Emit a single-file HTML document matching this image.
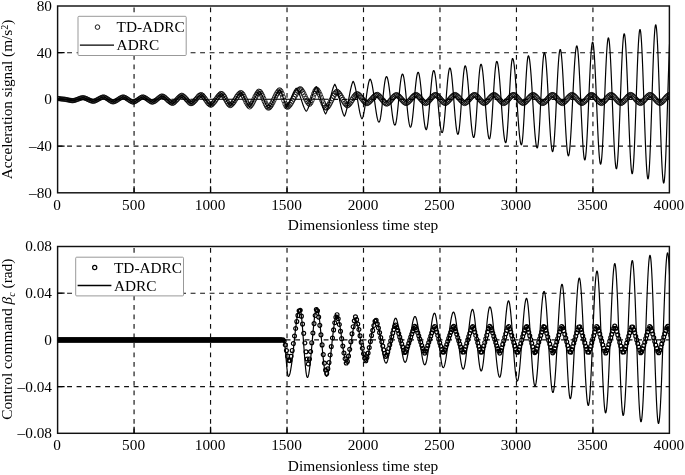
<!DOCTYPE html><html><head><meta charset="utf-8"><style>html,body{margin:0;padding:0;background:#fff;width:685px;height:475px;overflow:hidden}svg{display:block;will-change:transform}text{font-family:"Liberation Serif",serif;fill:#000}</style></head><body><svg width="685" height="475" viewBox="0 0 685 475"><rect width="685" height="475" fill="#fff"/><defs><clipPath id="ct"><rect x="57.6" y="6" width="611.8" height="186.8"/></clipPath><clipPath id="cb"><rect x="57.6" y="246.5" width="611.8" height="186.8"/></clipPath></defs><path d="M134.07 192.8V6" stroke="#111" stroke-width="1.15" stroke-dasharray="4.9 4.6" fill="none"/><path d="M210.55 192.8V6" stroke="#111" stroke-width="1.15" stroke-dasharray="4.9 4.6" fill="none"/><path d="M287.02 192.8V6" stroke="#111" stroke-width="1.15" stroke-dasharray="4.9 4.6" fill="none"/><path d="M363.5 192.8V6" stroke="#111" stroke-width="1.15" stroke-dasharray="4.9 4.6" fill="none"/><path d="M439.98 192.8V6" stroke="#111" stroke-width="1.15" stroke-dasharray="4.9 4.6" fill="none"/><path d="M516.45 192.8V6" stroke="#111" stroke-width="1.15" stroke-dasharray="4.9 4.6" fill="none"/><path d="M592.93 192.8V6" stroke="#111" stroke-width="1.15" stroke-dasharray="4.9 4.6" fill="none"/><path d="M57.6 52.7H669.4" stroke="#111" stroke-width="1.15" stroke-dasharray="4.9 4.6" fill="none"/><path d="M57.6 99.4H669.4" stroke="#111" stroke-width="1.15" stroke-dasharray="4.9 4.6" fill="none"/><path d="M57.6 146.1H669.4" stroke="#111" stroke-width="1.15" stroke-dasharray="4.9 4.6" fill="none"/><g clip-path="url(#ct)"><path d="M57.6 99.4H328" stroke="#444" stroke-width="0.75" fill="none"/><path d="M55.45 98.5a2.15 2.15 0 1 0 4.3 0a2.15 2.15 0 1 0 -4.3 0M56.6 98.59a2.15 2.15 0 1 0 4.3 0a2.15 2.15 0 1 0 -4.3 0M57.75 98.74a2.15 2.15 0 1 0 4.3 0a2.15 2.15 0 1 0 -4.3 0M58.9 98.91a2.15 2.15 0 1 0 4.3 0a2.15 2.15 0 1 0 -4.3 0M60.05 99.05a2.15 2.15 0 1 0 4.3 0a2.15 2.15 0 1 0 -4.3 0M61.2 99.13a2.15 2.15 0 1 0 4.3 0a2.15 2.15 0 1 0 -4.3 0M62.35 99.25a2.15 2.15 0 1 0 4.3 0a2.15 2.15 0 1 0 -4.3 0M63.5 99.44a2.15 2.15 0 1 0 4.3 0a2.15 2.15 0 1 0 -4.3 0M64.65 99.66a2.15 2.15 0 1 0 4.3 0a2.15 2.15 0 1 0 -4.3 0M65.8 99.91a2.15 2.15 0 1 0 4.3 0a2.15 2.15 0 1 0 -4.3 0M66.95 100.16a2.15 2.15 0 1 0 4.3 0a2.15 2.15 0 1 0 -4.3 0M68.1 100.38a2.15 2.15 0 1 0 4.3 0a2.15 2.15 0 1 0 -4.3 0M69.25 100.56a2.15 2.15 0 1 0 4.3 0a2.15 2.15 0 1 0 -4.3 0M70.4 100.68a2.15 2.15 0 1 0 4.3 0a2.15 2.15 0 1 0 -4.3 0M71.55 100.56a2.15 2.15 0 1 0 4.3 0a2.15 2.15 0 1 0 -4.3 0M72.7 100.28a2.15 2.15 0 1 0 4.3 0a2.15 2.15 0 1 0 -4.3 0M73.85 99.91a2.15 2.15 0 1 0 4.3 0a2.15 2.15 0 1 0 -4.3 0M75 99.47a2.15 2.15 0 1 0 4.3 0a2.15 2.15 0 1 0 -4.3 0M76.15 99.01a2.15 2.15 0 1 0 4.3 0a2.15 2.15 0 1 0 -4.3 0M77.3 98.57a2.15 2.15 0 1 0 4.3 0a2.15 2.15 0 1 0 -4.3 0M78.45 98.18a2.15 2.15 0 1 0 4.3 0a2.15 2.15 0 1 0 -4.3 0M79.6 97.87a2.15 2.15 0 1 0 4.3 0a2.15 2.15 0 1 0 -4.3 0M80.75 97.66a2.15 2.15 0 1 0 4.3 0a2.15 2.15 0 1 0 -4.3 0M81.9 97.86a2.15 2.15 0 1 0 4.3 0a2.15 2.15 0 1 0 -4.3 0M83.05 98.21a2.15 2.15 0 1 0 4.3 0a2.15 2.15 0 1 0 -4.3 0M84.2 98.68a2.15 2.15 0 1 0 4.3 0a2.15 2.15 0 1 0 -4.3 0M85.35 99.21a2.15 2.15 0 1 0 4.3 0a2.15 2.15 0 1 0 -4.3 0M86.5 99.77a2.15 2.15 0 1 0 4.3 0a2.15 2.15 0 1 0 -4.3 0M87.65 100.3a2.15 2.15 0 1 0 4.3 0a2.15 2.15 0 1 0 -4.3 0M88.8 100.77a2.15 2.15 0 1 0 4.3 0a2.15 2.15 0 1 0 -4.3 0M89.95 101.13a2.15 2.15 0 1 0 4.3 0a2.15 2.15 0 1 0 -4.3 0M91.1 101.34a2.15 2.15 0 1 0 4.3 0a2.15 2.15 0 1 0 -4.3 0M92.25 101.06a2.15 2.15 0 1 0 4.3 0a2.15 2.15 0 1 0 -4.3 0M93.4 100.62a2.15 2.15 0 1 0 4.3 0a2.15 2.15 0 1 0 -4.3 0M94.55 100.07a2.15 2.15 0 1 0 4.3 0a2.15 2.15 0 1 0 -4.3 0M95.7 99.44a2.15 2.15 0 1 0 4.3 0a2.15 2.15 0 1 0 -4.3 0M96.85 98.78a2.15 2.15 0 1 0 4.3 0a2.15 2.15 0 1 0 -4.3 0M98 98.15a2.15 2.15 0 1 0 4.3 0a2.15 2.15 0 1 0 -4.3 0M99.15 97.61a2.15 2.15 0 1 0 4.3 0a2.15 2.15 0 1 0 -4.3 0M100.3 97.2a2.15 2.15 0 1 0 4.3 0a2.15 2.15 0 1 0 -4.3 0M101.45 96.97a2.15 2.15 0 1 0 4.3 0a2.15 2.15 0 1 0 -4.3 0M102.6 97.33a2.15 2.15 0 1 0 4.3 0a2.15 2.15 0 1 0 -4.3 0M103.75 97.89a2.15 2.15 0 1 0 4.3 0a2.15 2.15 0 1 0 -4.3 0M104.9 98.59a2.15 2.15 0 1 0 4.3 0a2.15 2.15 0 1 0 -4.3 0M106.05 99.38a2.15 2.15 0 1 0 4.3 0a2.15 2.15 0 1 0 -4.3 0M107.2 100.17a2.15 2.15 0 1 0 4.3 0a2.15 2.15 0 1 0 -4.3 0M108.35 100.9a2.15 2.15 0 1 0 4.3 0a2.15 2.15 0 1 0 -4.3 0M109.5 101.48a2.15 2.15 0 1 0 4.3 0a2.15 2.15 0 1 0 -4.3 0M110.65 101.88a2.15 2.15 0 1 0 4.3 0a2.15 2.15 0 1 0 -4.3 0M111.8 101.73a2.15 2.15 0 1 0 4.3 0a2.15 2.15 0 1 0 -4.3 0M112.95 101.27a2.15 2.15 0 1 0 4.3 0a2.15 2.15 0 1 0 -4.3 0M114.1 100.66a2.15 2.15 0 1 0 4.3 0a2.15 2.15 0 1 0 -4.3 0M115.25 99.95a2.15 2.15 0 1 0 4.3 0a2.15 2.15 0 1 0 -4.3 0M116.4 99.18a2.15 2.15 0 1 0 4.3 0a2.15 2.15 0 1 0 -4.3 0M117.55 98.45a2.15 2.15 0 1 0 4.3 0a2.15 2.15 0 1 0 -4.3 0M118.7 97.8a2.15 2.15 0 1 0 4.3 0a2.15 2.15 0 1 0 -4.3 0M119.85 97.29a2.15 2.15 0 1 0 4.3 0a2.15 2.15 0 1 0 -4.3 0M121 96.96a2.15 2.15 0 1 0 4.3 0a2.15 2.15 0 1 0 -4.3 0M122.15 97.27a2.15 2.15 0 1 0 4.3 0a2.15 2.15 0 1 0 -4.3 0M123.3 97.78a2.15 2.15 0 1 0 4.3 0a2.15 2.15 0 1 0 -4.3 0M124.45 98.44a2.15 2.15 0 1 0 4.3 0a2.15 2.15 0 1 0 -4.3 0M125.6 99.21a2.15 2.15 0 1 0 4.3 0a2.15 2.15 0 1 0 -4.3 0M126.75 100a2.15 2.15 0 1 0 4.3 0a2.15 2.15 0 1 0 -4.3 0M127.9 100.75a2.15 2.15 0 1 0 4.3 0a2.15 2.15 0 1 0 -4.3 0M129.05 101.4a2.15 2.15 0 1 0 4.3 0a2.15 2.15 0 1 0 -4.3 0M130.2 101.89a2.15 2.15 0 1 0 4.3 0a2.15 2.15 0 1 0 -4.3 0M131.35 102.1a2.15 2.15 0 1 0 4.3 0a2.15 2.15 0 1 0 -4.3 0M132.5 101.7a2.15 2.15 0 1 0 4.3 0a2.15 2.15 0 1 0 -4.3 0M133.65 101.1a2.15 2.15 0 1 0 4.3 0a2.15 2.15 0 1 0 -4.3 0M134.8 100.36a2.15 2.15 0 1 0 4.3 0a2.15 2.15 0 1 0 -4.3 0M135.95 99.52a2.15 2.15 0 1 0 4.3 0a2.15 2.15 0 1 0 -4.3 0M137.1 98.69a2.15 2.15 0 1 0 4.3 0a2.15 2.15 0 1 0 -4.3 0M138.25 97.95a2.15 2.15 0 1 0 4.3 0a2.15 2.15 0 1 0 -4.3 0M139.4 97.35a2.15 2.15 0 1 0 4.3 0a2.15 2.15 0 1 0 -4.3 0M140.55 96.95a2.15 2.15 0 1 0 4.3 0a2.15 2.15 0 1 0 -4.3 0M141.7 97.18a2.15 2.15 0 1 0 4.3 0a2.15 2.15 0 1 0 -4.3 0M142.85 97.72a2.15 2.15 0 1 0 4.3 0a2.15 2.15 0 1 0 -4.3 0M144 98.42a2.15 2.15 0 1 0 4.3 0a2.15 2.15 0 1 0 -4.3 0M145.15 99.23a2.15 2.15 0 1 0 4.3 0a2.15 2.15 0 1 0 -4.3 0M146.3 100.07a2.15 2.15 0 1 0 4.3 0a2.15 2.15 0 1 0 -4.3 0M147.45 100.86a2.15 2.15 0 1 0 4.3 0a2.15 2.15 0 1 0 -4.3 0M148.6 101.52a2.15 2.15 0 1 0 4.3 0a2.15 2.15 0 1 0 -4.3 0M149.74 101.99a2.16 2.16 0 1 0 4.31 0a2.16 2.16 0 1 0 -4.31 0M150.89 101.98a2.16 2.16 0 1 0 4.32 0a2.16 2.16 0 1 0 -4.32 0M152.04 101.45a2.16 2.16 0 1 0 4.33 0a2.16 2.16 0 1 0 -4.33 0M153.18 100.71a2.17 2.17 0 1 0 4.33 0a2.17 2.17 0 1 0 -4.33 0M154.33 99.81a2.17 2.17 0 1 0 4.34 0a2.17 2.17 0 1 0 -4.34 0M155.48 98.85a2.17 2.17 0 1 0 4.35 0a2.17 2.17 0 1 0 -4.35 0M156.62 97.91a2.18 2.18 0 1 0 4.36 0a2.18 2.18 0 1 0 -4.36 0M157.77 97.08a2.18 2.18 0 1 0 4.36 0a2.18 2.18 0 1 0 -4.36 0M158.91 96.44a2.19 2.19 0 1 0 4.37 0a2.19 2.19 0 1 0 -4.37 0M160.06 96.06a2.19 2.19 0 1 0 4.38 0a2.19 2.19 0 1 0 -4.38 0M161.21 96.54a2.19 2.19 0 1 0 4.39 0a2.19 2.19 0 1 0 -4.39 0M162.35 97.27a2.2 2.2 0 1 0 4.39 0a2.2 2.2 0 1 0 -4.39 0M163.5 98.21a2.2 2.2 0 1 0 4.4 0a2.2 2.2 0 1 0 -4.4 0M164.65 99.27a2.2 2.2 0 1 0 4.41 0a2.2 2.2 0 1 0 -4.41 0M165.79 100.37a2.21 2.21 0 1 0 4.41 0a2.21 2.21 0 1 0 -4.41 0M166.94 101.41a2.21 2.21 0 1 0 4.42 0a2.21 2.21 0 1 0 -4.42 0M168.09 102.31a2.21 2.21 0 1 0 4.43 0a2.21 2.21 0 1 0 -4.43 0M169.23 102.98a2.22 2.22 0 1 0 4.44 0a2.22 2.22 0 1 0 -4.44 0M170.38 103.28a2.22 2.22 0 1 0 4.44 0a2.22 2.22 0 1 0 -4.44 0M171.52 102.65a2.23 2.23 0 1 0 4.45 0a2.23 2.23 0 1 0 -4.45 0M172.67 101.71a2.23 2.23 0 1 0 4.46 0a2.23 2.23 0 1 0 -4.46 0M173.82 100.53a2.23 2.23 0 1 0 4.47 0a2.23 2.23 0 1 0 -4.47 0M174.96 99.24a2.24 2.24 0 1 0 4.47 0a2.24 2.24 0 1 0 -4.47 0M176.11 97.95a2.24 2.24 0 1 0 4.48 0a2.24 2.24 0 1 0 -4.48 0M177.26 96.81a2.24 2.24 0 1 0 4.49 0a2.24 2.24 0 1 0 -4.49 0M178.4 95.92a2.25 2.25 0 1 0 4.5 0a2.25 2.25 0 1 0 -4.5 0M179.55 95.35a2.25 2.25 0 1 0 4.5 0a2.25 2.25 0 1 0 -4.5 0M180.7 95.93a2.25 2.25 0 1 0 4.51 0a2.25 2.25 0 1 0 -4.51 0M181.84 96.84a2.26 2.26 0 1 0 4.52 0a2.26 2.26 0 1 0 -4.52 0M182.99 98.01a2.26 2.26 0 1 0 4.52 0a2.26 2.26 0 1 0 -4.52 0M184.13 99.32a2.27 2.27 0 1 0 4.53 0a2.27 2.27 0 1 0 -4.53 0M185.28 100.66a2.27 2.27 0 1 0 4.54 0a2.27 2.27 0 1 0 -4.54 0M186.43 101.88a2.27 2.27 0 1 0 4.55 0a2.27 2.27 0 1 0 -4.55 0M187.57 102.86a2.28 2.28 0 1 0 4.55 0a2.28 2.28 0 1 0 -4.55 0M188.72 103.53a2.28 2.28 0 1 0 4.56 0a2.28 2.28 0 1 0 -4.56 0M189.87 103.23a2.28 2.28 0 1 0 4.57 0a2.28 2.28 0 1 0 -4.57 0M191.01 102.36a2.29 2.29 0 1 0 4.58 0a2.29 2.29 0 1 0 -4.58 0M192.16 101.19a2.29 2.29 0 1 0 4.58 0a2.29 2.29 0 1 0 -4.58 0M193.3 99.83a2.3 2.3 0 1 0 4.59 0a2.3 2.3 0 1 0 -4.59 0M194.45 98.41a2.3 2.3 0 1 0 4.6 0a2.3 2.3 0 1 0 -4.6 0M195.6 97.05a2.3 2.3 0 1 0 4.6 0a2.3 2.3 0 1 0 -4.6 0M196.74 95.89a2.31 2.31 0 1 0 4.61 0a2.31 2.31 0 1 0 -4.61 0M197.89 95.04a2.31 2.31 0 1 0 4.62 0a2.31 2.31 0 1 0 -4.62 0M199.04 94.82a2.31 2.31 0 1 0 4.63 0a2.31 2.31 0 1 0 -4.63 0M200.18 95.65a2.32 2.32 0 1 0 4.63 0a2.32 2.32 0 1 0 -4.63 0M201.33 96.87a2.32 2.32 0 1 0 4.64 0a2.32 2.32 0 1 0 -4.64 0M202.48 98.36a2.32 2.32 0 1 0 4.65 0a2.32 2.32 0 1 0 -4.65 0M203.62 99.99a2.33 2.33 0 1 0 4.66 0a2.33 2.33 0 1 0 -4.66 0M204.77 101.61a2.33 2.33 0 1 0 4.66 0a2.33 2.33 0 1 0 -4.66 0M205.91 103.07a2.34 2.34 0 1 0 4.67 0a2.34 2.34 0 1 0 -4.67 0M207.06 104.22a2.34 2.34 0 1 0 4.68 0a2.34 2.34 0 1 0 -4.68 0M208.21 104.98a2.34 2.34 0 1 0 4.69 0a2.34 2.34 0 1 0 -4.69 0M209.35 104.47a2.35 2.35 0 1 0 4.69 0a2.35 2.35 0 1 0 -4.69 0M210.5 103.47a2.35 2.35 0 1 0 4.7 0a2.35 2.35 0 1 0 -4.7 0M211.65 102.15a2.35 2.35 0 1 0 4.71 0a2.35 2.35 0 1 0 -4.71 0M212.79 100.61a2.36 2.36 0 1 0 4.71 0a2.36 2.36 0 1 0 -4.71 0M213.94 98.97a2.36 2.36 0 1 0 4.72 0a2.36 2.36 0 1 0 -4.72 0M215.09 97.35a2.36 2.36 0 1 0 4.73 0a2.36 2.36 0 1 0 -4.73 0M216.23 95.9a2.37 2.37 0 1 0 4.74 0a2.37 2.37 0 1 0 -4.74 0M217.38 94.7a2.37 2.37 0 1 0 4.74 0a2.37 2.37 0 1 0 -4.74 0M218.52 93.85a2.38 2.38 0 1 0 4.75 0a2.38 2.38 0 1 0 -4.75 0M219.67 94.05a2.38 2.38 0 1 0 4.76 0a2.38 2.38 0 1 0 -4.76 0M220.82 95.28a2.38 2.38 0 1 0 4.77 0a2.38 2.38 0 1 0 -4.77 0M221.96 96.98a2.39 2.39 0 1 0 4.77 0a2.39 2.39 0 1 0 -4.77 0M223.11 98.98a2.39 2.39 0 1 0 4.78 0a2.39 2.39 0 1 0 -4.78 0M224.26 101.05a2.39 2.39 0 1 0 4.79 0a2.39 2.39 0 1 0 -4.79 0M225.4 102.93a2.4 2.4 0 1 0 4.8 0a2.4 2.4 0 1 0 -4.8 0M226.55 104.43a2.4 2.4 0 1 0 4.8 0a2.4 2.4 0 1 0 -4.8 0M227.7 105.39a2.4 2.4 0 1 0 4.81 0a2.4 2.4 0 1 0 -4.81 0M228.84 104.77a2.41 2.41 0 1 0 4.82 0a2.41 2.41 0 1 0 -4.82 0M229.99 103.62a2.41 2.41 0 1 0 4.82 0a2.41 2.41 0 1 0 -4.82 0M231.13 102.13a2.42 2.42 0 1 0 4.83 0a2.42 2.42 0 1 0 -4.83 0M232.28 100.41a2.42 2.42 0 1 0 4.84 0a2.42 2.42 0 1 0 -4.84 0M233.43 98.57a2.42 2.42 0 1 0 4.85 0a2.42 2.42 0 1 0 -4.85 0M234.57 96.77a2.43 2.43 0 1 0 4.85 0a2.43 2.43 0 1 0 -4.85 0M235.72 95.15a2.43 2.43 0 1 0 4.86 0a2.43 2.43 0 1 0 -4.86 0M236.87 93.83a2.43 2.43 0 1 0 4.87 0a2.43 2.43 0 1 0 -4.87 0M238.01 92.9a2.44 2.44 0 1 0 4.88 0a2.44 2.44 0 1 0 -4.88 0M239.16 93.23a2.44 2.44 0 1 0 4.88 0a2.44 2.44 0 1 0 -4.88 0M240.3 94.71a2.45 2.45 0 1 0 4.89 0a2.45 2.45 0 1 0 -4.89 0M241.45 96.75a2.45 2.45 0 1 0 4.9 0a2.45 2.45 0 1 0 -4.9 0M242.6 99.12a2.45 2.45 0 1 0 4.9 0a2.45 2.45 0 1 0 -4.9 0M243.74 101.55a2.46 2.46 0 1 0 4.91 0a2.46 2.46 0 1 0 -4.91 0M244.89 103.73a2.46 2.46 0 1 0 4.92 0a2.46 2.46 0 1 0 -4.92 0M246.04 105.43a2.46 2.46 0 1 0 4.93 0a2.46 2.46 0 1 0 -4.93 0M247.18 106.42a2.47 2.47 0 1 0 4.93 0a2.47 2.47 0 1 0 -4.93 0M248.33 105.36a2.47 2.47 0 1 0 4.94 0a2.47 2.47 0 1 0 -4.94 0M249.48 103.74a2.47 2.47 0 1 0 4.95 0a2.47 2.47 0 1 0 -4.95 0M250.62 101.66a2.48 2.48 0 1 0 4.96 0a2.48 2.48 0 1 0 -4.96 0M251.77 99.32a2.48 2.48 0 1 0 4.96 0a2.48 2.48 0 1 0 -4.96 0M252.91 96.94a2.49 2.49 0 1 0 4.97 0a2.49 2.49 0 1 0 -4.97 0M254.06 94.74a2.49 2.49 0 1 0 4.98 0a2.49 2.49 0 1 0 -4.98 0M255.21 92.94a2.49 2.49 0 1 0 4.99 0a2.49 2.49 0 1 0 -4.99 0M256.35 91.68a2.5 2.5 0 1 0 4.99 0a2.5 2.5 0 1 0 -4.99 0M257.5 92a2.5 2.5 0 1 0 5 0a2.5 2.5 0 1 0 -5 0M258.65 93.66a2.5 2.5 0 1 0 5 0a2.5 2.5 0 1 0 -5 0M259.8 95.94a2.5 2.5 0 1 0 5 0a2.5 2.5 0 1 0 -5 0M260.95 98.61a2.5 2.5 0 1 0 5 0a2.5 2.5 0 1 0 -5 0M262.1 101.39a2.5 2.5 0 1 0 5 0a2.5 2.5 0 1 0 -5 0M263.25 104a2.5 2.5 0 1 0 5 0a2.5 2.5 0 1 0 -5 0M264.4 106.16a2.5 2.5 0 1 0 5 0a2.5 2.5 0 1 0 -5 0M265.55 107.66a2.5 2.5 0 1 0 5 0a2.5 2.5 0 1 0 -5 0M266.7 107.5a2.5 2.5 0 1 0 5 0a2.5 2.5 0 1 0 -5 0M267.85 106.17a2.5 2.5 0 1 0 5 0a2.5 2.5 0 1 0 -5 0M269 104.37a2.5 2.5 0 1 0 5 0a2.5 2.5 0 1 0 -5 0M270.15 102.19a2.5 2.5 0 1 0 5 0a2.5 2.5 0 1 0 -5 0M271.3 99.8a2.5 2.5 0 1 0 5 0a2.5 2.5 0 1 0 -5 0M272.45 97.35a2.5 2.5 0 1 0 5 0a2.5 2.5 0 1 0 -5 0M273.6 95.02a2.5 2.5 0 1 0 5 0a2.5 2.5 0 1 0 -5 0M274.75 92.98a2.5 2.5 0 1 0 5 0a2.5 2.5 0 1 0 -5 0M275.9 91.35a2.5 2.5 0 1 0 5 0a2.5 2.5 0 1 0 -5 0M277.05 90.22a2.5 2.5 0 1 0 5 0a2.5 2.5 0 1 0 -5 0M278.2 91.26a2.5 2.5 0 1 0 5 0a2.5 2.5 0 1 0 -5 0M279.35 93.78a2.5 2.5 0 1 0 5 0a2.5 2.5 0 1 0 -5 0M280.5 97.08a2.5 2.5 0 1 0 5 0a2.5 2.5 0 1 0 -5 0M281.65 100.63a2.5 2.5 0 1 0 5 0a2.5 2.5 0 1 0 -5 0M282.8 103.85a2.5 2.5 0 1 0 5 0a2.5 2.5 0 1 0 -5 0M283.95 106.25a2.5 2.5 0 1 0 5 0a2.5 2.5 0 1 0 -5 0M285.1 106.95a2.5 2.5 0 1 0 5 0a2.5 2.5 0 1 0 -5 0M286.25 105.95a2.5 2.5 0 1 0 5 0a2.5 2.5 0 1 0 -5 0M287.4 104.57a2.5 2.5 0 1 0 5 0a2.5 2.5 0 1 0 -5 0M288.55 102.85a2.5 2.5 0 1 0 5 0a2.5 2.5 0 1 0 -5 0M289.7 100.88a2.5 2.5 0 1 0 5 0a2.5 2.5 0 1 0 -5 0M290.85 98.76a2.5 2.5 0 1 0 5 0a2.5 2.5 0 1 0 -5 0M292 96.6a2.5 2.5 0 1 0 5 0a2.5 2.5 0 1 0 -5 0M293.15 94.53a2.5 2.5 0 1 0 5 0a2.5 2.5 0 1 0 -5 0M294.3 92.65a2.5 2.5 0 1 0 5 0a2.5 2.5 0 1 0 -5 0M295.45 91.05a2.5 2.5 0 1 0 5 0a2.5 2.5 0 1 0 -5 0M296.6 89.81a2.5 2.5 0 1 0 5 0a2.5 2.5 0 1 0 -5 0M297.75 89.03a2.5 2.5 0 1 0 5 0a2.5 2.5 0 1 0 -5 0M298.9 90.14a2.5 2.5 0 1 0 5 0a2.5 2.5 0 1 0 -5 0M300.05 91.86a2.5 2.5 0 1 0 5 0a2.5 2.5 0 1 0 -5 0M301.2 94.05a2.5 2.5 0 1 0 5 0a2.5 2.5 0 1 0 -5 0M302.35 96.5a2.5 2.5 0 1 0 5 0a2.5 2.5 0 1 0 -5 0M303.5 98.95a2.5 2.5 0 1 0 5 0a2.5 2.5 0 1 0 -5 0M304.65 101.14a2.5 2.5 0 1 0 5 0a2.5 2.5 0 1 0 -5 0M305.8 102.86a2.5 2.5 0 1 0 5 0a2.5 2.5 0 1 0 -5 0M306.95 103.97a2.5 2.5 0 1 0 5 0a2.5 2.5 0 1 0 -5 0M308.1 102.55a2.5 2.5 0 1 0 5 0a2.5 2.5 0 1 0 -5 0M309.25 100.05a2.5 2.5 0 1 0 5 0a2.5 2.5 0 1 0 -5 0M310.4 96.93a2.5 2.5 0 1 0 5 0a2.5 2.5 0 1 0 -5 0M311.55 93.77a2.5 2.5 0 1 0 5 0a2.5 2.5 0 1 0 -5 0M312.7 91.12a2.5 2.5 0 1 0 5 0a2.5 2.5 0 1 0 -5 0M313.85 89.44a2.5 2.5 0 1 0 5 0a2.5 2.5 0 1 0 -5 0M315 90.35a2.5 2.5 0 1 0 5 0a2.5 2.5 0 1 0 -5 0M316.15 92.22a2.5 2.5 0 1 0 5 0a2.5 2.5 0 1 0 -5 0M317.3 94.68a2.5 2.5 0 1 0 5 0a2.5 2.5 0 1 0 -5 0M318.45 97.5a2.5 2.5 0 1 0 5 0a2.5 2.5 0 1 0 -5 0M319.6 100.43a2.5 2.5 0 1 0 5 0a2.5 2.5 0 1 0 -5 0M320.75 103.2a2.5 2.5 0 1 0 5 0a2.5 2.5 0 1 0 -5 0M321.9 105.54a2.5 2.5 0 1 0 5 0a2.5 2.5 0 1 0 -5 0M323.05 107.27a2.5 2.5 0 1 0 5 0a2.5 2.5 0 1 0 -5 0M324.2 107.72a2.5 2.5 0 1 0 5 0a2.5 2.5 0 1 0 -5 0M325.35 106.53a2.5 2.5 0 1 0 5 0a2.5 2.5 0 1 0 -5 0M326.5 104.84a2.5 2.5 0 1 0 5 0a2.5 2.5 0 1 0 -5 0M327.65 102.75a2.5 2.5 0 1 0 5 0a2.5 2.5 0 1 0 -5 0M328.8 100.42a2.5 2.5 0 1 0 5 0a2.5 2.5 0 1 0 -5 0M329.95 98.05a2.5 2.5 0 1 0 5 0a2.5 2.5 0 1 0 -5 0M331.1 95.81a2.5 2.5 0 1 0 5 0a2.5 2.5 0 1 0 -5 0M332.25 93.9a2.5 2.5 0 1 0 5 0a2.5 2.5 0 1 0 -5 0M333.4 92.43a2.5 2.5 0 1 0 5 0a2.5 2.5 0 1 0 -5 0M334.55 91.68a2.5 2.5 0 1 0 5 0a2.5 2.5 0 1 0 -5 0M335.7 92.6a2.5 2.5 0 1 0 5 0a2.5 2.5 0 1 0 -5 0M336.85 93.96a2.5 2.5 0 1 0 5 0a2.5 2.5 0 1 0 -5 0M338 95.69a2.5 2.5 0 1 0 5 0a2.5 2.5 0 1 0 -5 0M339.15 97.64a2.5 2.5 0 1 0 5 0a2.5 2.5 0 1 0 -5 0M340.3 99.67a2.5 2.5 0 1 0 5 0a2.5 2.5 0 1 0 -5 0M341.45 101.61a2.5 2.5 0 1 0 5 0a2.5 2.5 0 1 0 -5 0M342.6 103.29a2.5 2.5 0 1 0 5 0a2.5 2.5 0 1 0 -5 0M343.75 104.6a2.5 2.5 0 1 0 5 0a2.5 2.5 0 1 0 -5 0M344.9 105.45a2.5 2.5 0 1 0 5 0a2.5 2.5 0 1 0 -5 0M346.05 104.66a2.5 2.5 0 1 0 5 0a2.5 2.5 0 1 0 -5 0M347.2 103.43a2.5 2.5 0 1 0 5 0a2.5 2.5 0 1 0 -5 0M348.35 101.84a2.5 2.5 0 1 0 5 0a2.5 2.5 0 1 0 -5 0M349.5 100.05a2.5 2.5 0 1 0 5 0a2.5 2.5 0 1 0 -5 0M350.65 98.22a2.5 2.5 0 1 0 5 0a2.5 2.5 0 1 0 -5 0M351.8 96.52a2.5 2.5 0 1 0 5 0a2.5 2.5 0 1 0 -5 0M352.95 95.12a2.5 2.5 0 1 0 5 0a2.5 2.5 0 1 0 -5 0M354.1 94.13a2.5 2.5 0 1 0 5 0a2.5 2.5 0 1 0 -5 0M355.25 94.17a2.5 2.5 0 1 0 5 0a2.5 2.5 0 1 0 -5 0M356.4 95.03a2.5 2.5 0 1 0 5 0a2.5 2.5 0 1 0 -5 0M357.55 96.21a2.5 2.5 0 1 0 5 0a2.5 2.5 0 1 0 -5 0M358.7 97.62a2.5 2.5 0 1 0 5 0a2.5 2.5 0 1 0 -5 0M359.85 99.12a2.5 2.5 0 1 0 5 0a2.5 2.5 0 1 0 -5 0M361 100.58a2.5 2.5 0 1 0 5 0a2.5 2.5 0 1 0 -5 0M362.15 101.84a2.5 2.5 0 1 0 5 0a2.5 2.5 0 1 0 -5 0M363.3 102.81a2.5 2.5 0 1 0 5 0a2.5 2.5 0 1 0 -5 0M364.45 103.3a2.5 2.5 0 1 0 5 0a2.5 2.5 0 1 0 -5 0M365.6 102.7a2.5 2.5 0 1 0 5 0a2.5 2.5 0 1 0 -5 0M366.75 101.81a2.5 2.5 0 1 0 5 0a2.5 2.5 0 1 0 -5 0M367.9 100.68a2.5 2.5 0 1 0 5 0a2.5 2.5 0 1 0 -5 0M369.05 99.4a2.5 2.5 0 1 0 5 0a2.5 2.5 0 1 0 -5 0M370.2 98.09a2.5 2.5 0 1 0 5 0a2.5 2.5 0 1 0 -5 0M371.35 96.86a2.5 2.5 0 1 0 5 0a2.5 2.5 0 1 0 -5 0M372.5 95.81a2.5 2.5 0 1 0 5 0a2.5 2.5 0 1 0 -5 0M373.65 95.03a2.5 2.5 0 1 0 5 0a2.5 2.5 0 1 0 -5 0M374.8 94.78a2.5 2.5 0 1 0 5 0a2.5 2.5 0 1 0 -5 0M375.95 95.5a2.5 2.5 0 1 0 5 0a2.5 2.5 0 1 0 -5 0M377.1 96.56a2.5 2.5 0 1 0 5 0a2.5 2.5 0 1 0 -5 0M378.25 97.87a2.5 2.5 0 1 0 5 0a2.5 2.5 0 1 0 -5 0M379.4 99.31a2.5 2.5 0 1 0 5 0a2.5 2.5 0 1 0 -5 0M380.55 100.75a2.5 2.5 0 1 0 5 0a2.5 2.5 0 1 0 -5 0M381.7 102.05a2.5 2.5 0 1 0 5 0a2.5 2.5 0 1 0 -5 0M382.85 103.08a2.5 2.5 0 1 0 5 0a2.5 2.5 0 1 0 -5 0M384 103.77a2.5 2.5 0 1 0 5 0a2.5 2.5 0 1 0 -5 0M385.15 103.37a2.5 2.5 0 1 0 5 0a2.5 2.5 0 1 0 -5 0M386.3 102.47a2.5 2.5 0 1 0 5 0a2.5 2.5 0 1 0 -5 0M387.45 101.28a2.5 2.5 0 1 0 5 0a2.5 2.5 0 1 0 -5 0M388.6 99.91a2.5 2.5 0 1 0 5 0a2.5 2.5 0 1 0 -5 0M389.75 98.48a2.5 2.5 0 1 0 5 0a2.5 2.5 0 1 0 -5 0M390.9 97.14a2.5 2.5 0 1 0 5 0a2.5 2.5 0 1 0 -5 0M392.05 96.01a2.5 2.5 0 1 0 5 0a2.5 2.5 0 1 0 -5 0M393.2 95.18a2.5 2.5 0 1 0 5 0a2.5 2.5 0 1 0 -5 0M394.35 95.03a2.5 2.5 0 1 0 5 0a2.5 2.5 0 1 0 -5 0M395.5 95.72a2.5 2.5 0 1 0 5 0a2.5 2.5 0 1 0 -5 0M396.65 96.71a2.5 2.5 0 1 0 5 0a2.5 2.5 0 1 0 -5 0M397.8 97.91a2.5 2.5 0 1 0 5 0a2.5 2.5 0 1 0 -5 0M398.95 99.22a2.5 2.5 0 1 0 5 0a2.5 2.5 0 1 0 -5 0M400.1 100.51a2.5 2.5 0 1 0 5 0a2.5 2.5 0 1 0 -5 0M401.25 101.66a2.5 2.5 0 1 0 5 0a2.5 2.5 0 1 0 -5 0M402.4 102.57a2.5 2.5 0 1 0 5 0a2.5 2.5 0 1 0 -5 0M403.55 103.16a2.5 2.5 0 1 0 5 0a2.5 2.5 0 1 0 -5 0M404.7 102.7a2.5 2.5 0 1 0 5 0a2.5 2.5 0 1 0 -5 0M405.85 101.83a2.5 2.5 0 1 0 5 0a2.5 2.5 0 1 0 -5 0M407 100.7a2.5 2.5 0 1 0 5 0a2.5 2.5 0 1 0 -5 0M408.15 99.41a2.5 2.5 0 1 0 5 0a2.5 2.5 0 1 0 -5 0M409.3 98.07a2.5 2.5 0 1 0 5 0a2.5 2.5 0 1 0 -5 0M410.45 96.81a2.5 2.5 0 1 0 5 0a2.5 2.5 0 1 0 -5 0M411.6 95.76a2.5 2.5 0 1 0 5 0a2.5 2.5 0 1 0 -5 0M412.75 94.99a2.5 2.5 0 1 0 5 0a2.5 2.5 0 1 0 -5 0M413.9 94.9a2.5 2.5 0 1 0 5 0a2.5 2.5 0 1 0 -5 0M415.05 95.61a2.5 2.5 0 1 0 5 0a2.5 2.5 0 1 0 -5 0M416.2 96.62a2.5 2.5 0 1 0 5 0a2.5 2.5 0 1 0 -5 0M417.35 97.85a2.5 2.5 0 1 0 5 0a2.5 2.5 0 1 0 -5 0M418.5 99.18a2.5 2.5 0 1 0 5 0a2.5 2.5 0 1 0 -5 0M419.65 100.49a2.5 2.5 0 1 0 5 0a2.5 2.5 0 1 0 -5 0M420.8 101.66a2.5 2.5 0 1 0 5 0a2.5 2.5 0 1 0 -5 0M421.95 102.57a2.5 2.5 0 1 0 5 0a2.5 2.5 0 1 0 -5 0M423.1 103.17a2.5 2.5 0 1 0 5 0a2.5 2.5 0 1 0 -5 0M424.25 102.68a2.5 2.5 0 1 0 5 0a2.5 2.5 0 1 0 -5 0M425.4 101.8a2.5 2.5 0 1 0 5 0a2.5 2.5 0 1 0 -5 0M426.55 100.67a2.5 2.5 0 1 0 5 0a2.5 2.5 0 1 0 -5 0M427.7 99.37a2.5 2.5 0 1 0 5 0a2.5 2.5 0 1 0 -5 0M428.85 98.03a2.5 2.5 0 1 0 5 0a2.5 2.5 0 1 0 -5 0M430 96.78a2.5 2.5 0 1 0 5 0a2.5 2.5 0 1 0 -5 0M431.15 95.74a2.5 2.5 0 1 0 5 0a2.5 2.5 0 1 0 -5 0M432.3 94.98a2.5 2.5 0 1 0 5 0a2.5 2.5 0 1 0 -5 0M433.45 94.91a2.5 2.5 0 1 0 5 0a2.5 2.5 0 1 0 -5 0M434.6 95.63a2.5 2.5 0 1 0 5 0a2.5 2.5 0 1 0 -5 0M435.75 96.65a2.5 2.5 0 1 0 5 0a2.5 2.5 0 1 0 -5 0M436.9 97.89a2.5 2.5 0 1 0 5 0a2.5 2.5 0 1 0 -5 0M438.05 99.22a2.5 2.5 0 1 0 5 0a2.5 2.5 0 1 0 -5 0M439.2 100.53a2.5 2.5 0 1 0 5 0a2.5 2.5 0 1 0 -5 0M440.35 101.69a2.5 2.5 0 1 0 5 0a2.5 2.5 0 1 0 -5 0M441.5 102.59a2.5 2.5 0 1 0 5 0a2.5 2.5 0 1 0 -5 0M442.65 103.18a2.5 2.5 0 1 0 5 0a2.5 2.5 0 1 0 -5 0M443.8 102.66a2.5 2.5 0 1 0 5 0a2.5 2.5 0 1 0 -5 0M444.95 101.78a2.5 2.5 0 1 0 5 0a2.5 2.5 0 1 0 -5 0M446.1 100.63a2.5 2.5 0 1 0 5 0a2.5 2.5 0 1 0 -5 0M447.25 99.34a2.5 2.5 0 1 0 5 0a2.5 2.5 0 1 0 -5 0M448.4 98a2.5 2.5 0 1 0 5 0a2.5 2.5 0 1 0 -5 0M449.55 96.75a2.5 2.5 0 1 0 5 0a2.5 2.5 0 1 0 -5 0M450.7 95.71a2.5 2.5 0 1 0 5 0a2.5 2.5 0 1 0 -5 0M451.85 94.96a2.5 2.5 0 1 0 5 0a2.5 2.5 0 1 0 -5 0M453 94.93a2.5 2.5 0 1 0 5 0a2.5 2.5 0 1 0 -5 0M454.15 95.66a2.5 2.5 0 1 0 5 0a2.5 2.5 0 1 0 -5 0M455.3 96.68a2.5 2.5 0 1 0 5 0a2.5 2.5 0 1 0 -5 0M456.45 97.92a2.5 2.5 0 1 0 5 0a2.5 2.5 0 1 0 -5 0M457.6 99.25a2.5 2.5 0 1 0 5 0a2.5 2.5 0 1 0 -5 0M458.75 100.56a2.5 2.5 0 1 0 5 0a2.5 2.5 0 1 0 -5 0M459.9 101.71a2.5 2.5 0 1 0 5 0a2.5 2.5 0 1 0 -5 0M461.05 102.61a2.5 2.5 0 1 0 5 0a2.5 2.5 0 1 0 -5 0M462.2 103.19a2.5 2.5 0 1 0 5 0a2.5 2.5 0 1 0 -5 0M463.35 102.64a2.5 2.5 0 1 0 5 0a2.5 2.5 0 1 0 -5 0M464.5 101.75a2.5 2.5 0 1 0 5 0a2.5 2.5 0 1 0 -5 0M465.65 100.6a2.5 2.5 0 1 0 5 0a2.5 2.5 0 1 0 -5 0M466.8 99.3a2.5 2.5 0 1 0 5 0a2.5 2.5 0 1 0 -5 0M467.95 97.96a2.5 2.5 0 1 0 5 0a2.5 2.5 0 1 0 -5 0M469.1 96.72a2.5 2.5 0 1 0 5 0a2.5 2.5 0 1 0 -5 0M470.25 95.69a2.5 2.5 0 1 0 5 0a2.5 2.5 0 1 0 -5 0M471.4 94.95a2.5 2.5 0 1 0 5 0a2.5 2.5 0 1 0 -5 0M472.55 94.94a2.5 2.5 0 1 0 5 0a2.5 2.5 0 1 0 -5 0M473.7 95.68a2.5 2.5 0 1 0 5 0a2.5 2.5 0 1 0 -5 0M474.85 96.71a2.5 2.5 0 1 0 5 0a2.5 2.5 0 1 0 -5 0M476 97.95a2.5 2.5 0 1 0 5 0a2.5 2.5 0 1 0 -5 0M477.15 99.29a2.5 2.5 0 1 0 5 0a2.5 2.5 0 1 0 -5 0M478.3 100.59a2.5 2.5 0 1 0 5 0a2.5 2.5 0 1 0 -5 0M479.45 101.74a2.5 2.5 0 1 0 5 0a2.5 2.5 0 1 0 -5 0M480.6 102.63a2.5 2.5 0 1 0 5 0a2.5 2.5 0 1 0 -5 0M481.75 103.2a2.5 2.5 0 1 0 5 0a2.5 2.5 0 1 0 -5 0M482.9 102.62a2.5 2.5 0 1 0 5 0a2.5 2.5 0 1 0 -5 0M484.05 101.72a2.5 2.5 0 1 0 5 0a2.5 2.5 0 1 0 -5 0M485.2 100.57a2.5 2.5 0 1 0 5 0a2.5 2.5 0 1 0 -5 0M486.35 99.27a2.5 2.5 0 1 0 5 0a2.5 2.5 0 1 0 -5 0M487.5 97.93a2.5 2.5 0 1 0 5 0a2.5 2.5 0 1 0 -5 0M488.65 96.69a2.5 2.5 0 1 0 5 0a2.5 2.5 0 1 0 -5 0M489.8 95.66a2.5 2.5 0 1 0 5 0a2.5 2.5 0 1 0 -5 0M490.95 94.93a2.5 2.5 0 1 0 5 0a2.5 2.5 0 1 0 -5 0M492.1 94.96a2.5 2.5 0 1 0 5 0a2.5 2.5 0 1 0 -5 0M493.25 95.7a2.5 2.5 0 1 0 5 0a2.5 2.5 0 1 0 -5 0M494.4 96.74a2.5 2.5 0 1 0 5 0a2.5 2.5 0 1 0 -5 0M495.55 97.99a2.5 2.5 0 1 0 5 0a2.5 2.5 0 1 0 -5 0M496.7 99.32a2.5 2.5 0 1 0 5 0a2.5 2.5 0 1 0 -5 0M497.85 100.62a2.5 2.5 0 1 0 5 0a2.5 2.5 0 1 0 -5 0M499 101.77a2.5 2.5 0 1 0 5 0a2.5 2.5 0 1 0 -5 0M500.15 102.65a2.5 2.5 0 1 0 5 0a2.5 2.5 0 1 0 -5 0M501.3 103.19a2.5 2.5 0 1 0 5 0a2.5 2.5 0 1 0 -5 0M502.45 102.6a2.5 2.5 0 1 0 5 0a2.5 2.5 0 1 0 -5 0M503.6 101.7a2.5 2.5 0 1 0 5 0a2.5 2.5 0 1 0 -5 0M504.75 100.54a2.5 2.5 0 1 0 5 0a2.5 2.5 0 1 0 -5 0M505.9 99.23a2.5 2.5 0 1 0 5 0a2.5 2.5 0 1 0 -5 0M507.05 97.9a2.5 2.5 0 1 0 5 0a2.5 2.5 0 1 0 -5 0M508.2 96.66a2.5 2.5 0 1 0 5 0a2.5 2.5 0 1 0 -5 0M509.35 95.64a2.5 2.5 0 1 0 5 0a2.5 2.5 0 1 0 -5 0M510.5 94.92a2.5 2.5 0 1 0 5 0a2.5 2.5 0 1 0 -5 0M511.65 94.97a2.5 2.5 0 1 0 5 0a2.5 2.5 0 1 0 -5 0M512.8 95.73a2.5 2.5 0 1 0 5 0a2.5 2.5 0 1 0 -5 0M513.95 96.77a2.5 2.5 0 1 0 5 0a2.5 2.5 0 1 0 -5 0M515.1 98.02a2.5 2.5 0 1 0 5 0a2.5 2.5 0 1 0 -5 0M516.25 99.36a2.5 2.5 0 1 0 5 0a2.5 2.5 0 1 0 -5 0M517.4 100.66a2.5 2.5 0 1 0 5 0a2.5 2.5 0 1 0 -5 0M518.55 101.79a2.5 2.5 0 1 0 5 0a2.5 2.5 0 1 0 -5 0M519.7 102.67a2.5 2.5 0 1 0 5 0a2.5 2.5 0 1 0 -5 0M520.85 103.17a2.5 2.5 0 1 0 5 0a2.5 2.5 0 1 0 -5 0M522 102.58a2.5 2.5 0 1 0 5 0a2.5 2.5 0 1 0 -5 0M523.15 101.67a2.5 2.5 0 1 0 5 0a2.5 2.5 0 1 0 -5 0M524.3 100.5a2.5 2.5 0 1 0 5 0a2.5 2.5 0 1 0 -5 0M525.45 99.2a2.5 2.5 0 1 0 5 0a2.5 2.5 0 1 0 -5 0M526.6 97.86a2.5 2.5 0 1 0 5 0a2.5 2.5 0 1 0 -5 0M527.75 96.63a2.5 2.5 0 1 0 5 0a2.5 2.5 0 1 0 -5 0M528.9 95.62a2.5 2.5 0 1 0 5 0a2.5 2.5 0 1 0 -5 0M530.05 94.9a2.5 2.5 0 1 0 5 0a2.5 2.5 0 1 0 -5 0M531.2 94.99a2.5 2.5 0 1 0 5 0a2.5 2.5 0 1 0 -5 0M532.35 95.75a2.5 2.5 0 1 0 5 0a2.5 2.5 0 1 0 -5 0M533.5 96.8a2.5 2.5 0 1 0 5 0a2.5 2.5 0 1 0 -5 0M534.65 98.06a2.5 2.5 0 1 0 5 0a2.5 2.5 0 1 0 -5 0M535.8 99.39a2.5 2.5 0 1 0 5 0a2.5 2.5 0 1 0 -5 0M536.95 100.69a2.5 2.5 0 1 0 5 0a2.5 2.5 0 1 0 -5 0M538.1 101.82a2.5 2.5 0 1 0 5 0a2.5 2.5 0 1 0 -5 0M539.25 102.69a2.5 2.5 0 1 0 5 0a2.5 2.5 0 1 0 -5 0M540.4 103.16a2.5 2.5 0 1 0 5 0a2.5 2.5 0 1 0 -5 0M541.55 102.56a2.5 2.5 0 1 0 5 0a2.5 2.5 0 1 0 -5 0M542.7 101.64a2.5 2.5 0 1 0 5 0a2.5 2.5 0 1 0 -5 0M543.85 100.47a2.5 2.5 0 1 0 5 0a2.5 2.5 0 1 0 -5 0M545 99.16a2.5 2.5 0 1 0 5 0a2.5 2.5 0 1 0 -5 0M546.15 97.83a2.5 2.5 0 1 0 5 0a2.5 2.5 0 1 0 -5 0M547.3 96.6a2.5 2.5 0 1 0 5 0a2.5 2.5 0 1 0 -5 0M548.45 95.6a2.5 2.5 0 1 0 5 0a2.5 2.5 0 1 0 -5 0M549.6 94.89a2.5 2.5 0 1 0 5 0a2.5 2.5 0 1 0 -5 0M550.75 95a2.5 2.5 0 1 0 5 0a2.5 2.5 0 1 0 -5 0M551.9 95.78a2.5 2.5 0 1 0 5 0a2.5 2.5 0 1 0 -5 0M553.05 96.83a2.5 2.5 0 1 0 5 0a2.5 2.5 0 1 0 -5 0M554.2 98.09a2.5 2.5 0 1 0 5 0a2.5 2.5 0 1 0 -5 0M555.35 99.43a2.5 2.5 0 1 0 5 0a2.5 2.5 0 1 0 -5 0M556.5 100.72a2.5 2.5 0 1 0 5 0a2.5 2.5 0 1 0 -5 0M557.65 101.85a2.5 2.5 0 1 0 5 0a2.5 2.5 0 1 0 -5 0M558.8 102.71a2.5 2.5 0 1 0 5 0a2.5 2.5 0 1 0 -5 0M559.95 103.15a2.5 2.5 0 1 0 5 0a2.5 2.5 0 1 0 -5 0M561.1 102.54a2.5 2.5 0 1 0 5 0a2.5 2.5 0 1 0 -5 0M562.25 101.61a2.5 2.5 0 1 0 5 0a2.5 2.5 0 1 0 -5 0M563.4 100.44a2.5 2.5 0 1 0 5 0a2.5 2.5 0 1 0 -5 0M564.55 99.13a2.5 2.5 0 1 0 5 0a2.5 2.5 0 1 0 -5 0M565.7 97.79a2.5 2.5 0 1 0 5 0a2.5 2.5 0 1 0 -5 0M566.85 96.57a2.5 2.5 0 1 0 5 0a2.5 2.5 0 1 0 -5 0M568 95.57a2.5 2.5 0 1 0 5 0a2.5 2.5 0 1 0 -5 0M569.15 94.87a2.5 2.5 0 1 0 5 0a2.5 2.5 0 1 0 -5 0M570.3 95.02a2.5 2.5 0 1 0 5 0a2.5 2.5 0 1 0 -5 0M571.45 95.8a2.5 2.5 0 1 0 5 0a2.5 2.5 0 1 0 -5 0M572.6 96.86a2.5 2.5 0 1 0 5 0a2.5 2.5 0 1 0 -5 0M573.75 98.12a2.5 2.5 0 1 0 5 0a2.5 2.5 0 1 0 -5 0M574.9 99.46a2.5 2.5 0 1 0 5 0a2.5 2.5 0 1 0 -5 0M576.05 100.75a2.5 2.5 0 1 0 5 0a2.5 2.5 0 1 0 -5 0M577.2 101.87a2.5 2.5 0 1 0 5 0a2.5 2.5 0 1 0 -5 0M578.35 102.73a2.5 2.5 0 1 0 5 0a2.5 2.5 0 1 0 -5 0M579.5 103.14a2.5 2.5 0 1 0 5 0a2.5 2.5 0 1 0 -5 0M580.65 102.52a2.5 2.5 0 1 0 5 0a2.5 2.5 0 1 0 -5 0M581.8 101.58a2.5 2.5 0 1 0 5 0a2.5 2.5 0 1 0 -5 0M582.95 100.41a2.5 2.5 0 1 0 5 0a2.5 2.5 0 1 0 -5 0M584.1 99.09a2.5 2.5 0 1 0 5 0a2.5 2.5 0 1 0 -5 0M585.25 97.76a2.5 2.5 0 1 0 5 0a2.5 2.5 0 1 0 -5 0M586.4 96.54a2.5 2.5 0 1 0 5 0a2.5 2.5 0 1 0 -5 0M587.55 95.55a2.5 2.5 0 1 0 5 0a2.5 2.5 0 1 0 -5 0M588.7 94.86a2.5 2.5 0 1 0 5 0a2.5 2.5 0 1 0 -5 0M589.85 95.04a2.5 2.5 0 1 0 5 0a2.5 2.5 0 1 0 -5 0M591 95.82a2.5 2.5 0 1 0 5 0a2.5 2.5 0 1 0 -5 0M592.15 96.9a2.5 2.5 0 1 0 5 0a2.5 2.5 0 1 0 -5 0M593.3 98.16a2.5 2.5 0 1 0 5 0a2.5 2.5 0 1 0 -5 0M594.45 99.5a2.5 2.5 0 1 0 5 0a2.5 2.5 0 1 0 -5 0M595.6 100.78a2.5 2.5 0 1 0 5 0a2.5 2.5 0 1 0 -5 0M596.75 101.9a2.5 2.5 0 1 0 5 0a2.5 2.5 0 1 0 -5 0M597.9 102.74a2.5 2.5 0 1 0 5 0a2.5 2.5 0 1 0 -5 0M599.05 103.13a2.5 2.5 0 1 0 5 0a2.5 2.5 0 1 0 -5 0M600.2 102.5a2.5 2.5 0 1 0 5 0a2.5 2.5 0 1 0 -5 0M601.35 101.56a2.5 2.5 0 1 0 5 0a2.5 2.5 0 1 0 -5 0M602.5 100.37a2.5 2.5 0 1 0 5 0a2.5 2.5 0 1 0 -5 0M603.65 99.06a2.5 2.5 0 1 0 5 0a2.5 2.5 0 1 0 -5 0M604.8 97.73a2.5 2.5 0 1 0 5 0a2.5 2.5 0 1 0 -5 0M605.95 96.52a2.5 2.5 0 1 0 5 0a2.5 2.5 0 1 0 -5 0M607.1 95.53a2.5 2.5 0 1 0 5 0a2.5 2.5 0 1 0 -5 0M608.25 94.85a2.5 2.5 0 1 0 5 0a2.5 2.5 0 1 0 -5 0M609.4 95.05a2.5 2.5 0 1 0 5 0a2.5 2.5 0 1 0 -5 0M610.55 95.85a2.5 2.5 0 1 0 5 0a2.5 2.5 0 1 0 -5 0M611.7 96.93a2.5 2.5 0 1 0 5 0a2.5 2.5 0 1 0 -5 0M612.85 98.19a2.5 2.5 0 1 0 5 0a2.5 2.5 0 1 0 -5 0M614 99.53a2.5 2.5 0 1 0 5 0a2.5 2.5 0 1 0 -5 0M615.15 100.82a2.5 2.5 0 1 0 5 0a2.5 2.5 0 1 0 -5 0M616.3 101.92a2.5 2.5 0 1 0 5 0a2.5 2.5 0 1 0 -5 0M617.45 102.76a2.5 2.5 0 1 0 5 0a2.5 2.5 0 1 0 -5 0M618.6 103.12a2.5 2.5 0 1 0 5 0a2.5 2.5 0 1 0 -5 0M619.75 102.48a2.5 2.5 0 1 0 5 0a2.5 2.5 0 1 0 -5 0M620.9 101.53a2.5 2.5 0 1 0 5 0a2.5 2.5 0 1 0 -5 0M622.05 100.34a2.5 2.5 0 1 0 5 0a2.5 2.5 0 1 0 -5 0M623.2 99.02a2.5 2.5 0 1 0 5 0a2.5 2.5 0 1 0 -5 0M624.35 97.69a2.5 2.5 0 1 0 5 0a2.5 2.5 0 1 0 -5 0M625.5 96.49a2.5 2.5 0 1 0 5 0a2.5 2.5 0 1 0 -5 0M626.65 95.51a2.5 2.5 0 1 0 5 0a2.5 2.5 0 1 0 -5 0M627.8 94.83a2.5 2.5 0 1 0 5 0a2.5 2.5 0 1 0 -5 0M628.95 95.07a2.5 2.5 0 1 0 5 0a2.5 2.5 0 1 0 -5 0M630.1 95.87a2.5 2.5 0 1 0 5 0a2.5 2.5 0 1 0 -5 0M631.25 96.96a2.5 2.5 0 1 0 5 0a2.5 2.5 0 1 0 -5 0M632.4 98.23a2.5 2.5 0 1 0 5 0a2.5 2.5 0 1 0 -5 0M633.55 99.57a2.5 2.5 0 1 0 5 0a2.5 2.5 0 1 0 -5 0M634.7 100.85a2.5 2.5 0 1 0 5 0a2.5 2.5 0 1 0 -5 0M635.85 101.95a2.5 2.5 0 1 0 5 0a2.5 2.5 0 1 0 -5 0M637 102.78a2.5 2.5 0 1 0 5 0a2.5 2.5 0 1 0 -5 0M638.15 103.1a2.5 2.5 0 1 0 5 0a2.5 2.5 0 1 0 -5 0M639.3 102.46a2.5 2.5 0 1 0 5 0a2.5 2.5 0 1 0 -5 0M640.45 101.5a2.5 2.5 0 1 0 5 0a2.5 2.5 0 1 0 -5 0M641.6 100.31a2.5 2.5 0 1 0 5 0a2.5 2.5 0 1 0 -5 0M642.75 98.99a2.5 2.5 0 1 0 5 0a2.5 2.5 0 1 0 -5 0M643.9 97.66a2.5 2.5 0 1 0 5 0a2.5 2.5 0 1 0 -5 0M645.05 96.46a2.5 2.5 0 1 0 5 0a2.5 2.5 0 1 0 -5 0M646.2 95.49a2.5 2.5 0 1 0 5 0a2.5 2.5 0 1 0 -5 0M647.35 94.82a2.5 2.5 0 1 0 5 0a2.5 2.5 0 1 0 -5 0M648.5 95.09a2.5 2.5 0 1 0 5 0a2.5 2.5 0 1 0 -5 0M649.65 95.9a2.5 2.5 0 1 0 5 0a2.5 2.5 0 1 0 -5 0M650.8 96.99a2.5 2.5 0 1 0 5 0a2.5 2.5 0 1 0 -5 0M651.95 98.26a2.5 2.5 0 1 0 5 0a2.5 2.5 0 1 0 -5 0M653.1 99.6a2.5 2.5 0 1 0 5 0a2.5 2.5 0 1 0 -5 0M654.25 100.88a2.5 2.5 0 1 0 5 0a2.5 2.5 0 1 0 -5 0M655.4 101.98a2.5 2.5 0 1 0 5 0a2.5 2.5 0 1 0 -5 0M656.55 102.8a2.5 2.5 0 1 0 5 0a2.5 2.5 0 1 0 -5 0M657.7 103.09a2.5 2.5 0 1 0 5 0a2.5 2.5 0 1 0 -5 0M658.85 102.44a2.5 2.5 0 1 0 5 0a2.5 2.5 0 1 0 -5 0M660 101.47a2.5 2.5 0 1 0 5 0a2.5 2.5 0 1 0 -5 0M661.15 100.27a2.5 2.5 0 1 0 5 0a2.5 2.5 0 1 0 -5 0M662.3 98.95a2.5 2.5 0 1 0 5 0a2.5 2.5 0 1 0 -5 0M663.45 97.63a2.5 2.5 0 1 0 5 0a2.5 2.5 0 1 0 -5 0M664.6 96.43a2.5 2.5 0 1 0 5 0a2.5 2.5 0 1 0 -5 0M665.75 95.46a2.5 2.5 0 1 0 5 0a2.5 2.5 0 1 0 -5 0M666.9 94.81a2.5 2.5 0 1 0 5 0a2.5 2.5 0 1 0 -5 0M668.05 95.1a2.5 2.5 0 1 0 5 0a2.5 2.5 0 1 0 -5 0" stroke="#000" stroke-width="0.8" fill="none"/><path d="M57.6 98.5 57.85 98.51 58.1 98.53 58.35 98.55 58.6 98.57 58.85 98.6 59.1 98.63 59.35 98.66 59.6 98.7 59.85 98.73 60.1 98.77 60.35 98.81 60.6 98.84 60.85 98.88 61.1 98.92 61.35 98.95 61.6 98.98 61.85 99.01 62.1 99.04 62.35 99.06 62.6 99.08 62.85 99.09 63.1 99.11 63.35 99.13 63.6 99.15 63.85 99.17 64.1 99.2 64.35 99.23 64.6 99.27 64.85 99.3 65.1 99.34 65.35 99.38 65.6 99.43 65.85 99.47 66.1 99.52 66.35 99.57 66.6 99.62 66.85 99.67 67.1 99.73 67.35 99.78 67.6 99.83 67.85 99.89 68.1 99.94 68.35 100 68.6 100.05 68.85 100.11 69.1 100.16 69.35 100.21 69.6 100.26 69.85 100.31 70.1 100.35 70.35 100.4 70.6 100.44 70.85 100.48 71.1 100.52 71.35 100.55 71.6 100.59 71.85 100.62 72.1 100.64 72.35 100.67 72.6 100.69 72.85 100.69 73.1 100.66 73.35 100.62 73.6 100.58 73.85 100.53 74.1 100.47 74.35 100.41 74.6 100.35 74.85 100.28 75.1 100.2 75.35 100.13 75.6 100.05 75.85 99.96 76.1 99.87 76.35 99.78 76.6 99.69 76.85 99.59 77.1 99.49 77.35 99.4 77.6 99.3 77.85 99.2 78.1 99.09 78.35 98.99 78.6 98.9 78.85 98.8 79.1 98.7 79.35 98.61 79.6 98.51 79.85 98.42 80.1 98.34 80.35 98.26 80.6 98.18 80.85 98.1 81.1 98.03 81.35 97.96 81.6 97.9 81.85 97.84 82.1 97.79 82.35 97.75 82.6 97.7 82.85 97.67 83.1 97.67 83.35 97.71 83.6 97.76 83.85 97.81 84.1 97.87 84.35 97.94 84.6 98.01 84.85 98.09 85.1 98.18 85.35 98.27 85.6 98.36 85.85 98.46 86.1 98.57 86.35 98.68 86.6 98.79 86.85 98.9 87.1 99.02 87.35 99.14 87.6 99.26 87.85 99.38 88.1 99.5 88.35 99.62 88.6 99.74 88.85 99.86 89.1 99.98 89.35 100.1 89.6 100.21 89.85 100.32 90.1 100.43 90.35 100.54 90.6 100.64 90.85 100.73 91.1 100.82 91.35 100.91 91.6 100.99 91.85 101.06 92.1 101.13 92.35 101.19 92.6 101.24 92.85 101.29 93.1 101.33 93.35 101.32 93.6 101.27 93.85 101.21 94.1 101.15 94.35 101.07 94.6 100.99 94.85 100.9 95.1 100.81 95.35 100.71 95.6 100.6 95.85 100.49 96.1 100.37 96.35 100.25 96.6 100.12 96.85 99.99 97.1 99.85 97.35 99.72 97.6 99.58 97.85 99.44 98.1 99.29 98.35 99.15 98.6 99.01 98.85 98.86 99.1 98.72 99.35 98.58 99.6 98.45 99.85 98.31 100.1 98.18 100.35 98.05 100.6 97.93 100.85 97.81 101.1 97.7 101.35 97.59 101.6 97.49 101.85 97.4 102.1 97.31 102.35 97.23 102.6 97.15 102.85 97.09 103.1 97.03 103.35 96.98 103.6 96.97 103.85 97.03 104.1 97.1 104.35 97.18 104.6 97.28 104.85 97.38 105.1 97.48 105.35 97.6 105.6 97.73 105.85 97.86 106.1 98 106.35 98.15 106.6 98.3 106.85 98.46 107.1 98.63 107.35 98.79 107.6 98.96 107.85 99.14 108.1 99.31 108.35 99.48 108.6 99.66 108.85 99.83 109.1 100 109.35 100.17 109.6 100.34 109.85 100.5 110.1 100.66 110.35 100.81 110.6 100.95 110.85 101.09 111.1 101.22 111.35 101.35 111.6 101.46 111.85 101.57 112.1 101.66 112.35 101.75 112.6 101.83 112.85 101.89 113.1 101.95 113.35 101.9 113.6 101.83 113.85 101.76 114.1 101.68 114.35 101.59 114.6 101.49 114.85 101.39 115.1 101.27 115.35 101.15 115.6 101.02 115.85 100.89 116.1 100.75 116.35 100.6 116.6 100.45 116.85 100.3 117.1 100.14 117.35 99.98 117.6 99.81 117.85 99.65 118.1 99.48 118.35 99.32 118.6 99.15 118.85 98.99 119.1 98.83 119.35 98.67 119.6 98.51 119.85 98.36 120.1 98.21 120.35 98.07 120.6 97.93 120.85 97.8 121.1 97.67 121.35 97.56 121.6 97.45 121.85 97.35 122.1 97.25 122.35 97.17 122.6 97.09 122.85 97.03 123.1 96.97 123.35 96.98 123.6 97.04 123.85 97.12 124.1 97.2 124.35 97.29 124.6 97.38 124.85 97.49 125.1 97.61 125.35 97.73 125.6 97.86 125.85 98 126.1 98.14 126.35 98.29 126.6 98.44 126.85 98.6 127.1 98.77 127.35 98.93 127.6 99.1 127.85 99.27 128.1 99.45 128.35 99.62 128.6 99.79 128.85 99.96 129.1 100.13 129.35 100.3 129.6 100.46 129.85 100.62 130.1 100.78 130.35 100.93 130.6 101.08 130.85 101.21 131.1 101.35 131.35 101.47 131.6 101.59 131.85 101.7 132.1 101.8 132.35 101.89 132.6 101.97 132.85 102.04 133.1 102.11 133.35 102.14 133.6 102.08 133.85 102 134.1 101.92 134.35 101.83 134.6 101.73 134.85 101.61 135.1 101.49 135.35 101.36 135.6 101.22 135.85 101.07 136.1 100.92 136.35 100.76 136.6 100.6 136.85 100.42 137.1 100.25 137.35 100.07 137.6 99.89 137.85 99.71 138.1 99.53 138.35 99.34 138.6 99.16 138.85 98.98 139.1 98.8 139.35 98.63 139.6 98.45 139.85 98.29 140.1 98.13 140.35 97.98 140.6 97.83 140.85 97.69 141.1 97.56 141.35 97.44 141.6 97.32 141.85 97.22 142.1 97.13 142.35 97.05 142.6 96.97 142.85 96.91 143.1 96.95 143.35 97.02 143.6 97.09 143.85 97.18 144.1 97.28 144.35 97.39 144.6 97.51 144.85 97.64 145.1 97.77 145.35 97.92 145.6 98.07 145.85 98.22 146.1 98.39 146.35 98.56 146.6 98.73 146.85 98.91 147.1 99.09 147.35 99.27 147.6 99.45 147.85 99.64 148.1 99.82 148.35 100 148.6 100.18 148.85 100.36 149.1 100.53 149.35 100.7 149.6 100.86 149.85 101.01 150.1 101.16 150.35 101.31 150.6 101.44 150.85 101.56 151.1 101.68 151.35 101.79 151.6 101.89 151.85 101.97 152.1 102.05 152.35 102.12 152.6 102.12 152.85 102.05 153.1 101.96 153.35 101.87 153.6 101.76 153.85 101.64 154.1 101.51 154.35 101.37 154.6 101.21 154.85 101.05 155.1 100.88 155.35 100.71 155.6 100.52 155.85 100.33 156.1 100.14 156.35 99.93 156.6 99.73 156.85 99.52 157.1 99.31 157.35 99.1 157.6 98.89 157.85 98.68 158.1 98.47 158.35 98.27 158.6 98.06 158.85 97.87 159.1 97.68 159.35 97.49 159.6 97.32 159.85 97.15 160.1 96.99 160.35 96.83 160.6 96.69 160.85 96.56 161.1 96.44 161.35 96.33 161.6 96.24 161.85 96.15 162.1 96.08 162.35 96.1 162.6 96.18 162.85 96.28 163.1 96.39 163.35 96.52 163.6 96.65 163.85 96.8 164.1 96.96 164.35 97.13 164.6 97.31 164.85 97.5 165.1 97.7 165.35 97.9 165.6 98.12 165.85 98.34 166.1 98.57 166.35 98.8 166.6 99.03 166.85 99.27 167.1 99.51 167.35 99.75 167.6 99.99 167.85 100.23 168.1 100.46 168.35 100.7 168.6 100.93 168.85 101.15 169.1 101.37 169.35 101.58 169.6 101.78 169.85 101.98 170.1 102.16 170.35 102.34 170.6 102.51 170.85 102.66 171.1 102.8 171.35 102.94 171.6 103.05 171.85 103.16 172.1 103.25 172.35 103.34 172.6 103.28 172.85 103.17 173.1 103.05 173.35 102.91 173.6 102.75 173.85 102.58 174.1 102.39 174.35 102.19 174.6 101.98 174.85 101.76 175.1 101.52 175.35 101.27 175.6 101.01 175.85 100.75 176.1 100.48 176.35 100.2 176.6 99.92 176.85 99.64 177.1 99.35 177.35 99.06 177.6 98.78 177.85 98.5 178.1 98.22 178.35 97.95 178.6 97.69 178.85 97.43 179.1 97.18 179.35 96.94 179.6 96.72 179.85 96.51 180.1 96.31 180.35 96.12 180.6 95.95 180.85 95.79 181.1 95.65 181.35 95.53 181.6 95.42 181.85 95.37 182.1 95.47 182.35 95.58 182.6 95.72 182.85 95.87 183.1 96.03 183.35 96.21 183.6 96.41 183.85 96.62 184.1 96.84 184.35 97.08 184.6 97.32 184.85 97.58 185.1 97.84 185.35 98.12 185.6 98.4 185.85 98.68 186.1 98.97 186.35 99.27 186.6 99.56 186.85 99.85 187.1 100.14 187.35 100.43 187.6 100.71 187.85 100.99 188.1 101.26 188.35 101.53 188.6 101.78 188.85 102.02 189.1 102.25 189.35 102.47 189.6 102.67 189.85 102.86 190.1 103.04 190.35 103.2 190.6 103.34 190.85 103.47 191.1 103.57 191.35 103.63 191.6 103.53 191.85 103.4 192.1 103.26 192.35 103.11 192.6 102.93 192.85 102.74 193.1 102.54 193.35 102.32 193.6 102.08 193.85 101.83 194.1 101.57 194.35 101.3 194.6 101.02 194.85 100.74 195.1 100.44 195.35 100.14 195.6 99.83 195.85 99.52 196.1 99.21 196.35 98.9 196.6 98.59 196.85 98.28 197.1 97.98 197.35 97.68 197.6 97.39 197.85 97.11 198.1 96.83 198.35 96.57 198.6 96.32 198.85 96.08 199.1 95.85 199.35 95.64 199.6 95.44 199.85 95.26 200.1 95.1 200.35 94.95 200.6 94.82 200.85 94.71 201.1 94.69 201.35 94.82 201.6 94.97 201.85 95.13 202.1 95.32 202.35 95.52 202.6 95.75 202.85 95.99 203.1 96.24 203.35 96.52 203.6 96.81 203.85 97.11 204.1 97.42 204.35 97.75 204.6 98.09 204.85 98.43 205.1 98.78 205.35 99.13 205.6 99.49 205.85 99.85 206.1 100.21 206.35 100.57 206.6 100.92 206.85 101.27 207.1 101.61 207.35 101.95 207.6 102.28 207.85 102.59 208.1 102.89 208.35 103.18 208.6 103.46 208.85 103.71 209.1 103.95 209.35 104.18 209.6 104.38 209.85 104.57 210.1 104.73 210.35 104.88 210.6 105.01 210.85 104.98 211.1 104.86 211.35 104.71 211.6 104.55 211.85 104.36 212.1 104.16 212.35 103.95 212.6 103.72 212.85 103.47 213.1 103.2 213.35 102.93 213.6 102.64 213.85 102.33 214.1 102.02 214.35 101.7 214.6 101.36 214.85 101.02 215.1 100.68 215.35 100.33 215.6 99.97 215.85 99.61 216.1 99.25 216.35 98.89 216.6 98.54 216.85 98.18 217.1 97.83 217.35 97.49 217.6 97.15 217.85 96.82 218.1 96.5 218.35 96.19 218.6 95.9 218.85 95.61 219.1 95.34 219.35 95.08 219.6 94.84 219.85 94.61 220.1 94.4 220.35 94.21 220.6 94.04 220.85 93.88 221.1 93.74 221.35 93.62 221.6 93.72 221.85 93.89 222.1 94.09 222.35 94.31 222.6 94.57 222.85 94.85 223.1 95.15 223.35 95.48 223.6 95.83 223.85 96.19 224.1 96.58 224.35 96.98 224.6 97.4 224.85 97.83 225.1 98.27 225.35 98.71 225.6 99.16 225.85 99.62 226.1 100.07 226.35 100.51 226.6 100.96 226.85 101.39 227.1 101.82 227.35 102.23 227.6 102.62 227.85 103 228.1 103.37 228.35 103.71 228.6 104.02 228.85 104.32 229.1 104.59 229.35 104.83 229.6 105.05 229.85 105.23 230.1 105.39 230.35 105.37 230.6 105.23 230.85 105.07 231.1 104.89 231.35 104.68 231.6 104.46 231.85 104.22 232.1 103.96 232.35 103.68 232.6 103.39 232.85 103.08 233.1 102.75 233.35 102.41 233.6 102.06 233.85 101.7 234.1 101.33 234.35 100.95 234.6 100.56 234.85 100.17 235.1 99.77 235.35 99.37 235.6 98.97 235.85 98.57 236.1 98.17 236.35 97.77 236.6 97.38 236.85 97 237.1 96.62 237.35 96.25 237.6 95.89 237.85 95.55 238.1 95.22 238.35 94.9 238.6 94.59 238.85 94.31 239.1 94.04 239.35 93.78 239.6 93.55 239.85 93.33 240.1 93.14 240.35 92.96 240.6 92.81 240.85 92.67 241.1 92.79 241.35 92.99 241.6 93.23 241.85 93.49 242.1 93.79 242.35 94.12 242.6 94.48 242.85 94.87 243.1 95.28 243.35 95.72 243.6 96.18 243.85 96.66 244.1 97.15 244.35 97.66 244.6 98.17 244.85 98.7 245.1 99.23 245.35 99.76 245.6 100.29 245.85 100.82 246.1 101.34 246.35 101.85 246.6 102.35 246.85 102.83 247.1 103.29 247.35 103.73 247.6 104.15 247.85 104.54 248.1 104.91 248.35 105.24 248.6 105.55 248.85 105.82 249.1 106.07 249.35 106.27 249.6 106.45 249.85 106.28 250.1 106.08 250.35 105.85 250.6 105.59 250.85 105.31 251.1 104.99 251.35 104.65 251.6 104.29 251.85 103.9 252.1 103.49 252.35 103.06 252.6 102.61 252.85 102.14 253.1 101.66 253.35 101.16 253.6 100.66 253.85 100.15 254.1 99.63 254.35 99.11 254.6 98.59 254.85 98.07 255.1 97.55 255.35 97.04 255.6 96.54 255.85 96.04 256.1 95.57 256.35 95.1 256.6 94.66 256.85 94.23 257.1 93.82 257.35 93.44 257.6 93.08 257.85 92.74 258.1 92.44 258.35 92.15 258.6 91.9 258.85 91.68 259.1 91.48 259.35 91.39 259.6 91.59 259.85 91.84 260.1 92.12 260.35 92.43 260.6 92.78 260.85 93.16 261.1 93.57 261.35 94.02 261.6 94.49 261.85 94.98 262.1 95.5 262.35 96.04 262.6 96.6 262.85 97.18 263.1 97.77 263.35 98.37 263.6 98.97 263.85 99.58 264.1 100.19 264.35 100.79 264.6 101.39 264.85 101.99 265.1 102.57 265.35 103.13 265.6 103.68 265.85 104.21 266.1 104.72 266.35 105.2 266.6 105.65 266.85 106.08 267.1 106.47 267.35 106.83 267.6 107.16 267.85 107.46 268.1 107.71 268.35 107.93 268.6 107.98 268.85 107.8 269.1 107.59 269.35 107.36 269.6 107.1 269.85 106.81 270.1 106.51 270.35 106.17 270.6 105.82 270.85 105.44 271.1 105.04 271.35 104.63 271.6 104.19 271.85 103.74 272.1 103.27 272.35 102.79 272.6 102.29 272.85 101.79 273.1 101.27 273.35 100.75 273.6 100.22 273.85 99.69 274.1 99.16 274.35 98.62 274.6 98.09 274.85 97.56 275.1 97.03 275.35 96.52 275.6 96.01 275.85 95.51 276.1 95.02 276.35 94.55 276.6 94.09 276.85 93.65 277.1 93.22 277.35 92.82 277.6 92.43 277.85 92.07 278.1 91.73 278.35 91.41 278.6 91.11 278.85 90.84 279.1 90.6 279.35 90.38 279.6 90.19 279.85 90.1 280.1 90.37 280.35 90.7 280.6 91.09 280.85 91.53 281.1 92.02 281.35 92.56 281.6 93.15 281.85 93.78 282.1 94.45 282.35 95.15 282.6 95.87 282.85 96.62 283.1 97.38 283.35 98.16 283.6 98.94 283.85 99.71 284.1 100.48 284.35 101.23 284.6 101.96 284.85 102.67 285.1 103.34 285.35 103.98 285.6 104.57 285.85 105.13 286.1 107.91 286.35 107.67 286.6 107.39 286.85 107.08 287.1 106.74 287.35 106.38 287.6 105.98 287.85 105.56 288.1 105.1 288.35 104.63 288.6 104.13 288.85 103.6 289.1 103.06 289.35 102.5 289.6 101.92 289.85 101.33 290.1 100.72 290.35 100.11 290.6 99.48 290.85 98.86 291.1 98.23 291.35 97.6 291.6 96.97 291.85 96.34 292.1 95.72 292.35 95.11 292.6 94.52 292.85 93.93 293.1 93.36 293.35 92.81 293.6 92.28 293.85 91.77 294.1 91.28 294.35 90.82 294.6 90.39 294.85 89.98 295.1 89.6 295.35 89.25 295.6 88.93 295.85 88.64 296.1 88.38 296.35 88.25 296.6 88.54 296.85 88.87 297.1 89.23 297.35 89.63 297.6 90.07 297.85 90.55 298.1 91.06 298.35 91.6 298.6 92.18 298.85 92.78 299.1 93.41 299.35 94.07 299.6 94.75 299.85 95.45 300.1 96.16 300.35 96.89 300.6 97.64 300.85 98.39 301.1 99.14 301.35 99.9 301.6 100.66 301.85 101.41 302.1 102.16 302.35 102.9 302.6 103.62 302.85 104.33 303.1 105.02 303.35 105.7 303.6 106.34 303.85 106.96 304.1 107.56 304.35 108.12 304.6 108.65 304.85 109.14 305.1 109.61 305.35 110.03 305.6 110.42 305.85 110.77 306.1 111.08 306.35 111.24 306.6 110.94 306.85 110.59 307.1 110.2 307.35 109.77 307.6 109.3 307.85 108.79 308.1 108.24 308.35 107.66 308.6 107.05 308.85 106.4 309.1 105.73 309.35 105.02 309.6 104.3 309.85 103.55 310.1 102.78 310.35 102 310.6 101.21 310.85 100.41 311.1 99.6 311.35 98.79 311.6 97.98 311.85 97.17 312.1 96.37 312.35 95.58 312.6 94.81 312.85 94.05 313.1 93.31 313.35 92.59 313.6 91.9 313.85 91.24 314.1 90.6 314.35 90 314.6 89.44 314.85 88.9 315.1 88.41 315.35 87.96 315.6 87.54 315.85 87.17 316.1 86.84 316.35 86.67 316.6 87.03 316.85 87.46 317.1 87.93 317.35 88.45 317.6 89.03 317.85 89.65 318.1 90.32 318.35 91.04 318.6 91.79 318.85 92.59 319.1 93.41 319.35 94.27 319.6 95.16 319.85 96.07 320.1 97 320.35 97.95 320.6 98.9 320.85 99.86 321.1 100.83 321.35 101.79 321.6 102.74 321.85 103.69 322.1 104.61 322.35 105.52 322.6 106.4 322.85 107.25 323.1 108.08 323.35 108.86 323.6 109.61 323.85 110.31 324.1 110.98 324.35 111.59 324.6 112.15 324.85 112.67 325.1 113.13 325.35 113.54 325.6 113.9 325.85 113.51 326.1 113.05 326.35 112.54 326.6 111.98 326.85 111.35 327.1 110.67 327.35 109.94 327.6 109.16 327.85 108.34 328.1 107.47 328.35 106.56 328.6 105.62 328.85 104.64 329.1 103.64 329.35 102.62 329.6 101.58 329.85 100.53 330.1 99.47 330.35 98.41 330.6 97.36 330.85 96.31 331.1 95.27 331.35 94.25 331.6 93.26 331.85 92.29 332.1 91.35 332.35 90.45 332.6 89.59 332.85 88.78 333.1 88.01 333.35 87.29 333.6 86.62 333.85 86.01 334.1 85.45 334.35 84.95 334.6 84.51 334.85 84.28 335.1 84.69 335.35 85.17 335.6 85.7 335.85 86.3 336.1 86.94 336.35 87.64 336.6 88.4 336.85 89.2 337.1 90.05 337.35 90.94 337.6 91.87 337.85 92.83 338.1 93.83 338.35 94.86 338.6 95.91 338.85 96.98 339.1 98.06 339.35 99.15 339.6 100.25 339.85 101.35 340.1 102.44 340.35 103.52 340.6 104.59 340.85 105.64 341.1 106.67 341.35 107.67 341.6 108.63 341.85 109.56 342.1 110.45 342.35 111.3 342.6 112.1 342.85 112.86 343.1 113.56 343.35 114.2 343.6 114.8 343.85 115.33 344.1 115.81 344.35 116.22 344.6 115.92 344.85 115.37 345.1 114.75 345.35 114.06 345.6 113.3 345.85 112.47 346.1 111.58 346.35 110.62 346.6 109.6 346.85 108.52 347.1 107.39 347.35 106.22 347.6 105 347.85 103.74 348.1 102.46 348.35 101.15 348.6 99.82 348.85 98.48 349.1 97.14 349.35 95.81 349.6 94.49 349.85 93.19 350.1 91.92 350.35 90.69 350.6 89.49 350.85 88.35 351.1 87.27 351.35 86.25 351.6 85.3 351.85 84.42 352.1 83.63 352.35 82.92 352.6 82.3 352.85 81.78 353.1 81.35 353.35 81.44 353.6 81.91 353.85 82.47 354.1 83.12 354.35 83.87 354.6 84.7 354.85 85.62 355.1 86.63 355.35 87.71 355.6 88.87 355.85 90.1 356.1 91.39 356.35 92.73 356.6 94.12 356.85 95.55 357.1 97.02 357.35 98.5 357.6 100 357.85 101.5 358.1 103 358.35 104.48 358.6 105.94 358.85 107.36 359.1 108.74 359.35 110.06 359.6 111.32 359.85 112.51 360.1 113.63 360.35 114.65 360.6 115.58 360.85 116.41 361.1 117.14 361.35 117.75 361.6 118.25 361.85 118.63 362.1 118.68 362.35 118.27 362.6 117.73 362.85 117.05 363.1 116.24 363.35 115.29 363.6 114.23 363.85 113.04 364.1 111.74 364.35 110.34 364.6 108.85 364.85 107.27 365.1 105.62 365.35 103.92 365.6 102.17 365.85 100.39 366.1 98.59 366.35 96.79 366.6 95.01 366.85 93.25 367.1 91.54 367.35 89.88 367.6 88.3 367.85 86.81 368.1 85.41 368.35 84.13 368.6 82.96 368.85 81.94 369.1 81.05 369.35 80.32 369.6 79.75 369.85 79.34 370.1 79.1 370.35 79.32 370.6 79.69 370.85 80.19 371.1 80.83 371.35 81.6 371.6 82.51 371.85 83.54 372.1 84.7 372.35 85.97 372.6 87.35 372.85 88.82 373.1 90.38 373.35 92.02 373.6 93.73 373.85 95.49 374.1 97.29 374.35 99.12 374.6 100.97 374.85 102.82 375.1 104.65 375.35 106.46 375.6 108.23 375.85 109.95 376.1 111.6 376.35 113.17 376.6 114.65 376.85 116.02 377.1 117.27 377.35 118.4 377.6 119.4 377.85 120.25 378.1 120.94 378.35 121.48 378.6 121.86 378.85 122.06 379.1 122.07 379.35 121.84 379.6 121.37 379.85 120.67 380.1 119.73 380.35 118.56 380.6 117.18 380.85 115.6 381.1 113.85 381.35 111.94 381.6 109.89 381.85 107.72 382.1 105.47 382.35 103.14 382.6 100.78 382.85 98.4 383.1 96.03 383.35 93.69 383.6 91.42 383.85 89.23 384.1 87.16 384.35 85.22 384.6 83.43 384.85 81.82 385.1 80.4 385.35 79.19 385.6 78.2 385.85 77.44 386.1 76.92 386.35 76.64 386.6 76.62 386.85 76.81 387.1 77.21 387.35 77.82 387.6 78.62 387.85 79.63 388.1 80.81 388.35 82.18 388.6 83.7 388.85 85.38 389.1 87.19 389.35 89.12 389.6 91.15 389.85 93.27 390.1 95.45 390.35 97.68 390.6 99.94 390.85 102.21 391.1 104.46 391.35 106.69 391.6 108.86 391.85 110.96 392.1 112.98 392.35 114.88 392.6 116.67 392.85 118.31 393.1 119.81 393.35 121.14 393.6 122.29 393.85 123.25 394.1 124.02 394.35 124.59 394.6 124.95 394.85 125.1 395.1 125.01 395.35 124.66 395.6 124.04 395.85 123.16 396.1 122.03 396.35 120.65 396.6 119.06 396.85 117.25 397.1 115.26 397.35 113.1 397.6 110.8 397.85 108.38 398.1 105.86 398.35 103.28 398.6 100.65 398.85 98.02 399.1 95.4 399.35 92.83 399.6 90.33 399.85 87.93 400.1 85.65 400.35 83.53 400.6 81.57 400.85 79.8 401.1 78.25 401.35 76.93 401.6 75.84 401.85 75.01 402.1 74.45 402.35 74.15 402.6 74.12 402.85 74.35 403.1 74.83 403.35 75.56 403.6 76.53 403.85 77.74 404.1 79.16 404.35 80.79 404.6 82.61 404.85 84.61 405.1 86.75 405.35 89.04 405.6 91.43 405.85 93.91 406.1 96.45 406.35 99.04 406.6 101.64 406.85 104.23 407.1 106.79 407.35 109.28 407.6 111.69 407.85 114 408.1 116.18 408.35 118.2 408.6 120.06 408.85 121.73 409.1 123.19 409.35 124.44 409.6 125.46 409.85 126.24 410.1 126.77 410.35 127.05 410.6 127.08 410.85 126.81 411.1 126.26 411.35 125.43 411.6 124.32 411.85 122.94 412.1 121.32 412.35 119.47 412.6 117.41 412.85 115.16 413.1 112.74 413.35 110.19 413.6 107.52 413.85 104.77 414.1 101.96 414.35 99.13 414.6 96.31 414.85 93.52 415.1 90.8 415.35 88.18 415.6 85.67 415.85 83.32 416.1 81.14 416.35 79.16 416.6 77.4 416.85 75.88 417.1 74.61 417.35 73.61 417.6 72.88 417.85 72.45 418.1 72.3 418.35 72.43 418.6 72.84 418.85 73.5 419.1 74.43 419.35 75.6 419.6 77.01 419.85 78.65 420.1 80.5 420.35 82.53 420.6 84.75 420.85 87.11 421.1 89.6 421.35 92.2 421.6 94.88 421.85 97.62 422.1 100.39 422.35 103.17 422.6 105.93 422.85 108.63 423.1 111.27 423.35 113.81 423.6 116.23 423.85 118.5 424.1 120.61 424.35 122.54 424.6 124.26 424.85 125.76 425.1 127.03 425.35 128.06 425.6 128.83 425.85 129.34 426.1 129.58 426.35 129.54 426.6 129.19 426.85 128.51 427.1 127.52 427.35 126.24 427.6 124.66 427.85 122.82 428.1 120.73 428.35 118.4 428.6 115.88 428.85 113.19 429.1 110.35 429.35 107.4 429.6 104.37 429.85 101.29 430.1 98.19 430.35 95.12 430.6 92.1 430.85 89.17 431.1 86.36 431.35 83.7 431.6 81.21 431.85 78.94 432.1 76.89 432.35 75.1 432.6 73.58 432.85 72.35 433.1 71.43 433.35 70.82 433.6 70.53 433.85 70.55 434.1 70.85 434.35 71.41 434.6 72.24 434.85 73.33 435.1 74.66 435.35 76.23 435.6 78.01 435.85 80.01 436.1 82.19 436.35 84.54 436.6 87.04 436.85 89.67 437.1 92.4 437.35 95.21 437.6 98.07 437.85 100.97 438.1 103.87 438.35 106.75 438.6 109.59 438.85 112.35 439.1 115.02 439.35 117.58 439.6 119.99 439.85 122.24 440.1 124.31 440.35 126.18 440.6 127.84 440.85 129.27 441.1 130.45 441.35 131.39 441.6 132.06 441.85 132.46 442.1 132.6 442.35 132.44 442.6 131.95 442.85 131.14 443.1 130.02 443.35 128.59 443.6 126.88 443.85 124.9 444.1 122.67 444.35 120.22 444.6 117.56 444.85 114.73 445.1 111.75 445.35 108.66 445.6 105.48 445.85 102.25 446.1 99 446.35 95.76 446.6 92.57 446.85 89.46 447.1 86.45 447.35 83.59 447.6 80.9 447.85 78.4 448.1 76.12 448.35 74.09 448.6 72.33 448.85 70.85 449.1 69.66 449.35 68.79 449.6 68.24 449.85 68.01 450.1 68.1 450.35 68.52 450.6 69.24 450.85 70.28 451.1 71.61 451.35 73.23 451.6 75.12 451.85 77.25 452.1 79.62 452.35 82.2 452.6 84.95 452.85 87.87 453.1 90.91 453.35 94.05 453.6 97.25 453.85 100.5 454.1 103.75 454.35 106.98 454.6 110.15 454.85 113.23 455.1 116.2 455.35 119.02 455.6 121.67 455.85 124.13 456.1 126.36 456.35 128.35 456.6 130.07 456.85 131.52 457.1 132.68 457.35 133.53 457.6 134.07 457.85 134.29 458.1 134.17 458.35 133.66 458.6 132.76 458.85 131.48 459.1 129.84 459.35 127.85 459.6 125.55 459.85 122.95 460.1 120.08 460.35 116.99 460.6 113.7 460.85 110.25 461.1 106.68 461.35 103.04 461.6 99.36 461.85 95.7 462.1 92.08 462.35 88.56 462.6 85.17 462.85 81.95 463.1 78.94 463.35 76.18 463.6 73.69 463.85 71.51 464.1 69.66 464.35 68.16 464.6 67.03 464.85 66.29 465.1 65.93 465.35 65.96 465.6 66.29 465.85 66.93 466.1 67.86 466.35 69.09 466.6 70.59 466.85 72.35 467.1 74.37 467.35 76.62 467.6 79.08 467.85 81.74 468.1 84.57 468.35 87.54 468.6 90.64 468.85 93.83 469.1 97.08 469.35 100.38 469.6 103.68 469.85 106.97 470.1 110.22 470.35 113.39 470.6 116.46 470.85 119.41 471.1 122.2 471.35 124.82 471.6 127.25 471.85 129.45 472.1 131.42 472.35 133.14 472.6 134.58 472.85 135.75 473.1 136.62 473.35 137.2 473.6 137.48 473.85 137.42 474.1 136.96 474.35 136.08 474.6 134.79 474.85 133.1 475.1 131.05 475.35 128.64 475.6 125.92 475.85 122.9 476.1 119.63 476.35 116.14 476.6 112.48 476.85 108.68 477.1 104.79 477.35 100.85 477.6 96.91 477.85 93.02 478.1 89.22 478.35 85.56 478.6 82.07 478.85 78.8 479.1 75.78 479.35 73.06 479.6 70.65 479.85 68.6 480.1 66.91 480.35 65.62 480.6 64.74 480.85 64.28 481.1 64.23 481.35 64.52 481.6 65.14 481.85 66.07 482.1 67.32 482.35 68.86 482.6 70.69 482.85 72.79 483.1 75.14 483.35 77.72 483.6 80.51 483.85 83.48 484.1 86.61 484.35 89.88 484.6 93.24 484.85 96.67 485.1 100.15 485.35 103.64 485.6 107.12 485.85 110.54 486.1 113.89 486.35 117.12 486.6 120.23 486.85 123.16 487.1 125.91 487.35 128.45 487.6 130.75 487.85 132.8 488.1 134.57 488.35 136.06 488.6 137.24 488.85 138.11 489.1 138.67 489.35 138.89 489.6 138.76 489.85 138.2 490.1 137.2 490.35 135.79 490.6 133.98 490.85 131.79 491.1 129.24 491.35 126.36 491.6 123.19 491.85 119.76 492.1 116.11 492.35 112.28 492.6 108.31 492.85 104.26 493.1 100.15 493.35 96.04 493.6 91.99 493.85 88.02 494.1 84.19 494.35 80.54 494.6 77.11 494.85 73.94 495.1 71.06 495.35 68.51 495.6 66.32 495.85 64.51 496.1 63.1 496.35 62.1 496.6 61.54 496.85 61.41 497.1 61.63 497.35 62.16 497.6 63.01 497.85 64.16 498.1 65.61 498.35 67.33 498.6 69.33 498.85 71.59 499.1 74.08 499.35 76.79 499.6 79.69 499.85 82.77 500.1 86 500.35 89.35 500.6 92.8 500.85 96.33 501.1 99.9 501.35 103.48 501.6 107.06 501.85 110.6 502.1 114.06 502.35 117.44 502.6 120.7 502.85 123.81 503.1 126.75 503.35 129.5 503.6 132.03 503.85 134.34 504.1 136.39 504.35 138.17 504.6 139.67 504.85 140.88 505.1 141.79 505.35 142.39 505.6 142.67 505.85 142.6 506.1 142 506.35 140.87 506.6 139.21 506.85 137.06 507.1 134.43 507.35 131.37 507.6 127.91 507.85 124.09 508.1 119.97 508.35 115.6 508.6 111.03 508.85 106.33 509.1 101.56 509.35 96.77 509.6 92.03 509.85 87.41 510.1 82.95 510.35 78.73 510.6 74.78 510.85 71.17 511.1 67.94 511.35 65.14 511.6 62.79 511.85 60.93 512.1 59.59 512.35 58.77 512.6 58.5 512.85 58.67 513.1 59.19 513.35 60.04 513.6 61.22 513.85 62.73 514.1 64.54 514.35 66.65 514.6 69.04 514.85 71.69 515.1 74.57 515.35 77.68 515.6 80.97 515.85 84.43 516.1 88.02 516.35 91.73 516.6 95.51 516.85 99.34 517.1 103.19 517.35 107.03 517.6 110.82 517.85 114.54 518.1 118.16 518.35 121.65 518.6 124.98 518.85 128.12 519.1 131.05 519.35 133.75 519.6 136.19 519.85 138.36 520.1 140.24 520.35 141.8 520.6 143.05 520.85 143.97 521.1 144.55 521.35 144.79 521.6 144.62 521.85 143.9 522.1 142.62 522.35 140.82 522.6 138.5 522.85 135.71 523.1 132.46 523.35 128.82 523.6 124.81 523.85 120.5 524.1 115.94 524.35 111.17 524.6 106.27 524.85 101.3 525.1 96.31 525.35 91.37 525.6 86.55 525.85 81.9 526.1 77.48 526.35 73.34 526.6 69.55 526.85 66.14 527.1 63.16 527.35 60.65 527.6 58.64 527.85 57.15 528.1 56.2 528.35 55.81 528.6 55.92 528.85 56.39 529.1 57.23 529.35 58.43 529.6 59.97 529.85 61.84 530.1 64.03 530.35 66.53 530.6 69.3 530.85 72.34 531.1 75.61 531.35 79.09 531.6 82.75 531.85 86.56 532.1 90.5 532.35 94.53 532.6 98.61 532.85 102.72 533.1 106.83 533.35 110.89 533.6 114.89 533.85 118.78 534.1 122.54 534.35 126.13 534.6 129.53 534.85 132.71 535.1 135.64 535.35 138.31 535.6 140.68 535.85 142.75 536.1 144.49 536.35 145.89 536.6 146.95 536.85 147.64 537.1 147.97 537.35 147.9 537.6 147.28 537.85 146.09 538.1 144.37 538.35 142.12 538.6 139.37 538.85 136.16 539.1 132.53 539.35 128.51 539.6 124.15 539.85 119.51 540.1 114.64 540.35 109.61 540.6 104.46 540.85 99.26 541.1 94.07 541.35 88.96 541.6 83.99 541.85 79.2 542.1 74.67 542.35 70.44 542.6 66.57 542.85 63.1 543.1 60.07 543.35 57.52 543.6 55.48 543.85 53.97 544.1 53.01 544.35 52.61 544.6 52.75 544.85 53.33 545.1 54.37 545.35 55.84 545.6 57.74 545.85 60.04 546.1 62.73 546.35 65.78 546.6 69.17 546.85 72.85 547.1 76.8 547.35 80.99 547.6 85.37 547.85 89.9 548.1 94.54 548.35 99.26 548.6 104 548.85 108.72 549.1 113.38 549.35 117.94 549.6 122.35 549.85 126.58 550.1 130.58 550.35 134.32 550.6 137.77 550.85 140.88 551.1 143.65 551.35 146.03 551.6 148.01 551.85 149.57 552.1 150.69 552.35 151.37 552.6 151.6 552.85 151.33 553.1 150.51 553.35 149.17 553.6 147.3 553.85 144.94 554.1 142.1 554.35 138.82 554.6 135.13 554.85 131.07 555.1 126.68 555.35 122.02 555.6 117.13 555.85 112.06 556.1 106.86 556.35 101.61 556.6 96.33 556.85 91.11 557.1 85.98 557.35 81.01 557.6 76.25 557.85 71.75 558.1 67.56 558.35 63.71 558.6 60.26 558.85 57.24 559.1 54.69 559.35 52.62 559.6 51.06 559.85 50.03 560.1 49.54 560.35 49.59 560.6 50.12 560.85 51.14 561.1 52.63 561.35 54.58 561.6 56.96 561.85 59.77 562.1 62.97 562.35 66.53 562.6 70.43 562.85 74.62 563.1 79.07 563.35 83.73 563.6 88.57 563.85 93.53 564.1 98.58 564.35 103.67 564.6 108.75 564.85 113.77 565.1 118.69 565.35 123.46 565.6 128.04 565.85 132.39 566.1 136.47 566.35 140.23 566.6 143.65 566.85 146.7 567.1 149.34 567.35 151.56 567.6 153.32 567.85 154.62 568.1 155.45 568.35 155.79 568.6 155.65 568.85 155.02 569.1 153.93 569.35 152.37 569.6 150.36 569.85 147.92 570.1 145.06 570.35 141.82 570.6 138.23 570.85 134.3 571.1 130.09 571.35 125.61 571.6 120.93 571.85 116.06 572.1 111.07 572.35 105.98 572.6 100.85 572.85 95.72 573.1 90.63 573.35 85.64 573.6 80.77 573.85 76.09 574.1 71.61 574.35 67.4 574.6 63.47 574.85 59.88 575.1 56.64 575.35 53.78 575.6 51.34 575.85 49.33 576.1 47.77 576.35 46.68 576.6 46.05 576.85 45.91 577.1 46.3 577.35 47.23 577.6 48.69 577.85 50.68 578.1 53.17 578.35 56.15 578.6 59.57 578.85 63.41 579.1 67.63 579.35 72.19 579.6 77.05 579.85 82.16 580.1 87.46 580.35 92.92 580.6 98.47 580.85 104.07 581.1 109.66 581.35 115.18 581.6 120.58 581.85 125.81 582.1 130.83 582.35 135.57 582.6 140 582.85 144.07 583.1 147.75 583.35 151 583.6 153.78 583.85 156.08 584.1 157.86 584.35 159.11 584.6 159.82 584.85 159.99 585.1 159.57 585.35 158.56 585.6 156.97 585.85 154.81 586.1 152.1 586.35 148.88 586.6 145.17 586.85 141.02 587.1 136.46 587.35 131.55 587.6 126.32 587.85 120.84 588.1 115.16 588.35 109.33 588.6 103.42 588.85 97.49 589.1 91.59 589.35 85.79 589.6 80.15 589.85 74.71 590.1 69.54 590.35 64.69 590.6 60.21 590.85 56.15 591.1 52.54 591.35 49.41 591.6 46.82 591.85 44.77 592.1 43.29 592.35 42.4 592.6 42.1 592.85 42.39 593.1 43.27 593.35 44.73 593.6 46.75 593.85 49.31 594.1 52.39 594.35 55.96 594.6 59.98 594.85 64.42 595.1 69.23 595.35 74.37 595.6 79.79 595.85 85.43 596.1 91.24 596.35 97.17 596.6 103.15 596.85 109.13 597.1 115.06 597.35 120.87 597.6 126.51 597.85 131.93 598.1 137.07 598.35 141.88 598.6 146.32 598.85 150.34 599.1 153.91 599.35 156.99 599.6 159.55 599.85 161.57 600.1 163.03 600.35 163.91 600.6 164.2 600.85 163.88 601.1 162.92 601.35 161.34 601.6 159.15 601.85 156.36 602.1 153.02 602.35 149.15 602.6 144.8 602.85 140 603.1 134.8 603.35 129.27 603.6 123.44 603.85 117.39 604.1 111.18 604.35 104.86 604.6 98.51 604.85 92.18 605.1 85.94 605.35 79.85 605.6 73.98 605.85 68.38 606.1 63.11 606.35 58.23 606.6 53.78 606.85 49.81 607.1 46.36 607.35 43.46 607.6 41.15 607.85 39.44 608.1 38.36 608.35 37.91 608.6 38.1 608.85 38.92 609.1 40.36 609.35 42.4 609.6 45.03 609.85 48.23 610.1 51.95 610.35 56.17 610.6 60.84 610.85 65.93 611.1 71.37 611.35 77.12 611.6 83.12 611.85 89.32 612.1 95.66 612.35 102.06 612.6 108.49 612.85 114.86 613.1 121.12 613.35 127.2 613.6 133.06 613.85 138.64 614.1 143.87 614.35 148.71 614.6 153.12 614.85 157.05 615.1 160.45 615.35 163.31 615.6 165.6 615.85 167.28 616.1 168.35 616.35 168.79 616.6 168.58 616.85 167.69 617.1 166.13 617.35 163.92 617.6 161.06 617.85 157.6 618.1 153.57 618.35 149.02 618.6 143.97 618.85 138.5 619.1 132.64 619.35 126.47 619.6 120.04 619.85 113.43 620.1 106.69 620.35 99.89 620.6 93.11 620.85 86.41 621.1 79.86 621.35 73.53 621.6 67.48 621.85 61.77 622.1 56.46 622.35 51.6 622.6 47.25 622.85 43.44 623.1 40.22 623.35 37.62 623.6 35.66 623.85 34.37 624.1 33.75 624.35 33.82 624.6 34.56 624.85 35.97 625.1 38.03 625.35 40.72 625.6 44.02 625.85 47.89 626.1 52.3 626.35 57.2 626.6 62.56 626.85 68.3 627.1 74.39 627.35 80.77 627.6 87.36 627.85 94.11 628.1 100.95 628.35 107.82 628.6 114.65 628.85 121.37 629.1 127.93 629.35 134.25 629.6 140.27 629.85 145.95 630.1 151.22 630.35 156.03 630.6 160.33 630.85 164.09 631.1 167.27 631.35 169.84 631.6 171.77 631.85 173.04 632.1 173.65 632.35 173.57 632.6 172.77 632.85 171.24 633.1 169.01 633.35 166.1 633.6 162.54 633.85 158.36 634.1 153.6 634.35 148.31 634.6 142.56 634.85 136.39 635.1 129.86 635.35 123.05 635.6 116.02 635.85 108.85 636.1 101.6 636.35 94.35 636.6 87.18 636.85 80.15 637.1 73.34 637.35 66.81 637.6 60.64 637.85 54.89 638.1 49.6 638.35 44.84 638.6 40.66 638.85 37.1 639.1 34.19 639.35 31.96 639.6 30.43 639.85 29.63 640.1 29.56 640.35 30.2 640.6 31.56 640.85 33.62 641.1 36.36 641.35 39.75 641.6 43.77 641.85 48.36 642.1 53.49 642.35 59.11 642.6 65.17 642.85 71.6 643.1 78.35 643.35 85.34 643.6 92.51 643.85 99.8 644.1 107.13 644.35 114.43 644.6 121.64 644.85 128.67 645.1 135.47 645.35 141.97 645.6 148.11 645.85 153.82 646.1 159.05 646.35 163.76 646.6 167.89 646.85 171.41 647.1 174.28 647.35 176.48 647.6 177.98 647.85 178.77 648.1 178.84 648.35 178.12 648.6 176.6 648.85 174.31 649.1 171.27 649.35 167.5 649.6 163.06 649.85 157.97 650.1 152.31 650.35 146.12 650.6 139.46 650.85 132.42 651.1 125.06 651.35 117.46 651.6 109.7 651.85 101.85 652.1 94 652.35 86.24 652.6 78.64 652.85 71.28 653.1 64.24 653.35 57.58 653.6 51.39 653.85 45.73 654.1 40.64 654.35 36.2 654.6 32.43 654.85 29.39 655.1 27.1 655.35 25.58 655.6 24.86 655.85 24.94 656.1 25.77 656.35 27.36 656.6 29.69 656.85 32.73 657.1 36.46 657.35 40.84 657.6 45.83 657.85 51.37 658.1 57.43 658.35 63.93 658.6 70.81 658.85 78.02 659.1 85.47 659.35 93.11 659.6 100.84 659.85 108.61 660.1 116.33 660.35 123.93 660.6 131.35 660.85 138.49 661.1 145.31 661.35 151.72 661.6 157.68 661.85 163.12 662.1 167.98 662.35 172.24 662.6 175.83 662.85 178.73 663.1 180.91 663.35 182.35 663.6 183.04 663.85 182.95 664.1 182.04 664.35 180.32 664.6 177.8 664.85 174.51 665.1 170.48 665.35 165.74 665.6 160.36 665.85 154.39 666.1 147.88 666.35 140.89 666.6 133.51 666.85 125.81 667.1 117.86 667.35 109.75 667.6 101.55 667.85 93.35 668.1 85.24 668.35 77.29 668.6 69.59 668.85 62.21 669.1 55.22 669.35 48.71 669.6 42.74 669.85 37.36 670.1 32.62 670.35 28.59" stroke="#000" stroke-width="1.2" fill="none" stroke-linejoin="round"/></g><path d="M134.07 433.3V246.5" stroke="#111" stroke-width="1.15" stroke-dasharray="4.9 4.6" fill="none"/><path d="M210.55 433.3V246.5" stroke="#111" stroke-width="1.15" stroke-dasharray="4.9 4.6" fill="none"/><path d="M287.02 433.3V246.5" stroke="#111" stroke-width="1.15" stroke-dasharray="4.9 4.6" fill="none"/><path d="M363.5 433.3V246.5" stroke="#111" stroke-width="1.15" stroke-dasharray="4.9 4.6" fill="none"/><path d="M439.98 433.3V246.5" stroke="#111" stroke-width="1.15" stroke-dasharray="4.9 4.6" fill="none"/><path d="M516.45 433.3V246.5" stroke="#111" stroke-width="1.15" stroke-dasharray="4.9 4.6" fill="none"/><path d="M592.93 433.3V246.5" stroke="#111" stroke-width="1.15" stroke-dasharray="4.9 4.6" fill="none"/><path d="M57.6 293.2H669.4" stroke="#111" stroke-width="1.15" stroke-dasharray="4.9 4.6" fill="none"/><path d="M57.6 339.9H669.4" stroke="#111" stroke-width="1.15" stroke-dasharray="4.9 4.6" fill="none"/><path d="M57.6 386.6H669.4" stroke="#111" stroke-width="1.15" stroke-dasharray="4.9 4.6" fill="none"/><g clip-path="url(#cb)"><path d="M57.6 339.9 57.85 339.9 58.1 339.9 58.35 339.9 58.6 339.9 58.85 339.9 59.1 339.9 59.35 339.9 59.6 339.9 59.85 339.9 60.1 339.9 60.35 339.9 60.6 339.9 60.85 339.9 61.1 339.9 61.35 339.9 61.6 339.9 61.85 339.9 62.1 339.9 62.35 339.9 62.6 339.9 62.85 339.9 63.1 339.9 63.35 339.9 63.6 339.9 63.85 339.9 64.1 339.9 64.35 339.9 64.6 339.9 64.85 339.9 65.1 339.9 65.35 339.9 65.6 339.9 65.85 339.9 66.1 339.9 66.35 339.9 66.6 339.9 66.85 339.9 67.1 339.9 67.35 339.9 67.6 339.9 67.85 339.9 68.1 339.9 68.35 339.9 68.6 339.9 68.85 339.9 69.1 339.9 69.35 339.9 69.6 339.9 69.85 339.9 70.1 339.9 70.35 339.9 70.6 339.9 70.85 339.9 71.1 339.9 71.35 339.9 71.6 339.9 71.85 339.9 72.1 339.9 72.35 339.9 72.6 339.9 72.85 339.9 73.1 339.9 73.35 339.9 73.6 339.9 73.85 339.9 74.1 339.9 74.35 339.9 74.6 339.9 74.85 339.9 75.1 339.9 75.35 339.9 75.6 339.9 75.85 339.9 76.1 339.9 76.35 339.9 76.6 339.9 76.85 339.9 77.1 339.9 77.35 339.9 77.6 339.9 77.85 339.9 78.1 339.9 78.35 339.9 78.6 339.9 78.85 339.9 79.1 339.9 79.35 339.9 79.6 339.9 79.85 339.9 80.1 339.9 80.35 339.9 80.6 339.9 80.85 339.9 81.1 339.9 81.35 339.9 81.6 339.9 81.85 339.9 82.1 339.9 82.35 339.9 82.6 339.9 82.85 339.9 83.1 339.9 83.35 339.9 83.6 339.9 83.85 339.9 84.1 339.9 84.35 339.9 84.6 339.9 84.85 339.9 85.1 339.9 85.35 339.9 85.6 339.9 85.85 339.9 86.1 339.9 86.35 339.9 86.6 339.9 86.85 339.9 87.1 339.9 87.35 339.9 87.6 339.9 87.85 339.9 88.1 339.9 88.35 339.9 88.6 339.9 88.85 339.9 89.1 339.9 89.35 339.9 89.6 339.9 89.85 339.9 90.1 339.9 90.35 339.9 90.6 339.9 90.85 339.9 91.1 339.9 91.35 339.9 91.6 339.9 91.85 339.9 92.1 339.9 92.35 339.9 92.6 339.9 92.85 339.9 93.1 339.9 93.35 339.9 93.6 339.9 93.85 339.9 94.1 339.9 94.35 339.9 94.6 339.9 94.85 339.9 95.1 339.9 95.35 339.9 95.6 339.9 95.85 339.9 96.1 339.9 96.35 339.9 96.6 339.9 96.85 339.9 97.1 339.9 97.35 339.9 97.6 339.9 97.85 339.9 98.1 339.9 98.35 339.9 98.6 339.9 98.85 339.9 99.1 339.9 99.35 339.9 99.6 339.9 99.85 339.9 100.1 339.9 100.35 339.9 100.6 339.9 100.85 339.9 101.1 339.9 101.35 339.9 101.6 339.9 101.85 339.9 102.1 339.9 102.35 339.9 102.6 339.9 102.85 339.9 103.1 339.9 103.35 339.9 103.6 339.9 103.85 339.9 104.1 339.9 104.35 339.9 104.6 339.9 104.85 339.9 105.1 339.9 105.35 339.9 105.6 339.9 105.85 339.9 106.1 339.9 106.35 339.9 106.6 339.9 106.85 339.9 107.1 339.9 107.35 339.9 107.6 339.9 107.85 339.9 108.1 339.9 108.35 339.9 108.6 339.9 108.85 339.9 109.1 339.9 109.35 339.9 109.6 339.9 109.85 339.9 110.1 339.9 110.35 339.9 110.6 339.9 110.85 339.9 111.1 339.9 111.35 339.9 111.6 339.9 111.85 339.9 112.1 339.9 112.35 339.9 112.6 339.9 112.85 339.9 113.1 339.9 113.35 339.9 113.6 339.9 113.85 339.9 114.1 339.9 114.35 339.9 114.6 339.9 114.85 339.9 115.1 339.9 115.35 339.9 115.6 339.9 115.85 339.9 116.1 339.9 116.35 339.9 116.6 339.9 116.85 339.9 117.1 339.9 117.35 339.9 117.6 339.9 117.85 339.9 118.1 339.9 118.35 339.9 118.6 339.9 118.85 339.9 119.1 339.9 119.35 339.9 119.6 339.9 119.85 339.9 120.1 339.9 120.35 339.9 120.6 339.9 120.85 339.9 121.1 339.9 121.35 339.9 121.6 339.9 121.85 339.9 122.1 339.9 122.35 339.9 122.6 339.9 122.85 339.9 123.1 339.9 123.35 339.9 123.6 339.9 123.85 339.9 124.1 339.9 124.35 339.9 124.6 339.9 124.85 339.9 125.1 339.9 125.35 339.9 125.6 339.9 125.85 339.9 126.1 339.9 126.35 339.9 126.6 339.9 126.85 339.9 127.1 339.9 127.35 339.9 127.6 339.9 127.85 339.9 128.1 339.9 128.35 339.9 128.6 339.9 128.85 339.9 129.1 339.9 129.35 339.9 129.6 339.9 129.85 339.9 130.1 339.9 130.35 339.9 130.6 339.9 130.85 339.9 131.1 339.9 131.35 339.9 131.6 339.9 131.85 339.9 132.1 339.9 132.35 339.9 132.6 339.9 132.85 339.9 133.1 339.9 133.35 339.9 133.6 339.9 133.85 339.9 134.1 339.9 134.35 339.9 134.6 339.9 134.85 339.9 135.1 339.9 135.35 339.9 135.6 339.9 135.85 339.9 136.1 339.9 136.35 339.9 136.6 339.9 136.85 339.9 137.1 339.9 137.35 339.9 137.6 339.9 137.85 339.9 138.1 339.9 138.35 339.9 138.6 339.9 138.85 339.9 139.1 339.9 139.35 339.9 139.6 339.9 139.85 339.9 140.1 339.9 140.35 339.9 140.6 339.9 140.85 339.9 141.1 339.9 141.35 339.9 141.6 339.9 141.85 339.9 142.1 339.9 142.35 339.9 142.6 339.9 142.85 339.9 143.1 339.9 143.35 339.9 143.6 339.9 143.85 339.9 144.1 339.9 144.35 339.9 144.6 339.9 144.85 339.9 145.1 339.9 145.35 339.9 145.6 339.9 145.85 339.9 146.1 339.9 146.35 339.9 146.6 339.9 146.85 339.9 147.1 339.9 147.35 339.9 147.6 339.9 147.85 339.9 148.1 339.9 148.35 339.9 148.6 339.9 148.85 339.9 149.1 339.9 149.35 339.9 149.6 339.9 149.85 339.9 150.1 339.9 150.35 339.9 150.6 339.9 150.85 339.9 151.1 339.9 151.35 339.9 151.6 339.9 151.85 339.9 152.1 339.9 152.35 339.9 152.6 339.9 152.85 339.9 153.1 339.9 153.35 339.9 153.6 339.9 153.85 339.9 154.1 339.9 154.35 339.9 154.6 339.9 154.85 339.9 155.1 339.9 155.35 339.9 155.6 339.9 155.85 339.9 156.1 339.9 156.35 339.9 156.6 339.9 156.85 339.9 157.1 339.9 157.35 339.9 157.6 339.9 157.85 339.9 158.1 339.9 158.35 339.9 158.6 339.9 158.85 339.9 159.1 339.9 159.35 339.9 159.6 339.9 159.85 339.9 160.1 339.9 160.35 339.9 160.6 339.9 160.85 339.9 161.1 339.9 161.35 339.9 161.6 339.9 161.85 339.9 162.1 339.9 162.35 339.9 162.6 339.9 162.85 339.9 163.1 339.9 163.35 339.9 163.6 339.9 163.85 339.9 164.1 339.9 164.35 339.9 164.6 339.9 164.85 339.9 165.1 339.9 165.35 339.9 165.6 339.9 165.85 339.9 166.1 339.9 166.35 339.9 166.6 339.9 166.85 339.9 167.1 339.9 167.35 339.9 167.6 339.9 167.85 339.9 168.1 339.9 168.35 339.9 168.6 339.9 168.85 339.9 169.1 339.9 169.35 339.9 169.6 339.9 169.85 339.9 170.1 339.9 170.35 339.9 170.6 339.9 170.85 339.9 171.1 339.9 171.35 339.9 171.6 339.9 171.85 339.9 172.1 339.9 172.35 339.9 172.6 339.9 172.85 339.9 173.1 339.9 173.35 339.9 173.6 339.9 173.85 339.9 174.1 339.9 174.35 339.9 174.6 339.9 174.85 339.9 175.1 339.9 175.35 339.9 175.6 339.9 175.85 339.9 176.1 339.9 176.35 339.9 176.6 339.9 176.85 339.9 177.1 339.9 177.35 339.9 177.6 339.9 177.85 339.9 178.1 339.9 178.35 339.9 178.6 339.9 178.85 339.9 179.1 339.9 179.35 339.9 179.6 339.9 179.85 339.9 180.1 339.9 180.35 339.9 180.6 339.9 180.85 339.9 181.1 339.9 181.35 339.9 181.6 339.9 181.85 339.9 182.1 339.9 182.35 339.9 182.6 339.9 182.85 339.9 183.1 339.9 183.35 339.9 183.6 339.9 183.85 339.9 184.1 339.9 184.35 339.9 184.6 339.9 184.85 339.9 185.1 339.9 185.35 339.9 185.6 339.9 185.85 339.9 186.1 339.9 186.35 339.9 186.6 339.9 186.85 339.9 187.1 339.9 187.35 339.9 187.6 339.9 187.85 339.9 188.1 339.9 188.35 339.9 188.6 339.9 188.85 339.9 189.1 339.9 189.35 339.9 189.6 339.9 189.85 339.9 190.1 339.9 190.35 339.9 190.6 339.9 190.85 339.9 191.1 339.9 191.35 339.9 191.6 339.9 191.85 339.9 192.1 339.9 192.35 339.9 192.6 339.9 192.85 339.9 193.1 339.9 193.35 339.9 193.6 339.9 193.85 339.9 194.1 339.9 194.35 339.9 194.6 339.9 194.85 339.9 195.1 339.9 195.35 339.9 195.6 339.9 195.85 339.9 196.1 339.9 196.35 339.9 196.6 339.9 196.85 339.9 197.1 339.9 197.35 339.9 197.6 339.9 197.85 339.9 198.1 339.9 198.35 339.9 198.6 339.9 198.85 339.9 199.1 339.9 199.35 339.9 199.6 339.9 199.85 339.9 200.1 339.9 200.35 339.9 200.6 339.9 200.85 339.9 201.1 339.9 201.35 339.9 201.6 339.9 201.85 339.9 202.1 339.9 202.35 339.9 202.6 339.9 202.85 339.9 203.1 339.9 203.35 339.9 203.6 339.9 203.85 339.9 204.1 339.9 204.35 339.9 204.6 339.9 204.85 339.9 205.1 339.9 205.35 339.9 205.6 339.9 205.85 339.9 206.1 339.9 206.35 339.9 206.6 339.9 206.85 339.9 207.1 339.9 207.35 339.9 207.6 339.9 207.85 339.9 208.1 339.9 208.35 339.9 208.6 339.9 208.85 339.9 209.1 339.9 209.35 339.9 209.6 339.9 209.85 339.9 210.1 339.9 210.35 339.9 210.6 339.9 210.85 339.9 211.1 339.9 211.35 339.9 211.6 339.9 211.85 339.9 212.1 339.9 212.35 339.9 212.6 339.9 212.85 339.9 213.1 339.9 213.35 339.9 213.6 339.9 213.85 339.9 214.1 339.9 214.35 339.9 214.6 339.9 214.85 339.9 215.1 339.9 215.35 339.9 215.6 339.9 215.85 339.9 216.1 339.9 216.35 339.9 216.6 339.9 216.85 339.9 217.1 339.9 217.35 339.9 217.6 339.9 217.85 339.9 218.1 339.9 218.35 339.9 218.6 339.9 218.85 339.9 219.1 339.9 219.35 339.9 219.6 339.9 219.85 339.9 220.1 339.9 220.35 339.9 220.6 339.9 220.85 339.9 221.1 339.9 221.35 339.9 221.6 339.9 221.85 339.9 222.1 339.9 222.35 339.9 222.6 339.9 222.85 339.9 223.1 339.9 223.35 339.9 223.6 339.9 223.85 339.9 224.1 339.9 224.35 339.9 224.6 339.9 224.85 339.9 225.1 339.9 225.35 339.9 225.6 339.9 225.85 339.9 226.1 339.9 226.35 339.9 226.6 339.9 226.85 339.9 227.1 339.9 227.35 339.9 227.6 339.9 227.85 339.9 228.1 339.9 228.35 339.9 228.6 339.9 228.85 339.9 229.1 339.9 229.35 339.9 229.6 339.9 229.85 339.9 230.1 339.9 230.35 339.9 230.6 339.9 230.85 339.9 231.1 339.9 231.35 339.9 231.6 339.9 231.85 339.9 232.1 339.9 232.35 339.9 232.6 339.9 232.85 339.9 233.1 339.9 233.35 339.9 233.6 339.9 233.85 339.9 234.1 339.9 234.35 339.9 234.6 339.9 234.85 339.9 235.1 339.9 235.35 339.9 235.6 339.9 235.85 339.9 236.1 339.9 236.35 339.9 236.6 339.9 236.85 339.9 237.1 339.9 237.35 339.9 237.6 339.9 237.85 339.9 238.1 339.9 238.35 339.9 238.6 339.9 238.85 339.9 239.1 339.9 239.35 339.9 239.6 339.9 239.85 339.9 240.1 339.9 240.35 339.9 240.6 339.9 240.85 339.9 241.1 339.9 241.35 339.9 241.6 339.9 241.85 339.9 242.1 339.9 242.35 339.9 242.6 339.9 242.85 339.9 243.1 339.9 243.35 339.9 243.6 339.9 243.85 339.9 244.1 339.9 244.35 339.9 244.6 339.9 244.85 339.9 245.1 339.9 245.35 339.9 245.6 339.9 245.85 339.9 246.1 339.9 246.35 339.9 246.6 339.9 246.85 339.9 247.1 339.9 247.35 339.9 247.6 339.9 247.85 339.9 248.1 339.9 248.35 339.9 248.6 339.9 248.85 339.9 249.1 339.9 249.35 339.9 249.6 339.9 249.85 339.9 250.1 339.9 250.35 339.9 250.6 339.9 250.85 339.9 251.1 339.9 251.35 339.9 251.6 339.9 251.85 339.9 252.1 339.9 252.35 339.9 252.6 339.9 252.85 339.9 253.1 339.9 253.35 339.9 253.6 339.9 253.85 339.9 254.1 339.9 254.35 339.9 254.6 339.9 254.85 339.9 255.1 339.9 255.35 339.9 255.6 339.9 255.85 339.9 256.1 339.9 256.35 339.9 256.6 339.9 256.85 339.9 257.1 339.9 257.35 339.9 257.6 339.9 257.85 339.9 258.1 339.9 258.35 339.9 258.6 339.9 258.85 339.9 259.1 339.9 259.35 339.9 259.6 339.9 259.85 339.9 260.1 339.9 260.35 339.9 260.6 339.9 260.85 339.9 261.1 339.9 261.35 339.9 261.6 339.9 261.85 339.9 262.1 339.9 262.35 339.9 262.6 339.9 262.85 339.9 263.1 339.9 263.35 339.9 263.6 339.9 263.85 339.9 264.1 339.9 264.35 339.9 264.6 339.9 264.85 339.9 265.1 339.9 265.35 339.9 265.6 339.9 265.85 339.9 266.1 339.9 266.35 339.9 266.6 339.9 266.85 339.9 267.1 339.9 267.35 339.9 267.6 339.9 267.85 339.9 268.1 339.9 268.35 339.9 268.6 339.9 268.85 339.9 269.1 339.9 269.35 339.9 269.6 339.9 269.85 339.9 270.1 339.9 270.35 339.9 270.6 339.9 270.85 339.9 271.1 339.9 271.35 339.9 271.6 339.9 271.85 339.9 272.1 339.9 272.35 339.9 272.6 339.9 272.85 339.9 273.1 339.9 273.35 339.9 273.6 339.9 273.85 339.9 274.1 339.9 274.35 339.9 274.6 339.9 274.85 339.9 275.1 339.9 275.35 339.9 275.6 339.9 275.85 339.9 276.1 339.9 276.35 339.9 276.6 339.9 276.85 339.9 277.1 339.9 277.35 339.9 277.6 339.9 277.85 339.9 278.1 339.9 278.35 339.9 278.6 339.9 278.85 339.9 279.1 339.9 279.35 339.9 279.6 339.9 279.85 339.9 280.1 339.9 280.35 339.9 280.6 339.9 280.85 339.9 281.1 339.9 281.35 339.9 281.6 339.9 281.85 339.9 282.1 339.9 282.35 339.9 282.6 339.9 282.85 339.9 283.1 339.9 283.35 339.9 283.6 339.9 283.85 339.99 284.1 340.55 284.35 341.6 284.6 343.1 284.85 345.03 285.1 347.32 285.35 349.92 285.6 352.74 285.85 355.72 286.1 358.76 286.35 361.79 286.6 364.71 286.85 367.45 287.1 369.93 287.35 372.09 287.6 373.85 287.85 375.18 288.1 376.03 288.35 376.39 288.6 376.35 288.85 376.14 289.1 375.77 289.35 375.24 289.6 374.56 289.85 373.73 290.1 372.75 290.35 371.62 290.6 370.36 290.85 368.96 291.1 367.44 291.35 365.8 291.6 364.05 291.85 362.2 292.1 360.25 292.35 358.22 292.6 356.12 292.85 353.95 293.1 351.72 293.35 349.46 293.6 347.16 293.85 344.83 294.1 342.5 294.35 340.17 294.6 337.84 294.85 335.54 295.1 333.28 295.35 331.05 295.6 328.88 295.85 326.78 296.1 324.75 296.35 322.8 296.6 320.95 296.85 319.2 297.1 317.56 297.35 316.04 297.6 314.64 297.85 313.38 298.1 312.25 298.35 311.27 298.6 310.44 298.85 309.76 299.1 309.23 299.35 308.86 299.6 308.65 299.85 308.61 300.1 308.86 300.35 309.49 300.6 310.46 300.85 311.79 301.1 313.45 301.35 315.42 301.6 317.69 301.85 320.23 302.1 323.01 302.35 326.01 302.6 329.18 302.85 332.51 303.1 335.94 303.35 339.45 303.6 343 303.85 346.55 304.1 350.06 304.35 353.49 304.6 356.82 304.85 359.99 305.1 362.99 305.35 365.77 305.6 368.31 305.85 370.58 306.1 372.55 306.35 374.21 306.6 375.54 306.85 376.51 307.1 377.14 307.35 377.39 307.6 377.32 307.85 377.01 308.1 376.45 308.35 375.66 308.6 374.64 308.85 373.4 309.1 371.94 309.35 370.28 309.6 368.42 309.85 366.39 310.1 364.19 310.35 361.84 310.6 359.35 310.85 356.75 311.1 354.05 311.35 351.27 311.6 348.43 311.85 345.55 312.1 342.65 312.35 339.75 312.6 336.87 312.85 334.03 313.1 331.25 313.35 328.55 313.6 325.95 313.85 323.46 314.1 321.11 314.35 318.91 314.6 316.88 314.85 315.02 315.1 313.36 315.35 311.9 315.6 310.66 315.85 309.64 316.1 308.85 316.35 308.29 316.6 307.98 316.85 307.9 317.1 308.06 317.35 308.43 317.6 309.02 317.85 309.82 318.1 310.83 318.35 312.04 318.6 313.45 318.85 315.03 319.1 316.8 319.35 318.72 319.6 320.8 319.85 323.01 320.1 325.34 320.35 327.79 320.6 330.32 320.85 332.93 321.1 335.6 321.35 338.32 321.6 341.05 321.85 343.8 322.1 346.53 322.35 349.24 322.6 351.9 322.85 354.49 323.1 357.01 323.35 359.43 323.6 361.74 323.85 363.93 324.1 365.98 324.35 367.87 324.6 369.6 324.85 371.15 325.1 372.52 325.35 373.69 325.6 374.66 325.85 375.41 326.1 375.96 326.35 376.29 326.6 376.4 326.85 376.31 327.1 376.04 327.35 375.58 327.6 374.96 327.85 374.15 328.1 373.18 328.35 372.05 328.6 370.76 328.85 369.32 329.1 367.74 329.35 366.03 329.6 364.2 329.85 362.26 330.1 360.22 330.35 358.1 330.6 355.9 330.85 353.65 331.1 351.34 331.35 349 331.6 346.65 331.85 344.28 332.1 341.93 332.35 339.59 332.6 337.3 332.85 335.05 333.1 332.87 333.35 330.76 333.6 328.74 333.85 326.82 334.1 325.02 334.35 323.33 334.6 321.78 334.85 320.37 335.1 319.11 335.35 318.01 335.6 317.07 335.85 316.3 336.1 315.71 336.35 315.29 336.6 315.06 336.85 315 337.1 315.11 337.35 315.36 337.6 315.77 337.85 316.32 338.1 317.01 338.35 317.84 338.6 318.8 338.85 319.89 339.1 321.1 339.35 322.42 339.6 323.85 339.85 325.37 340.1 326.97 340.35 328.64 340.6 330.38 340.85 332.18 341.1 334.01 341.35 335.87 341.6 337.75 341.85 339.63 342.1 341.51 342.35 343.36 342.6 345.19 342.85 346.97 343.1 348.7 343.35 350.36 343.6 351.94 343.85 353.44 344.1 354.85 344.35 356.15 344.6 357.33 344.85 358.4 345.1 359.34 345.35 360.14 345.6 360.8 345.85 361.32 346.1 361.7 346.35 361.92 346.6 362 346.85 361.93 347.1 361.71 347.35 361.35 347.6 360.85 347.85 360.21 348.1 359.43 348.35 358.53 348.6 357.51 348.85 356.38 349.1 355.14 349.35 353.81 349.6 352.39 349.85 350.9 350.1 349.34 350.35 347.72 350.6 346.07 350.85 344.38 351.1 342.68 351.35 340.98 351.6 339.28 351.85 337.6 352.1 335.95 352.35 334.35 352.6 332.8 352.85 331.32 353.1 329.92 353.35 328.6 353.6 327.38 353.85 326.27 354.1 325.28 354.35 324.4 354.6 323.66 354.85 323.04 355.1 322.57 355.35 322.24 355.6 322.05 355.85 322 356.1 322.09 356.35 322.3 356.6 322.63 356.85 323.09 357.1 323.66 357.35 324.34 357.6 325.14 357.85 326.03 358.1 327.03 358.35 328.12 358.6 329.3 358.85 330.55 359.1 331.88 359.35 333.26 359.6 334.7 359.85 336.19 360.1 337.71 360.35 339.25 360.6 340.81 360.85 342.38 361.1 343.94 361.35 345.49 361.6 347.01 361.85 348.5 362.1 349.95 362.35 351.35 362.6 352.69 362.85 353.96 363.1 355.15 363.35 356.26 363.6 357.27 363.85 358.19 364.1 359.01 364.35 359.72 364.6 360.31 364.85 360.79 365.1 361.14 365.35 361.38 365.6 361.49 365.85 361.48 366.1 361.33 366.35 361.05 366.6 360.65 366.85 360.11 367.1 359.45 367.35 358.68 367.6 357.78 367.85 356.78 368.1 355.67 368.35 354.47 368.6 353.18 368.85 351.8 369.1 350.36 369.35 348.85 369.6 347.28 369.85 345.67 370.1 344.03 370.35 342.36 370.6 340.68 370.85 338.99 371.1 337.31 371.35 335.64 371.6 334 371.85 332.4 372.1 330.85 372.35 329.35 372.6 327.92 372.85 326.56 373.1 325.28 373.35 324.1 373.6 323.01 373.85 322.03 374.1 321.16 374.35 320.4 374.6 319.77 374.85 319.26 375.1 318.88 375.35 318.63 375.6 318.51 375.85 318.52 376.1 318.66 376.35 318.93 376.6 319.32 376.85 319.83 377.1 320.46 377.35 321.21 377.6 322.07 377.85 323.04 378.1 324.11 378.35 325.27 378.6 326.52 378.85 327.86 379.1 329.26 379.35 330.74 379.6 332.27 379.85 333.84 380.1 335.46 380.35 337.11 380.6 338.78 380.85 340.46 381.1 342.15 381.35 343.82 381.6 345.48 381.85 347.11 382.1 348.71 382.35 350.26 382.6 351.75 382.85 353.19 383.1 354.55 383.35 355.84 383.6 357.04 383.85 358.14 384.1 359.15 384.35 360.06 384.6 360.85 384.85 361.53 385.1 362.09 385.35 362.53 385.6 362.85 385.85 363.04 386.1 363.1 386.35 363.02 386.6 362.79 386.85 362.41 387.1 361.88 387.35 361.21 387.6 360.39 387.85 359.44 388.1 358.37 388.35 357.17 388.6 355.85 388.85 354.44 389.1 352.93 389.35 351.34 389.6 349.67 389.85 347.94 390.1 346.16 390.35 344.35 390.6 342.5 390.85 340.65 391.1 338.8 391.35 336.95 391.6 335.14 391.85 333.36 392.1 331.63 392.35 329.96 392.6 328.37 392.85 326.86 393.1 325.45 393.35 324.13 393.6 322.93 393.85 321.86 394.1 320.91 394.35 320.09 394.6 319.42 394.85 318.89 395.1 318.51 395.35 318.28 395.6 318.2 395.85 318.28 396.1 318.5 396.35 318.87 396.6 319.39 396.85 320.06 397.1 320.86 397.35 321.79 397.6 322.85 397.85 324.03 398.1 325.32 398.35 326.71 398.6 328.19 398.85 329.76 399.1 331.39 399.35 333.09 399.6 334.84 399.85 336.62 400.1 338.43 400.35 340.25 400.6 342.07 400.85 343.88 401.1 345.66 401.35 347.41 401.6 349.11 401.85 350.74 402.1 352.31 402.35 353.79 402.6 355.18 402.85 356.47 403.1 357.65 403.35 358.71 403.6 359.64 403.85 360.44 404.1 361.11 404.35 361.63 404.6 362 404.85 362.22 405.1 362.3 405.35 362.23 405.6 362.01 405.85 361.65 406.1 361.16 406.35 360.52 406.6 359.75 406.85 358.86 407.1 357.84 407.35 356.71 407.6 355.46 407.85 354.12 408.1 352.68 408.35 351.16 408.6 349.57 408.85 347.91 409.1 346.2 409.35 344.45 409.6 342.66 409.85 340.85 410.1 339.04 410.35 337.22 410.6 335.42 410.85 333.65 411.1 331.91 411.35 330.22 411.6 328.58 411.85 327.02 412.1 325.53 412.35 324.13 412.6 322.83 412.85 321.63 413.1 320.54 413.35 319.57 413.6 318.72 413.85 318.01 414.1 317.43 414.35 316.99 414.6 316.68 414.85 316.53 415.1 316.51 415.35 316.65 415.6 316.95 415.85 317.39 416.1 317.99 416.35 318.73 416.6 319.61 416.85 320.62 417.1 321.77 417.35 323.03 417.6 324.41 417.85 325.9 418.1 327.48 418.35 329.14 418.6 330.87 418.85 332.67 419.1 334.52 419.35 336.41 419.6 338.33 419.85 340.26 420.1 342.2 420.35 344.12 420.6 346.02 420.85 347.89 421.1 349.71 421.35 351.48 421.6 353.17 421.85 354.78 422.1 356.3 422.35 357.73 422.6 359.04 422.85 360.23 423.1 361.3 423.35 362.24 423.6 363.04 423.85 363.69 424.1 364.19 424.35 364.55 424.6 364.75 424.85 364.8 425.1 364.68 425.35 364.39 425.6 363.94 425.85 363.32 426.1 362.55 426.35 361.62 426.6 360.54 426.85 359.32 427.1 357.97 427.35 356.49 427.6 354.9 427.85 353.2 428.1 351.41 428.35 349.54 428.6 347.61 428.85 345.61 429.1 343.57 429.35 341.5 429.6 339.42 429.85 337.33 430.1 335.25 430.35 333.2 430.6 331.19 430.85 329.22 431.1 327.32 431.35 325.5 431.6 323.77 431.85 322.13 432.1 320.61 432.35 319.21 432.6 317.93 432.85 316.8 433.1 315.81 433.35 314.97 433.6 314.29 433.85 313.77 434.1 313.42 434.35 313.23 434.6 313.22 434.85 313.42 435.1 313.84 435.35 314.47 435.6 315.32 435.85 316.37 436.1 317.61 436.35 319.05 436.6 320.65 436.85 322.42 437.1 324.33 437.35 326.38 437.6 328.54 437.85 330.79 438.1 333.12 438.35 335.52 438.6 337.95 438.85 340.4 439.1 342.85 439.35 345.28 439.6 347.68 439.85 350.01 440.1 352.26 440.35 354.42 440.6 356.47 440.85 358.38 441.1 360.15 441.35 361.75 441.6 363.19 441.85 364.43 442.1 365.48 442.35 366.33 442.6 366.96 442.85 367.38 443.1 367.58 443.35 367.57 443.6 367.39 443.85 367.06 444.1 366.56 444.35 365.91 444.6 365.11 444.85 364.16 445.1 363.07 445.35 361.84 445.6 360.49 445.85 359.02 446.1 357.43 446.35 355.75 446.6 353.97 446.85 352.11 447.1 350.18 447.35 348.18 447.6 346.14 447.85 344.07 448.1 341.96 448.35 339.85 448.6 337.74 448.85 335.63 449.1 333.56 449.35 331.52 449.6 329.52 449.85 327.59 450.1 325.73 450.35 323.95 450.6 322.27 450.85 320.68 451.1 319.21 451.35 317.86 451.6 316.63 451.85 315.54 452.1 314.59 452.35 313.79 452.6 313.14 452.85 312.64 453.1 312.31 453.35 312.13 453.6 312.11 453.85 312.28 454.1 312.64 454.35 313.17 454.6 313.89 454.85 314.78 455.1 315.84 455.35 317.06 455.6 318.44 455.85 319.96 456.1 321.62 456.35 323.4 456.6 325.3 456.85 327.29 457.1 329.37 457.35 331.53 457.6 333.75 457.85 336 458.1 338.29 458.35 340.6 458.6 342.91 458.85 345.2 459.1 347.45 459.35 349.67 459.6 351.83 459.85 353.91 460.1 355.9 460.35 357.8 460.6 359.58 460.85 361.24 461.1 362.76 461.35 364.14 461.6 365.36 461.85 366.42 462.1 367.31 462.35 368.03 462.6 368.56 462.85 368.92 463.1 369.09 463.35 369.06 463.6 368.83 463.85 368.38 464.1 367.73 464.35 366.88 464.6 365.82 464.85 364.58 465.1 363.16 465.35 361.57 465.6 359.82 465.85 357.92 466.1 355.89 466.35 353.74 466.6 351.48 466.85 349.14 467.1 346.73 467.35 344.27 467.6 341.77 467.85 339.25 468.1 336.73 468.35 334.23 468.6 331.77 468.85 329.36 469.1 327.02 469.35 324.76 469.6 322.61 469.85 320.58 470.1 318.68 470.35 316.93 470.6 315.34 470.85 313.92 471.1 312.68 471.35 311.62 471.6 310.77 471.85 310.12 472.1 309.67 472.35 309.44 472.6 309.42 472.85 309.65 473.1 310.12 473.35 310.84 473.6 311.8 473.85 312.99 474.1 314.4 474.35 316.02 474.6 317.84 474.85 319.84 475.1 322.01 475.35 324.32 475.6 326.76 475.85 329.32 476.1 331.96 476.35 334.67 476.6 337.42 476.85 340.2 477.1 342.98 477.35 345.73 477.6 348.44 477.85 351.08 478.1 353.64 478.35 356.08 478.6 358.39 478.85 360.56 479.1 362.56 479.35 364.38 479.6 366 479.85 367.41 480.1 368.6 480.35 369.56 480.6 370.28 480.85 370.75 481.1 370.98 481.35 370.95 481.6 370.67 481.85 370.12 482.1 369.32 482.35 368.28 482.6 366.99 482.85 365.48 483.1 363.75 483.35 361.82 483.6 359.7 483.85 357.41 484.1 354.97 484.35 352.41 484.6 349.73 484.85 346.97 485.1 344.14 485.35 341.26 485.6 338.37 485.85 335.48 486.1 332.63 486.35 329.82 486.6 327.09 486.85 324.45 487.1 321.93 487.35 319.55 487.6 317.33 487.85 315.29 488.1 313.44 488.35 311.79 488.6 310.37 488.85 309.18 489.1 308.23 489.35 307.53 489.6 307.09 489.85 306.91 490.1 306.97 490.35 307.27 490.6 307.78 490.85 308.52 491.1 309.47 491.35 310.63 491.6 311.99 491.85 313.55 492.1 315.29 492.35 317.2 492.6 319.26 492.85 321.48 493.1 323.83 493.35 326.29 493.6 328.86 493.85 331.51 494.1 334.23 494.35 337 494.6 339.8 494.85 342.61 495.1 345.43 495.35 348.22 495.6 350.97 495.85 353.66 496.1 356.28 496.35 358.81 496.6 361.23 496.85 363.52 497.1 365.68 497.35 367.69 497.6 369.53 497.85 371.2 498.1 372.68 498.35 373.96 498.6 375.04 498.85 375.9 499.1 376.55 499.35 376.98 499.6 377.18 499.85 377.15 500.1 376.81 500.35 376.18 500.6 375.25 500.85 374.03 501.1 372.53 501.35 370.77 501.6 368.76 501.85 366.5 502.1 364.03 502.35 361.36 502.6 358.52 502.85 355.51 503.1 352.38 503.35 349.14 503.6 345.82 503.85 342.45 504.1 339.05 504.35 335.65 504.6 332.28 504.85 328.96 505.1 325.72 505.35 322.59 505.6 319.58 505.85 316.74 506.1 314.07 506.35 311.6 506.6 309.34 506.85 307.33 507.1 305.57 507.35 304.07 507.6 302.85 507.85 301.92 508.1 301.29 508.35 300.95 508.6 300.93 508.85 301.21 509.1 301.82 509.35 302.73 509.6 303.95 509.85 305.46 510.1 307.26 510.35 309.32 510.6 311.64 510.85 314.19 511.1 316.95 511.35 319.9 511.6 323.02 511.85 326.29 512.1 329.67 512.35 333.14 512.6 336.67 512.85 340.24 513.1 343.81 513.35 347.36 513.6 350.85 513.85 354.27 514.1 357.59 514.35 360.77 514.6 363.79 514.85 366.63 515.1 369.27 515.35 371.68 515.6 373.85 515.85 375.75 516.1 377.38 516.35 378.72 516.6 379.76 516.85 380.48 517.1 380.9 517.35 380.99 517.6 380.78 517.85 380.27 518.1 379.47 518.35 378.37 518.6 377 518.85 375.35 519.1 373.44 519.35 371.29 519.6 368.9 519.85 366.31 520.1 363.52 520.35 360.55 520.6 357.44 520.85 354.19 521.1 350.84 521.35 347.41 521.6 343.92 521.85 340.41 522.1 336.88 522.35 333.38 522.6 329.92 522.85 326.54 523.1 323.25 523.35 320.08 523.6 317.05 523.85 314.19 524.1 311.51 524.35 309.04 524.6 306.79 524.85 304.78 525.1 303.03 525.35 301.54 525.6 300.34 525.85 299.41 526.1 298.78 526.35 298.45 526.6 298.43 526.85 298.77 527.1 299.47 527.35 300.54 527.6 301.97 527.85 303.74 528.1 305.84 528.35 308.25 528.6 310.94 528.85 313.91 529.1 317.11 529.35 320.53 529.6 324.14 529.85 327.9 530.1 331.78 530.35 335.75 530.6 339.77 530.85 343.82 531.1 347.85 531.35 351.83 531.6 355.73 531.85 359.52 532.1 363.16 532.35 366.62 532.6 369.87 532.85 372.88 533.1 375.64 533.35 378.1 533.6 380.27 533.85 382.1 534.1 383.6 534.35 384.74 534.6 385.52 534.85 385.93 535.1 385.97 535.35 385.66 535.6 384.99 535.85 383.98 536.1 382.63 536.35 380.96 536.6 378.97 536.85 376.68 537.1 374.1 537.35 371.27 537.6 368.19 537.85 364.89 538.1 361.4 538.35 357.74 538.6 353.94 538.85 350.02 539.1 346.02 539.35 341.96 539.6 337.88 539.85 333.81 540.1 329.77 540.35 325.8 540.6 321.93 540.85 318.18 541.1 314.58 541.35 311.16 541.6 307.95 541.85 304.97 542.1 302.23 542.35 299.77 542.6 297.6 542.85 295.74 543.1 294.19 543.35 292.98 543.6 292.1 543.85 291.58 544.1 291.4 544.35 291.6 544.6 292.2 544.85 293.2 545.1 294.59 545.35 296.35 545.6 298.48 545.85 300.95 546.1 303.75 546.35 306.85 546.6 310.23 546.85 313.87 547.1 317.72 547.35 321.77 547.6 325.99 547.85 330.32 548.1 334.76 548.35 339.24 548.6 343.75 548.85 348.25 549.1 352.7 549.35 357.06 549.6 361.29 549.85 365.38 550.1 369.28 550.35 372.96 550.6 376.4 550.85 379.56 551.1 382.42 551.35 384.96 551.6 387.15 551.85 388.99 552.1 390.45 552.35 391.53 552.6 392.21 552.85 392.49 553.1 392.37 553.35 391.85 553.6 390.93 553.85 389.61 554.1 387.92 554.35 385.86 554.6 383.44 554.85 380.69 555.1 377.62 555.35 374.26 555.6 370.63 555.85 366.76 556.1 362.68 556.35 358.42 556.6 354.01 556.85 349.49 557.1 344.88 557.35 340.22 557.6 335.55 557.85 330.9 558.1 326.3 558.35 321.79 558.6 317.41 558.85 313.19 559.1 309.15 559.35 305.32 559.6 301.75 559.85 298.44 560.1 295.44 560.35 292.75 560.6 290.4 560.85 288.41 561.1 286.79 561.35 285.56 561.6 284.72 561.85 284.27 562.1 284.24 562.35 284.7 562.6 285.67 562.85 287.14 563.1 289.09 563.35 291.51 563.6 294.38 563.85 297.67 564.1 301.35 564.35 305.39 564.6 309.76 564.85 314.4 565.1 319.29 565.35 324.38 565.6 329.62 565.85 334.96 566.1 340.37 566.35 345.78 566.6 351.15 566.85 356.44 567.1 361.6 567.35 366.57 567.6 371.32 567.85 375.8 568.1 379.97 568.35 383.8 568.6 387.25 568.85 390.29 569.1 392.9 569.35 395.04 569.6 396.7 569.85 397.87 570.1 398.54 570.35 398.69 570.6 398.37 570.85 397.59 571.1 396.36 571.35 394.69 571.6 392.6 571.85 390.09 572.1 387.18 572.35 383.91 572.6 380.29 572.85 376.35 573.1 372.12 573.35 367.63 573.6 362.93 573.85 358.03 574.1 352.99 574.35 347.83 574.6 342.61 574.85 337.35 575.1 332.1 575.35 326.89 575.6 321.78 575.85 316.79 576.1 311.97 576.35 307.34 576.6 302.96 576.85 298.84 577.1 295.02 577.35 291.54 577.6 288.41 577.85 285.66 578.1 283.31 578.35 281.39 578.6 279.89 578.85 278.84 579.1 278.25 579.35 278.11 579.6 278.45 579.85 279.27 580.1 280.57 580.35 282.33 580.6 284.55 580.85 287.2 581.1 290.27 581.35 293.72 581.6 297.55 581.85 301.71 582.1 306.18 582.35 310.92 582.6 315.89 582.85 321.06 583.1 326.39 583.35 331.84 583.6 337.36 583.85 342.91 584.1 348.46 584.35 353.95 584.6 359.36 584.85 364.63 585.1 369.72 585.35 374.61 585.6 379.24 585.85 383.59 586.1 387.62 586.35 391.3 586.6 394.61 586.85 397.51 587.1 399.99 587.35 402.03 587.6 403.61 587.85 404.72 588.1 405.34 588.35 405.49 588.6 405.11 588.85 404.18 589.1 402.71 589.35 400.72 589.6 398.23 589.85 395.24 590.1 391.79 590.35 387.9 590.6 383.61 590.85 378.95 591.1 373.96 591.35 368.67 591.6 363.14 591.85 357.41 592.1 351.52 592.35 345.52 592.6 339.46 592.85 333.4 593.1 327.37 593.35 321.43 593.6 315.63 593.85 310.01 594.1 304.62 594.35 299.51 594.6 294.71 594.85 290.27 595.1 286.22 595.35 282.59 595.6 279.41 595.85 276.72 596.1 274.52 596.35 272.84 596.6 271.7 596.85 271.1 597.1 271.05 597.35 271.58 597.6 272.7 597.85 274.39 598.1 276.65 598.35 279.45 598.6 282.78 598.85 286.59 599.1 290.87 599.35 295.58 599.6 300.67 599.85 306.1 600.1 311.83 600.35 317.82 600.6 324 600.85 330.34 601.1 336.77 601.35 343.25 601.6 349.71 601.85 356.11 602.1 362.39 602.35 368.5 602.6 374.39 602.85 380.01 603.1 385.31 603.35 390.25 603.6 394.79 603.85 398.89 604.1 402.51 604.35 405.63 604.6 408.22 604.85 410.25 605.1 411.72 605.35 412.6 605.6 412.9 605.85 412.63 606.1 411.81 606.35 410.47 606.6 408.59 606.85 406.2 607.1 403.32 607.35 399.96 607.6 396.16 607.85 391.93 608.1 387.31 608.35 382.33 608.6 377.04 608.85 371.46 609.1 365.64 609.35 359.61 609.6 353.44 609.85 347.15 610.1 340.8 610.35 334.43 610.6 328.09 610.85 321.82 611.1 315.67 611.35 309.68 611.6 303.91 611.85 298.38 612.1 293.14 612.35 288.24 612.6 283.69 612.85 279.55 613.1 275.83 613.35 272.57 613.6 269.78 613.85 267.49 614.1 265.72 614.35 264.48 614.6 263.77 614.85 263.61 615.1 264.08 615.35 265.2 615.6 266.97 615.85 269.38 616.1 272.4 616.35 276.01 616.6 280.17 616.85 284.85 617.1 290.01 617.35 295.6 617.6 301.58 617.85 307.88 618.1 314.47 618.35 321.27 618.6 328.23 618.85 335.29 619.1 342.39 619.35 349.46 619.6 356.45 619.85 363.29 620.1 369.92 620.35 376.29 620.6 382.33 620.85 388.01 621.1 393.25 621.35 398.03 621.6 402.3 621.85 406.02 622.1 409.16 622.35 411.69 622.6 413.6 622.85 414.85 623.1 415.45 623.35 415.4 623.6 414.76 623.85 413.56 624.1 411.79 624.35 409.47 624.6 406.62 624.85 403.26 625.1 399.42 625.35 395.11 625.6 390.39 625.85 385.27 626.1 379.8 626.35 374.02 626.6 367.97 626.85 361.69 627.1 355.25 627.35 348.67 627.6 342.01 627.85 335.32 628.1 328.66 628.35 322.06 628.6 315.58 628.85 309.27 629.1 303.17 629.35 297.34 629.6 291.8 629.85 286.61 630.1 281.8 630.35 277.41 630.6 273.47 630.85 270.01 631.1 267.06 631.35 264.63 631.6 262.75 631.85 261.43 632.1 260.68 632.35 260.51 632.6 260.97 632.85 262.09 633.1 263.84 633.35 266.23 633.6 269.22 633.85 272.81 634.1 276.95 634.35 281.61 634.6 286.75 634.85 292.34 635.1 298.33 635.35 304.67 635.6 311.3 635.85 318.17 636.1 325.24 636.35 332.43 636.6 339.69 636.85 346.97 637.1 354.2 637.35 361.32 637.6 368.28 637.85 375.01 638.1 381.48 638.35 387.61 638.6 393.36 638.85 398.69 639.1 403.55 639.35 407.9 639.6 411.71 639.85 414.95 640.1 417.58 640.35 419.59 640.6 420.96 640.85 421.68 641.1 421.75 641.35 421.18 641.6 419.98 641.85 418.16 642.1 415.74 642.35 412.73 642.6 409.15 642.85 405.04 643.1 400.42 643.35 395.33 643.6 389.8 643.85 383.89 644.1 377.63 644.35 371.08 644.6 364.28 644.85 357.28 645.1 350.14 645.35 342.91 645.6 335.64 645.85 328.4 646.1 321.24 646.35 314.21 646.6 307.36 646.85 300.76 647.1 294.43 647.35 288.45 647.6 282.84 647.85 277.66 648.1 272.95 648.35 268.73 648.6 265.04 648.85 261.92 649.1 259.37 649.35 257.43 649.6 256.11 649.85 255.41 650.1 255.36 650.35 256 650.6 257.36 650.85 259.42 651.1 262.16 651.35 265.55 651.6 269.58 651.85 274.21 652.1 279.39 652.35 285.08 652.6 291.23 652.85 297.8 653.1 304.72 653.35 311.94 653.6 319.39 653.85 327.01 654.1 334.74 654.35 342.51 654.6 350.25 654.85 357.9 655.1 365.39 655.35 372.66 655.6 379.64 655.85 386.28 656.1 392.53 656.35 398.32 656.6 403.6 656.85 408.34 657.1 412.49 657.35 416.02 657.6 418.89 657.85 421.08 658.1 422.58 658.35 423.37 658.6 423.45 658.85 422.88 659.1 421.68 659.35 419.85 659.6 417.42 659.85 414.4 660.1 410.81 660.35 406.69 660.6 402.05 660.85 396.93 661.1 391.38 661.35 385.44 661.6 379.14 661.85 372.54 662.1 365.68 662.35 358.61 662.6 351.4 662.85 344.08 663.1 336.73 663.35 329.38 663.6 322.1 663.85 314.94 664.1 307.95 664.35 301.19 664.6 294.7 664.85 288.54 665.1 282.75 665.35 277.37 665.6 272.44 665.85 268 666.1 264.08 666.35 260.72 666.6 257.93 666.85 255.74 667.1 254.17 667.35 253.22 667.6 252.9 667.85 253.28 668.1 254.4 668.35 256.26 668.6 258.85 668.85 262.13 669.1 266.09 669.35 270.68 669.6 275.87 669.85 281.61 670.1 287.85 670.35 294.54" stroke="#000" stroke-width="1.2" fill="none" stroke-linejoin="round"/><path d="M57.6 339.9H281.8" stroke="#000" stroke-width="5.5" fill="none"/><path d="M55.65 339.9a1.95 1.95 0 1 0 3.9 0a1.95 1.95 0 1 0 -3.9 0M56.8 339.9a1.95 1.95 0 1 0 3.9 0a1.95 1.95 0 1 0 -3.9 0M57.95 339.9a1.95 1.95 0 1 0 3.9 0a1.95 1.95 0 1 0 -3.9 0M59.1 339.9a1.95 1.95 0 1 0 3.9 0a1.95 1.95 0 1 0 -3.9 0M60.25 339.9a1.95 1.95 0 1 0 3.9 0a1.95 1.95 0 1 0 -3.9 0M61.4 339.9a1.95 1.95 0 1 0 3.9 0a1.95 1.95 0 1 0 -3.9 0M62.55 339.9a1.95 1.95 0 1 0 3.9 0a1.95 1.95 0 1 0 -3.9 0M63.7 339.9a1.95 1.95 0 1 0 3.9 0a1.95 1.95 0 1 0 -3.9 0M64.85 339.9a1.95 1.95 0 1 0 3.9 0a1.95 1.95 0 1 0 -3.9 0M66 339.9a1.95 1.95 0 1 0 3.9 0a1.95 1.95 0 1 0 -3.9 0M67.15 339.9a1.95 1.95 0 1 0 3.9 0a1.95 1.95 0 1 0 -3.9 0M68.3 339.9a1.95 1.95 0 1 0 3.9 0a1.95 1.95 0 1 0 -3.9 0M69.45 339.9a1.95 1.95 0 1 0 3.9 0a1.95 1.95 0 1 0 -3.9 0M70.6 339.9a1.95 1.95 0 1 0 3.9 0a1.95 1.95 0 1 0 -3.9 0M71.75 339.9a1.95 1.95 0 1 0 3.9 0a1.95 1.95 0 1 0 -3.9 0M72.9 339.9a1.95 1.95 0 1 0 3.9 0a1.95 1.95 0 1 0 -3.9 0M74.05 339.9a1.95 1.95 0 1 0 3.9 0a1.95 1.95 0 1 0 -3.9 0M75.2 339.9a1.95 1.95 0 1 0 3.9 0a1.95 1.95 0 1 0 -3.9 0M76.35 339.9a1.95 1.95 0 1 0 3.9 0a1.95 1.95 0 1 0 -3.9 0M77.5 339.9a1.95 1.95 0 1 0 3.9 0a1.95 1.95 0 1 0 -3.9 0M78.65 339.9a1.95 1.95 0 1 0 3.9 0a1.95 1.95 0 1 0 -3.9 0M79.8 339.9a1.95 1.95 0 1 0 3.9 0a1.95 1.95 0 1 0 -3.9 0M80.95 339.9a1.95 1.95 0 1 0 3.9 0a1.95 1.95 0 1 0 -3.9 0M82.1 339.9a1.95 1.95 0 1 0 3.9 0a1.95 1.95 0 1 0 -3.9 0M83.25 339.9a1.95 1.95 0 1 0 3.9 0a1.95 1.95 0 1 0 -3.9 0M84.4 339.9a1.95 1.95 0 1 0 3.9 0a1.95 1.95 0 1 0 -3.9 0M85.55 339.9a1.95 1.95 0 1 0 3.9 0a1.95 1.95 0 1 0 -3.9 0M86.7 339.9a1.95 1.95 0 1 0 3.9 0a1.95 1.95 0 1 0 -3.9 0M87.85 339.9a1.95 1.95 0 1 0 3.9 0a1.95 1.95 0 1 0 -3.9 0M89 339.9a1.95 1.95 0 1 0 3.9 0a1.95 1.95 0 1 0 -3.9 0M90.15 339.9a1.95 1.95 0 1 0 3.9 0a1.95 1.95 0 1 0 -3.9 0M91.3 339.9a1.95 1.95 0 1 0 3.9 0a1.95 1.95 0 1 0 -3.9 0M92.45 339.9a1.95 1.95 0 1 0 3.9 0a1.95 1.95 0 1 0 -3.9 0M93.6 339.9a1.95 1.95 0 1 0 3.9 0a1.95 1.95 0 1 0 -3.9 0M94.75 339.9a1.95 1.95 0 1 0 3.9 0a1.95 1.95 0 1 0 -3.9 0M95.9 339.9a1.95 1.95 0 1 0 3.9 0a1.95 1.95 0 1 0 -3.9 0M97.05 339.9a1.95 1.95 0 1 0 3.9 0a1.95 1.95 0 1 0 -3.9 0M98.2 339.9a1.95 1.95 0 1 0 3.9 0a1.95 1.95 0 1 0 -3.9 0M99.35 339.9a1.95 1.95 0 1 0 3.9 0a1.95 1.95 0 1 0 -3.9 0M100.5 339.9a1.95 1.95 0 1 0 3.9 0a1.95 1.95 0 1 0 -3.9 0M101.65 339.9a1.95 1.95 0 1 0 3.9 0a1.95 1.95 0 1 0 -3.9 0M102.8 339.9a1.95 1.95 0 1 0 3.9 0a1.95 1.95 0 1 0 -3.9 0M103.95 339.9a1.95 1.95 0 1 0 3.9 0a1.95 1.95 0 1 0 -3.9 0M105.1 339.9a1.95 1.95 0 1 0 3.9 0a1.95 1.95 0 1 0 -3.9 0M106.25 339.9a1.95 1.95 0 1 0 3.9 0a1.95 1.95 0 1 0 -3.9 0M107.4 339.9a1.95 1.95 0 1 0 3.9 0a1.95 1.95 0 1 0 -3.9 0M108.55 339.9a1.95 1.95 0 1 0 3.9 0a1.95 1.95 0 1 0 -3.9 0M109.7 339.9a1.95 1.95 0 1 0 3.9 0a1.95 1.95 0 1 0 -3.9 0M110.85 339.9a1.95 1.95 0 1 0 3.9 0a1.95 1.95 0 1 0 -3.9 0M112 339.9a1.95 1.95 0 1 0 3.9 0a1.95 1.95 0 1 0 -3.9 0M113.15 339.9a1.95 1.95 0 1 0 3.9 0a1.95 1.95 0 1 0 -3.9 0M114.3 339.9a1.95 1.95 0 1 0 3.9 0a1.95 1.95 0 1 0 -3.9 0M115.45 339.9a1.95 1.95 0 1 0 3.9 0a1.95 1.95 0 1 0 -3.9 0M116.6 339.9a1.95 1.95 0 1 0 3.9 0a1.95 1.95 0 1 0 -3.9 0M117.75 339.9a1.95 1.95 0 1 0 3.9 0a1.95 1.95 0 1 0 -3.9 0M118.9 339.9a1.95 1.95 0 1 0 3.9 0a1.95 1.95 0 1 0 -3.9 0M120.05 339.9a1.95 1.95 0 1 0 3.9 0a1.95 1.95 0 1 0 -3.9 0M121.2 339.9a1.95 1.95 0 1 0 3.9 0a1.95 1.95 0 1 0 -3.9 0M122.35 339.9a1.95 1.95 0 1 0 3.9 0a1.95 1.95 0 1 0 -3.9 0M123.5 339.9a1.95 1.95 0 1 0 3.9 0a1.95 1.95 0 1 0 -3.9 0M124.65 339.9a1.95 1.95 0 1 0 3.9 0a1.95 1.95 0 1 0 -3.9 0M125.8 339.9a1.95 1.95 0 1 0 3.9 0a1.95 1.95 0 1 0 -3.9 0M126.95 339.9a1.95 1.95 0 1 0 3.9 0a1.95 1.95 0 1 0 -3.9 0M128.1 339.9a1.95 1.95 0 1 0 3.9 0a1.95 1.95 0 1 0 -3.9 0M129.25 339.9a1.95 1.95 0 1 0 3.9 0a1.95 1.95 0 1 0 -3.9 0M130.4 339.9a1.95 1.95 0 1 0 3.9 0a1.95 1.95 0 1 0 -3.9 0M131.55 339.9a1.95 1.95 0 1 0 3.9 0a1.95 1.95 0 1 0 -3.9 0M132.7 339.9a1.95 1.95 0 1 0 3.9 0a1.95 1.95 0 1 0 -3.9 0M133.85 339.9a1.95 1.95 0 1 0 3.9 0a1.95 1.95 0 1 0 -3.9 0M135 339.9a1.95 1.95 0 1 0 3.9 0a1.95 1.95 0 1 0 -3.9 0M136.15 339.9a1.95 1.95 0 1 0 3.9 0a1.95 1.95 0 1 0 -3.9 0M137.3 339.9a1.95 1.95 0 1 0 3.9 0a1.95 1.95 0 1 0 -3.9 0M138.45 339.9a1.95 1.95 0 1 0 3.9 0a1.95 1.95 0 1 0 -3.9 0M139.6 339.9a1.95 1.95 0 1 0 3.9 0a1.95 1.95 0 1 0 -3.9 0M140.75 339.9a1.95 1.95 0 1 0 3.9 0a1.95 1.95 0 1 0 -3.9 0M141.9 339.9a1.95 1.95 0 1 0 3.9 0a1.95 1.95 0 1 0 -3.9 0M143.05 339.9a1.95 1.95 0 1 0 3.9 0a1.95 1.95 0 1 0 -3.9 0M144.2 339.9a1.95 1.95 0 1 0 3.9 0a1.95 1.95 0 1 0 -3.9 0M145.35 339.9a1.95 1.95 0 1 0 3.9 0a1.95 1.95 0 1 0 -3.9 0M146.5 339.9a1.95 1.95 0 1 0 3.9 0a1.95 1.95 0 1 0 -3.9 0M147.65 339.9a1.95 1.95 0 1 0 3.9 0a1.95 1.95 0 1 0 -3.9 0M148.8 339.9a1.95 1.95 0 1 0 3.9 0a1.95 1.95 0 1 0 -3.9 0M149.95 339.9a1.95 1.95 0 1 0 3.9 0a1.95 1.95 0 1 0 -3.9 0M151.1 339.9a1.95 1.95 0 1 0 3.9 0a1.95 1.95 0 1 0 -3.9 0M152.25 339.9a1.95 1.95 0 1 0 3.9 0a1.95 1.95 0 1 0 -3.9 0M153.4 339.9a1.95 1.95 0 1 0 3.9 0a1.95 1.95 0 1 0 -3.9 0M154.55 339.9a1.95 1.95 0 1 0 3.9 0a1.95 1.95 0 1 0 -3.9 0M155.7 339.9a1.95 1.95 0 1 0 3.9 0a1.95 1.95 0 1 0 -3.9 0M156.85 339.9a1.95 1.95 0 1 0 3.9 0a1.95 1.95 0 1 0 -3.9 0M158 339.9a1.95 1.95 0 1 0 3.9 0a1.95 1.95 0 1 0 -3.9 0M159.15 339.9a1.95 1.95 0 1 0 3.9 0a1.95 1.95 0 1 0 -3.9 0M160.3 339.9a1.95 1.95 0 1 0 3.9 0a1.95 1.95 0 1 0 -3.9 0M161.45 339.9a1.95 1.95 0 1 0 3.9 0a1.95 1.95 0 1 0 -3.9 0M162.6 339.9a1.95 1.95 0 1 0 3.9 0a1.95 1.95 0 1 0 -3.9 0M163.75 339.9a1.95 1.95 0 1 0 3.9 0a1.95 1.95 0 1 0 -3.9 0M164.9 339.9a1.95 1.95 0 1 0 3.9 0a1.95 1.95 0 1 0 -3.9 0M166.05 339.9a1.95 1.95 0 1 0 3.9 0a1.95 1.95 0 1 0 -3.9 0M167.2 339.9a1.95 1.95 0 1 0 3.9 0a1.95 1.95 0 1 0 -3.9 0M168.35 339.9a1.95 1.95 0 1 0 3.9 0a1.95 1.95 0 1 0 -3.9 0M169.5 339.9a1.95 1.95 0 1 0 3.9 0a1.95 1.95 0 1 0 -3.9 0M170.65 339.9a1.95 1.95 0 1 0 3.9 0a1.95 1.95 0 1 0 -3.9 0M171.8 339.9a1.95 1.95 0 1 0 3.9 0a1.95 1.95 0 1 0 -3.9 0M172.95 339.9a1.95 1.95 0 1 0 3.9 0a1.95 1.95 0 1 0 -3.9 0M174.1 339.9a1.95 1.95 0 1 0 3.9 0a1.95 1.95 0 1 0 -3.9 0M175.25 339.9a1.95 1.95 0 1 0 3.9 0a1.95 1.95 0 1 0 -3.9 0M176.4 339.9a1.95 1.95 0 1 0 3.9 0a1.95 1.95 0 1 0 -3.9 0M177.55 339.9a1.95 1.95 0 1 0 3.9 0a1.95 1.95 0 1 0 -3.9 0M178.7 339.9a1.95 1.95 0 1 0 3.9 0a1.95 1.95 0 1 0 -3.9 0M179.85 339.9a1.95 1.95 0 1 0 3.9 0a1.95 1.95 0 1 0 -3.9 0M181 339.9a1.95 1.95 0 1 0 3.9 0a1.95 1.95 0 1 0 -3.9 0M182.15 339.9a1.95 1.95 0 1 0 3.9 0a1.95 1.95 0 1 0 -3.9 0M183.3 339.9a1.95 1.95 0 1 0 3.9 0a1.95 1.95 0 1 0 -3.9 0M184.45 339.9a1.95 1.95 0 1 0 3.9 0a1.95 1.95 0 1 0 -3.9 0M185.6 339.9a1.95 1.95 0 1 0 3.9 0a1.95 1.95 0 1 0 -3.9 0M186.75 339.9a1.95 1.95 0 1 0 3.9 0a1.95 1.95 0 1 0 -3.9 0M187.9 339.9a1.95 1.95 0 1 0 3.9 0a1.95 1.95 0 1 0 -3.9 0M189.05 339.9a1.95 1.95 0 1 0 3.9 0a1.95 1.95 0 1 0 -3.9 0M190.2 339.9a1.95 1.95 0 1 0 3.9 0a1.95 1.95 0 1 0 -3.9 0M191.35 339.9a1.95 1.95 0 1 0 3.9 0a1.95 1.95 0 1 0 -3.9 0M192.5 339.9a1.95 1.95 0 1 0 3.9 0a1.95 1.95 0 1 0 -3.9 0M193.65 339.9a1.95 1.95 0 1 0 3.9 0a1.95 1.95 0 1 0 -3.9 0M194.8 339.9a1.95 1.95 0 1 0 3.9 0a1.95 1.95 0 1 0 -3.9 0M195.95 339.9a1.95 1.95 0 1 0 3.9 0a1.95 1.95 0 1 0 -3.9 0M197.1 339.9a1.95 1.95 0 1 0 3.9 0a1.95 1.95 0 1 0 -3.9 0M198.25 339.9a1.95 1.95 0 1 0 3.9 0a1.95 1.95 0 1 0 -3.9 0M199.4 339.9a1.95 1.95 0 1 0 3.9 0a1.95 1.95 0 1 0 -3.9 0M200.55 339.9a1.95 1.95 0 1 0 3.9 0a1.95 1.95 0 1 0 -3.9 0M201.7 339.9a1.95 1.95 0 1 0 3.9 0a1.95 1.95 0 1 0 -3.9 0M202.85 339.9a1.95 1.95 0 1 0 3.9 0a1.95 1.95 0 1 0 -3.9 0M204 339.9a1.95 1.95 0 1 0 3.9 0a1.95 1.95 0 1 0 -3.9 0M205.15 339.9a1.95 1.95 0 1 0 3.9 0a1.95 1.95 0 1 0 -3.9 0M206.3 339.9a1.95 1.95 0 1 0 3.9 0a1.95 1.95 0 1 0 -3.9 0M207.45 339.9a1.95 1.95 0 1 0 3.9 0a1.95 1.95 0 1 0 -3.9 0M208.6 339.9a1.95 1.95 0 1 0 3.9 0a1.95 1.95 0 1 0 -3.9 0M209.75 339.9a1.95 1.95 0 1 0 3.9 0a1.95 1.95 0 1 0 -3.9 0M210.9 339.9a1.95 1.95 0 1 0 3.9 0a1.95 1.95 0 1 0 -3.9 0M212.05 339.9a1.95 1.95 0 1 0 3.9 0a1.95 1.95 0 1 0 -3.9 0M213.2 339.9a1.95 1.95 0 1 0 3.9 0a1.95 1.95 0 1 0 -3.9 0M214.35 339.9a1.95 1.95 0 1 0 3.9 0a1.95 1.95 0 1 0 -3.9 0M215.5 339.9a1.95 1.95 0 1 0 3.9 0a1.95 1.95 0 1 0 -3.9 0M216.65 339.9a1.95 1.95 0 1 0 3.9 0a1.95 1.95 0 1 0 -3.9 0M217.8 339.9a1.95 1.95 0 1 0 3.9 0a1.95 1.95 0 1 0 -3.9 0M218.95 339.9a1.95 1.95 0 1 0 3.9 0a1.95 1.95 0 1 0 -3.9 0M220.1 339.9a1.95 1.95 0 1 0 3.9 0a1.95 1.95 0 1 0 -3.9 0M221.25 339.9a1.95 1.95 0 1 0 3.9 0a1.95 1.95 0 1 0 -3.9 0M222.4 339.9a1.95 1.95 0 1 0 3.9 0a1.95 1.95 0 1 0 -3.9 0M223.55 339.9a1.95 1.95 0 1 0 3.9 0a1.95 1.95 0 1 0 -3.9 0M224.7 339.9a1.95 1.95 0 1 0 3.9 0a1.95 1.95 0 1 0 -3.9 0M225.85 339.9a1.95 1.95 0 1 0 3.9 0a1.95 1.95 0 1 0 -3.9 0M227 339.9a1.95 1.95 0 1 0 3.9 0a1.95 1.95 0 1 0 -3.9 0M228.15 339.9a1.95 1.95 0 1 0 3.9 0a1.95 1.95 0 1 0 -3.9 0M229.3 339.9a1.95 1.95 0 1 0 3.9 0a1.95 1.95 0 1 0 -3.9 0M230.45 339.9a1.95 1.95 0 1 0 3.9 0a1.95 1.95 0 1 0 -3.9 0M231.6 339.9a1.95 1.95 0 1 0 3.9 0a1.95 1.95 0 1 0 -3.9 0M232.75 339.9a1.95 1.95 0 1 0 3.9 0a1.95 1.95 0 1 0 -3.9 0M233.9 339.9a1.95 1.95 0 1 0 3.9 0a1.95 1.95 0 1 0 -3.9 0M235.05 339.9a1.95 1.95 0 1 0 3.9 0a1.95 1.95 0 1 0 -3.9 0M236.2 339.9a1.95 1.95 0 1 0 3.9 0a1.95 1.95 0 1 0 -3.9 0M237.35 339.9a1.95 1.95 0 1 0 3.9 0a1.95 1.95 0 1 0 -3.9 0M238.5 339.9a1.95 1.95 0 1 0 3.9 0a1.95 1.95 0 1 0 -3.9 0M239.65 339.9a1.95 1.95 0 1 0 3.9 0a1.95 1.95 0 1 0 -3.9 0M240.8 339.9a1.95 1.95 0 1 0 3.9 0a1.95 1.95 0 1 0 -3.9 0M241.95 339.9a1.95 1.95 0 1 0 3.9 0a1.95 1.95 0 1 0 -3.9 0M243.1 339.9a1.95 1.95 0 1 0 3.9 0a1.95 1.95 0 1 0 -3.9 0M244.25 339.9a1.95 1.95 0 1 0 3.9 0a1.95 1.95 0 1 0 -3.9 0M245.4 339.9a1.95 1.95 0 1 0 3.9 0a1.95 1.95 0 1 0 -3.9 0M246.55 339.9a1.95 1.95 0 1 0 3.9 0a1.95 1.95 0 1 0 -3.9 0M247.7 339.9a1.95 1.95 0 1 0 3.9 0a1.95 1.95 0 1 0 -3.9 0M248.85 339.9a1.95 1.95 0 1 0 3.9 0a1.95 1.95 0 1 0 -3.9 0M250 339.9a1.95 1.95 0 1 0 3.9 0a1.95 1.95 0 1 0 -3.9 0M251.15 339.9a1.95 1.95 0 1 0 3.9 0a1.95 1.95 0 1 0 -3.9 0M252.3 339.9a1.95 1.95 0 1 0 3.9 0a1.95 1.95 0 1 0 -3.9 0M253.45 339.9a1.95 1.95 0 1 0 3.9 0a1.95 1.95 0 1 0 -3.9 0M254.6 339.9a1.95 1.95 0 1 0 3.9 0a1.95 1.95 0 1 0 -3.9 0M255.75 339.9a1.95 1.95 0 1 0 3.9 0a1.95 1.95 0 1 0 -3.9 0M256.9 339.9a1.95 1.95 0 1 0 3.9 0a1.95 1.95 0 1 0 -3.9 0M258.05 339.9a1.95 1.95 0 1 0 3.9 0a1.95 1.95 0 1 0 -3.9 0M259.2 339.9a1.95 1.95 0 1 0 3.9 0a1.95 1.95 0 1 0 -3.9 0M260.35 339.9a1.95 1.95 0 1 0 3.9 0a1.95 1.95 0 1 0 -3.9 0M261.5 339.9a1.95 1.95 0 1 0 3.9 0a1.95 1.95 0 1 0 -3.9 0M262.65 339.9a1.95 1.95 0 1 0 3.9 0a1.95 1.95 0 1 0 -3.9 0M263.8 339.9a1.95 1.95 0 1 0 3.9 0a1.95 1.95 0 1 0 -3.9 0M264.95 339.9a1.95 1.95 0 1 0 3.9 0a1.95 1.95 0 1 0 -3.9 0M266.1 339.9a1.95 1.95 0 1 0 3.9 0a1.95 1.95 0 1 0 -3.9 0M267.25 339.9a1.95 1.95 0 1 0 3.9 0a1.95 1.95 0 1 0 -3.9 0M268.4 339.9a1.95 1.95 0 1 0 3.9 0a1.95 1.95 0 1 0 -3.9 0M269.55 339.9a1.95 1.95 0 1 0 3.9 0a1.95 1.95 0 1 0 -3.9 0M270.7 339.9a1.95 1.95 0 1 0 3.9 0a1.95 1.95 0 1 0 -3.9 0M271.85 339.9a1.95 1.95 0 1 0 3.9 0a1.95 1.95 0 1 0 -3.9 0M273 339.9a1.95 1.95 0 1 0 3.9 0a1.95 1.95 0 1 0 -3.9 0M274.15 339.9a1.95 1.95 0 1 0 3.9 0a1.95 1.95 0 1 0 -3.9 0M275.3 339.9a1.95 1.95 0 1 0 3.9 0a1.95 1.95 0 1 0 -3.9 0M276.45 339.9a1.95 1.95 0 1 0 3.9 0a1.95 1.95 0 1 0 -3.9 0M277.6 339.9a1.95 1.95 0 1 0 3.9 0a1.95 1.95 0 1 0 -3.9 0M278.75 339.9a1.95 1.95 0 1 0 3.9 0a1.95 1.95 0 1 0 -3.9 0M279.9 339.9a1.95 1.95 0 1 0 3.9 0a1.95 1.95 0 1 0 -3.9 0M281.05 339.9a1.95 1.95 0 1 0 3.9 0a1.95 1.95 0 1 0 -3.9 0M282.2 340.95a1.95 1.95 0 1 0 3.9 0a1.95 1.95 0 1 0 -3.9 0M283.35 345.06a1.95 1.95 0 1 0 3.9 0a1.95 1.95 0 1 0 -3.9 0M284.5 350.55a1.95 1.95 0 1 0 3.9 0a1.95 1.95 0 1 0 -3.9 0M285.65 356.15a1.95 1.95 0 1 0 3.9 0a1.95 1.95 0 1 0 -3.9 0M286.8 360.57a1.95 1.95 0 1 0 3.9 0a1.95 1.95 0 1 0 -3.9 0M287.95 360.76a1.95 1.95 0 1 0 3.9 0a1.95 1.95 0 1 0 -3.9 0M289.1 356.32a1.95 1.95 0 1 0 3.9 0a1.95 1.95 0 1 0 -3.9 0M290.25 350.47a1.95 1.95 0 1 0 3.9 0a1.95 1.95 0 1 0 -3.9 0M291.4 343.56a1.95 1.95 0 1 0 3.9 0a1.95 1.95 0 1 0 -3.9 0M292.55 336.06a1.95 1.95 0 1 0 3.9 0a1.95 1.95 0 1 0 -3.9 0M293.7 328.51a1.95 1.95 0 1 0 3.9 0a1.95 1.95 0 1 0 -3.9 0M294.85 321.47a1.95 1.95 0 1 0 3.9 0a1.95 1.95 0 1 0 -3.9 0M296 315.41a1.95 1.95 0 1 0 3.9 0a1.95 1.95 0 1 0 -3.9 0M297.15 310.7a1.95 1.95 0 1 0 3.9 0a1.95 1.95 0 1 0 -3.9 0M298.3 310.26a1.95 1.95 0 1 0 3.9 0a1.95 1.95 0 1 0 -3.9 0M299.45 316.17a1.95 1.95 0 1 0 3.9 0a1.95 1.95 0 1 0 -3.9 0M300.6 324.12a1.95 1.95 0 1 0 3.9 0a1.95 1.95 0 1 0 -3.9 0M301.75 333.37a1.95 1.95 0 1 0 3.9 0a1.95 1.95 0 1 0 -3.9 0M302.9 342.94a1.95 1.95 0 1 0 3.9 0a1.95 1.95 0 1 0 -3.9 0M304.05 351.79a1.95 1.95 0 1 0 3.9 0a1.95 1.95 0 1 0 -3.9 0M305.2 359.02a1.95 1.95 0 1 0 3.9 0a1.95 1.95 0 1 0 -3.9 0M306.35 364a1.95 1.95 0 1 0 3.9 0a1.95 1.95 0 1 0 -3.9 0M307.5 358.96a1.95 1.95 0 1 0 3.9 0a1.95 1.95 0 1 0 -3.9 0M308.65 351.64a1.95 1.95 0 1 0 3.9 0a1.95 1.95 0 1 0 -3.9 0M309.8 342.68a1.95 1.95 0 1 0 3.9 0a1.95 1.95 0 1 0 -3.9 0M310.95 332.99a1.95 1.95 0 1 0 3.9 0a1.95 1.95 0 1 0 -3.9 0M312.1 323.62a1.95 1.95 0 1 0 3.9 0a1.95 1.95 0 1 0 -3.9 0M313.25 315.56a1.95 1.95 0 1 0 3.9 0a1.95 1.95 0 1 0 -3.9 0M314.4 309.58a1.95 1.95 0 1 0 3.9 0a1.95 1.95 0 1 0 -3.9 0M315.55 310.71a1.95 1.95 0 1 0 3.9 0a1.95 1.95 0 1 0 -3.9 0M316.7 317.08a1.95 1.95 0 1 0 3.9 0a1.95 1.95 0 1 0 -3.9 0M317.85 325.33a1.95 1.95 0 1 0 3.9 0a1.95 1.95 0 1 0 -3.9 0M319 334.85a1.95 1.95 0 1 0 3.9 0a1.95 1.95 0 1 0 -3.9 0M320.15 344.88a1.95 1.95 0 1 0 3.9 0a1.95 1.95 0 1 0 -3.9 0M321.3 354.59a1.95 1.95 0 1 0 3.9 0a1.95 1.95 0 1 0 -3.9 0M322.45 363.17a1.95 1.95 0 1 0 3.9 0a1.95 1.95 0 1 0 -3.9 0M323.6 369.99a1.95 1.95 0 1 0 3.9 0a1.95 1.95 0 1 0 -3.9 0M324.75 373.39a1.95 1.95 0 1 0 3.9 0a1.95 1.95 0 1 0 -3.9 0M325.9 368.81a1.95 1.95 0 1 0 3.9 0a1.95 1.95 0 1 0 -3.9 0M327.05 362.56a1.95 1.95 0 1 0 3.9 0a1.95 1.95 0 1 0 -3.9 0M328.2 354.99a1.95 1.95 0 1 0 3.9 0a1.95 1.95 0 1 0 -3.9 0M329.35 346.62a1.95 1.95 0 1 0 3.9 0a1.95 1.95 0 1 0 -3.9 0M330.5 338.05a1.95 1.95 0 1 0 3.9 0a1.95 1.95 0 1 0 -3.9 0M331.65 329.92a1.95 1.95 0 1 0 3.9 0a1.95 1.95 0 1 0 -3.9 0M332.8 322.81a1.95 1.95 0 1 0 3.9 0a1.95 1.95 0 1 0 -3.9 0M333.95 317.18a1.95 1.95 0 1 0 3.9 0a1.95 1.95 0 1 0 -3.9 0M335.1 314.68a1.95 1.95 0 1 0 3.9 0a1.95 1.95 0 1 0 -3.9 0M336.25 318.81a1.95 1.95 0 1 0 3.9 0a1.95 1.95 0 1 0 -3.9 0M337.4 324.45a1.95 1.95 0 1 0 3.9 0a1.95 1.95 0 1 0 -3.9 0M338.55 331.25a1.95 1.95 0 1 0 3.9 0a1.95 1.95 0 1 0 -3.9 0M339.7 338.67a1.95 1.95 0 1 0 3.9 0a1.95 1.95 0 1 0 -3.9 0M340.85 346.12a1.95 1.95 0 1 0 3.9 0a1.95 1.95 0 1 0 -3.9 0M342 352.99a1.95 1.95 0 1 0 3.9 0a1.95 1.95 0 1 0 -3.9 0M343.15 358.76a1.95 1.95 0 1 0 3.9 0a1.95 1.95 0 1 0 -3.9 0M344.3 363.03a1.95 1.95 0 1 0 3.9 0a1.95 1.95 0 1 0 -3.9 0M345.45 361.4a1.95 1.95 0 1 0 3.9 0a1.95 1.95 0 1 0 -3.9 0M346.6 356.11a1.95 1.95 0 1 0 3.9 0a1.95 1.95 0 1 0 -3.9 0M347.75 349.33a1.95 1.95 0 1 0 3.9 0a1.95 1.95 0 1 0 -3.9 0M348.9 341.67a1.95 1.95 0 1 0 3.9 0a1.95 1.95 0 1 0 -3.9 0M350.05 333.87a1.95 1.95 0 1 0 3.9 0a1.95 1.95 0 1 0 -3.9 0M351.2 326.71a1.95 1.95 0 1 0 3.9 0a1.95 1.95 0 1 0 -3.9 0M352.35 320.84a1.95 1.95 0 1 0 3.9 0a1.95 1.95 0 1 0 -3.9 0M353.5 316.73a1.95 1.95 0 1 0 3.9 0a1.95 1.95 0 1 0 -3.9 0M354.65 319.63a1.95 1.95 0 1 0 3.9 0a1.95 1.95 0 1 0 -3.9 0M355.8 324.06a1.95 1.95 0 1 0 3.9 0a1.95 1.95 0 1 0 -3.9 0M356.95 329.55a1.95 1.95 0 1 0 3.9 0a1.95 1.95 0 1 0 -3.9 0M358.1 335.73a1.95 1.95 0 1 0 3.9 0a1.95 1.95 0 1 0 -3.9 0M359.25 342.15a1.95 1.95 0 1 0 3.9 0a1.95 1.95 0 1 0 -3.9 0M360.4 348.31a1.95 1.95 0 1 0 3.9 0a1.95 1.95 0 1 0 -3.9 0M361.55 353.76a1.95 1.95 0 1 0 3.9 0a1.95 1.95 0 1 0 -3.9 0M362.7 358.14a1.95 1.95 0 1 0 3.9 0a1.95 1.95 0 1 0 -3.9 0M363.85 360.78a1.95 1.95 0 1 0 3.9 0a1.95 1.95 0 1 0 -3.9 0M365 357.58a1.95 1.95 0 1 0 3.9 0a1.95 1.95 0 1 0 -3.9 0M366.15 353.11a1.95 1.95 0 1 0 3.9 0a1.95 1.95 0 1 0 -3.9 0M367.3 347.66a1.95 1.95 0 1 0 3.9 0a1.95 1.95 0 1 0 -3.9 0M368.45 341.62a1.95 1.95 0 1 0 3.9 0a1.95 1.95 0 1 0 -3.9 0M369.6 335.44a1.95 1.95 0 1 0 3.9 0a1.95 1.95 0 1 0 -3.9 0M370.75 330.42a1.95 1.95 0 1 0 3.9 0a1.95 1.95 0 1 0 -3.9 0M371.9 325.47a1.95 1.95 0 1 0 3.9 0a1.95 1.95 0 1 0 -3.9 0M373.05 321.21a1.95 1.95 0 1 0 3.9 0a1.95 1.95 0 1 0 -3.9 0M374.2 320.22a1.95 1.95 0 1 0 3.9 0a1.95 1.95 0 1 0 -3.9 0M375.35 323.8a1.95 1.95 0 1 0 3.9 0a1.95 1.95 0 1 0 -3.9 0M376.5 327.99a1.95 1.95 0 1 0 3.9 0a1.95 1.95 0 1 0 -3.9 0M377.65 332.65a1.95 1.95 0 1 0 3.9 0a1.95 1.95 0 1 0 -3.9 0M378.8 337.57a1.95 1.95 0 1 0 3.9 0a1.95 1.95 0 1 0 -3.9 0M379.8 341.87a1.95 1.95 0 1 0 3.9 0a1.95 1.95 0 1 0 -3.9 0M380.8 346.03a1.95 1.95 0 1 0 3.9 0a1.95 1.95 0 1 0 -3.9 0M381.8 349.9a1.95 1.95 0 1 0 3.9 0a1.95 1.95 0 1 0 -3.9 0M382.8 353.36a1.95 1.95 0 1 0 3.9 0a1.95 1.95 0 1 0 -3.9 0M383.8 356.34a1.95 1.95 0 1 0 3.9 0a1.95 1.95 0 1 0 -3.9 0M384.8 355.05a1.95 1.95 0 1 0 3.9 0a1.95 1.95 0 1 0 -3.9 0M385.8 352.02a1.95 1.95 0 1 0 3.9 0a1.95 1.95 0 1 0 -3.9 0M386.8 348.53a1.95 1.95 0 1 0 3.9 0a1.95 1.95 0 1 0 -3.9 0M387.8 344.73a1.95 1.95 0 1 0 3.9 0a1.95 1.95 0 1 0 -3.9 0M388.8 340.75a1.95 1.95 0 1 0 3.9 0a1.95 1.95 0 1 0 -3.9 0M389.8 336.77a1.95 1.95 0 1 0 3.9 0a1.95 1.95 0 1 0 -3.9 0M390.8 332.97a1.95 1.95 0 1 0 3.9 0a1.95 1.95 0 1 0 -3.9 0M391.8 329.48a1.95 1.95 0 1 0 3.9 0a1.95 1.95 0 1 0 -3.9 0M392.8 326.45a1.95 1.95 0 1 0 3.9 0a1.95 1.95 0 1 0 -3.9 0M393.8 325.04a1.95 1.95 0 1 0 3.9 0a1.95 1.95 0 1 0 -3.9 0M394.8 327.49a1.95 1.95 0 1 0 3.9 0a1.95 1.95 0 1 0 -3.9 0M395.8 330.35a1.95 1.95 0 1 0 3.9 0a1.95 1.95 0 1 0 -3.9 0M396.8 333.57a1.95 1.95 0 1 0 3.9 0a1.95 1.95 0 1 0 -3.9 0M397.8 337a1.95 1.95 0 1 0 3.9 0a1.95 1.95 0 1 0 -3.9 0M398.8 340.5a1.95 1.95 0 1 0 3.9 0a1.95 1.95 0 1 0 -3.9 0M399.8 343.93a1.95 1.95 0 1 0 3.9 0a1.95 1.95 0 1 0 -3.9 0M400.8 347.15a1.95 1.95 0 1 0 3.9 0a1.95 1.95 0 1 0 -3.9 0M401.8 350.01a1.95 1.95 0 1 0 3.9 0a1.95 1.95 0 1 0 -3.9 0M402.8 352.46a1.95 1.95 0 1 0 3.9 0a1.95 1.95 0 1 0 -3.9 0M403.8 351.46a1.95 1.95 0 1 0 3.9 0a1.95 1.95 0 1 0 -3.9 0M404.8 349.08a1.95 1.95 0 1 0 3.9 0a1.95 1.95 0 1 0 -3.9 0M405.8 346.36a1.95 1.95 0 1 0 3.9 0a1.95 1.95 0 1 0 -3.9 0M406.8 343.38a1.95 1.95 0 1 0 3.9 0a1.95 1.95 0 1 0 -3.9 0M407.8 340.24a1.95 1.95 0 1 0 3.9 0a1.95 1.95 0 1 0 -3.9 0M408.8 337.08a1.95 1.95 0 1 0 3.9 0a1.95 1.95 0 1 0 -3.9 0M409.8 334.01a1.95 1.95 0 1 0 3.9 0a1.95 1.95 0 1 0 -3.9 0M410.8 331.14a1.95 1.95 0 1 0 3.9 0a1.95 1.95 0 1 0 -3.9 0M411.8 328.58a1.95 1.95 0 1 0 3.9 0a1.95 1.95 0 1 0 -3.9 0M412.8 326.39a1.95 1.95 0 1 0 3.9 0a1.95 1.95 0 1 0 -3.9 0M413.8 327.48a1.95 1.95 0 1 0 3.9 0a1.95 1.95 0 1 0 -3.9 0M414.8 329.94a1.95 1.95 0 1 0 3.9 0a1.95 1.95 0 1 0 -3.9 0M415.8 332.75a1.95 1.95 0 1 0 3.9 0a1.95 1.95 0 1 0 -3.9 0M416.8 335.83a1.95 1.95 0 1 0 3.9 0a1.95 1.95 0 1 0 -3.9 0M417.8 339.06a1.95 1.95 0 1 0 3.9 0a1.95 1.95 0 1 0 -3.9 0M418.8 342.31a1.95 1.95 0 1 0 3.9 0a1.95 1.95 0 1 0 -3.9 0M419.8 345.45a1.95 1.95 0 1 0 3.9 0a1.95 1.95 0 1 0 -3.9 0M420.8 348.35a1.95 1.95 0 1 0 3.9 0a1.95 1.95 0 1 0 -3.9 0M421.8 350.92a1.95 1.95 0 1 0 3.9 0a1.95 1.95 0 1 0 -3.9 0M422.8 353.1a1.95 1.95 0 1 0 3.9 0a1.95 1.95 0 1 0 -3.9 0M423.8 351.14a1.95 1.95 0 1 0 3.9 0a1.95 1.95 0 1 0 -3.9 0M424.8 348.57a1.95 1.95 0 1 0 3.9 0a1.95 1.95 0 1 0 -3.9 0M425.8 345.66a1.95 1.95 0 1 0 3.9 0a1.95 1.95 0 1 0 -3.9 0M426.8 342.5a1.95 1.95 0 1 0 3.9 0a1.95 1.95 0 1 0 -3.9 0M427.8 339.22a1.95 1.95 0 1 0 3.9 0a1.95 1.95 0 1 0 -3.9 0M428.8 335.95a1.95 1.95 0 1 0 3.9 0a1.95 1.95 0 1 0 -3.9 0M429.8 332.84a1.95 1.95 0 1 0 3.9 0a1.95 1.95 0 1 0 -3.9 0M430.8 329.99a1.95 1.95 0 1 0 3.9 0a1.95 1.95 0 1 0 -3.9 0M431.8 327.5a1.95 1.95 0 1 0 3.9 0a1.95 1.95 0 1 0 -3.9 0M432.8 326.47a1.95 1.95 0 1 0 3.9 0a1.95 1.95 0 1 0 -3.9 0M433.8 329.06a1.95 1.95 0 1 0 3.9 0a1.95 1.95 0 1 0 -3.9 0M434.8 332.12a1.95 1.95 0 1 0 3.9 0a1.95 1.95 0 1 0 -3.9 0M435.8 335.55a1.95 1.95 0 1 0 3.9 0a1.95 1.95 0 1 0 -3.9 0M436.8 339.18a1.95 1.95 0 1 0 3.9 0a1.95 1.95 0 1 0 -3.9 0M437.8 342.83a1.95 1.95 0 1 0 3.9 0a1.95 1.95 0 1 0 -3.9 0M438.8 346.32a1.95 1.95 0 1 0 3.9 0a1.95 1.95 0 1 0 -3.9 0M439.8 349.47a1.95 1.95 0 1 0 3.9 0a1.95 1.95 0 1 0 -3.9 0M440.8 352.16a1.95 1.95 0 1 0 3.9 0a1.95 1.95 0 1 0 -3.9 0M441.8 352.12a1.95 1.95 0 1 0 3.9 0a1.95 1.95 0 1 0 -3.9 0M442.8 349.88a1.95 1.95 0 1 0 3.9 0a1.95 1.95 0 1 0 -3.9 0M443.8 347.29a1.95 1.95 0 1 0 3.9 0a1.95 1.95 0 1 0 -3.9 0M444.8 344.44a1.95 1.95 0 1 0 3.9 0a1.95 1.95 0 1 0 -3.9 0M445.8 341.41a1.95 1.95 0 1 0 3.9 0a1.95 1.95 0 1 0 -3.9 0M446.8 338.31a1.95 1.95 0 1 0 3.9 0a1.95 1.95 0 1 0 -3.9 0M447.8 335.26a1.95 1.95 0 1 0 3.9 0a1.95 1.95 0 1 0 -3.9 0M448.8 332.36a1.95 1.95 0 1 0 3.9 0a1.95 1.95 0 1 0 -3.9 0M449.8 329.72a1.95 1.95 0 1 0 3.9 0a1.95 1.95 0 1 0 -3.9 0M450.8 327.4a1.95 1.95 0 1 0 3.9 0a1.95 1.95 0 1 0 -3.9 0M451.8 326.41a1.95 1.95 0 1 0 3.9 0a1.95 1.95 0 1 0 -3.9 0M452.8 328.69a1.95 1.95 0 1 0 3.9 0a1.95 1.95 0 1 0 -3.9 0M453.8 331.37a1.95 1.95 0 1 0 3.9 0a1.95 1.95 0 1 0 -3.9 0M454.8 334.37a1.95 1.95 0 1 0 3.9 0a1.95 1.95 0 1 0 -3.9 0M455.8 337.58a1.95 1.95 0 1 0 3.9 0a1.95 1.95 0 1 0 -3.9 0M456.8 340.87a1.95 1.95 0 1 0 3.9 0a1.95 1.95 0 1 0 -3.9 0M457.8 344.1a1.95 1.95 0 1 0 3.9 0a1.95 1.95 0 1 0 -3.9 0M458.8 347.15a1.95 1.95 0 1 0 3.9 0a1.95 1.95 0 1 0 -3.9 0M459.8 349.9a1.95 1.95 0 1 0 3.9 0a1.95 1.95 0 1 0 -3.9 0M460.8 352.27a1.95 1.95 0 1 0 3.9 0a1.95 1.95 0 1 0 -3.9 0M461.8 352a1.95 1.95 0 1 0 3.9 0a1.95 1.95 0 1 0 -3.9 0M462.8 349.47a1.95 1.95 0 1 0 3.9 0a1.95 1.95 0 1 0 -3.9 0M463.8 346.53a1.95 1.95 0 1 0 3.9 0a1.95 1.95 0 1 0 -3.9 0M464.8 343.3a1.95 1.95 0 1 0 3.9 0a1.95 1.95 0 1 0 -3.9 0M465.8 339.89a1.95 1.95 0 1 0 3.9 0a1.95 1.95 0 1 0 -3.9 0M466.8 336.47a1.95 1.95 0 1 0 3.9 0a1.95 1.95 0 1 0 -3.9 0M467.8 333.19a1.95 1.95 0 1 0 3.9 0a1.95 1.95 0 1 0 -3.9 0M468.8 330.19a1.95 1.95 0 1 0 3.9 0a1.95 1.95 0 1 0 -3.9 0M469.8 327.57a1.95 1.95 0 1 0 3.9 0a1.95 1.95 0 1 0 -3.9 0M470.8 326.47a1.95 1.95 0 1 0 3.9 0a1.95 1.95 0 1 0 -3.9 0M471.8 329.06a1.95 1.95 0 1 0 3.9 0a1.95 1.95 0 1 0 -3.9 0M472.8 332.12a1.95 1.95 0 1 0 3.9 0a1.95 1.95 0 1 0 -3.9 0M473.8 335.55a1.95 1.95 0 1 0 3.9 0a1.95 1.95 0 1 0 -3.9 0M474.8 339.18a1.95 1.95 0 1 0 3.9 0a1.95 1.95 0 1 0 -3.9 0M475.8 342.83a1.95 1.95 0 1 0 3.9 0a1.95 1.95 0 1 0 -3.9 0M476.8 346.32a1.95 1.95 0 1 0 3.9 0a1.95 1.95 0 1 0 -3.9 0M477.8 349.47a1.95 1.95 0 1 0 3.9 0a1.95 1.95 0 1 0 -3.9 0M478.8 352.16a1.95 1.95 0 1 0 3.9 0a1.95 1.95 0 1 0 -3.9 0M479.8 351.91a1.95 1.95 0 1 0 3.9 0a1.95 1.95 0 1 0 -3.9 0M480.8 349.17a1.95 1.95 0 1 0 3.9 0a1.95 1.95 0 1 0 -3.9 0M481.8 345.98a1.95 1.95 0 1 0 3.9 0a1.95 1.95 0 1 0 -3.9 0M482.8 342.47a1.95 1.95 0 1 0 3.9 0a1.95 1.95 0 1 0 -3.9 0M483.8 338.82a1.95 1.95 0 1 0 3.9 0a1.95 1.95 0 1 0 -3.9 0M484.8 335.19a1.95 1.95 0 1 0 3.9 0a1.95 1.95 0 1 0 -3.9 0M485.8 331.8a1.95 1.95 0 1 0 3.9 0a1.95 1.95 0 1 0 -3.9 0M486.8 328.77a1.95 1.95 0 1 0 3.9 0a1.95 1.95 0 1 0 -3.9 0M487.8 326.24a1.95 1.95 0 1 0 3.9 0a1.95 1.95 0 1 0 -3.9 0M488.8 327.71a1.95 1.95 0 1 0 3.9 0a1.95 1.95 0 1 0 -3.9 0M489.8 330.21a1.95 1.95 0 1 0 3.9 0a1.95 1.95 0 1 0 -3.9 0M490.8 333.05a1.95 1.95 0 1 0 3.9 0a1.95 1.95 0 1 0 -3.9 0M491.8 336.15a1.95 1.95 0 1 0 3.9 0a1.95 1.95 0 1 0 -3.9 0M492.8 339.39a1.95 1.95 0 1 0 3.9 0a1.95 1.95 0 1 0 -3.9 0M493.8 342.63a1.95 1.95 0 1 0 3.9 0a1.95 1.95 0 1 0 -3.9 0M494.8 345.75a1.95 1.95 0 1 0 3.9 0a1.95 1.95 0 1 0 -3.9 0M495.8 348.62a1.95 1.95 0 1 0 3.9 0a1.95 1.95 0 1 0 -3.9 0M496.8 351.16a1.95 1.95 0 1 0 3.9 0a1.95 1.95 0 1 0 -3.9 0M497.8 353.09a1.95 1.95 0 1 0 3.9 0a1.95 1.95 0 1 0 -3.9 0M498.8 350.64a1.95 1.95 0 1 0 3.9 0a1.95 1.95 0 1 0 -3.9 0M499.8 347.7a1.95 1.95 0 1 0 3.9 0a1.95 1.95 0 1 0 -3.9 0M500.8 344.38a1.95 1.95 0 1 0 3.9 0a1.95 1.95 0 1 0 -3.9 0M501.8 340.82a1.95 1.95 0 1 0 3.9 0a1.95 1.95 0 1 0 -3.9 0M502.8 337.2a1.95 1.95 0 1 0 3.9 0a1.95 1.95 0 1 0 -3.9 0M503.8 333.69a1.95 1.95 0 1 0 3.9 0a1.95 1.95 0 1 0 -3.9 0M504.8 330.47a1.95 1.95 0 1 0 3.9 0a1.95 1.95 0 1 0 -3.9 0M505.8 327.67a1.95 1.95 0 1 0 3.9 0a1.95 1.95 0 1 0 -3.9 0M506.8 326.46a1.95 1.95 0 1 0 3.9 0a1.95 1.95 0 1 0 -3.9 0M507.8 329.02a1.95 1.95 0 1 0 3.9 0a1.95 1.95 0 1 0 -3.9 0M508.8 332.04a1.95 1.95 0 1 0 3.9 0a1.95 1.95 0 1 0 -3.9 0M509.8 335.42a1.95 1.95 0 1 0 3.9 0a1.95 1.95 0 1 0 -3.9 0M510.8 339.01a1.95 1.95 0 1 0 3.9 0a1.95 1.95 0 1 0 -3.9 0M511.8 342.62a1.95 1.95 0 1 0 3.9 0a1.95 1.95 0 1 0 -3.9 0M512.8 346.08a1.95 1.95 0 1 0 3.9 0a1.95 1.95 0 1 0 -3.9 0M513.8 349.22a1.95 1.95 0 1 0 3.9 0a1.95 1.95 0 1 0 -3.9 0M514.8 351.93a1.95 1.95 0 1 0 3.9 0a1.95 1.95 0 1 0 -3.9 0M515.8 352.22a1.95 1.95 0 1 0 3.9 0a1.95 1.95 0 1 0 -3.9 0M516.8 349.7a1.95 1.95 0 1 0 3.9 0a1.95 1.95 0 1 0 -3.9 0M517.8 346.76a1.95 1.95 0 1 0 3.9 0a1.95 1.95 0 1 0 -3.9 0M518.8 343.51a1.95 1.95 0 1 0 3.9 0a1.95 1.95 0 1 0 -3.9 0M519.8 340.07a1.95 1.95 0 1 0 3.9 0a1.95 1.95 0 1 0 -3.9 0M520.8 336.61a1.95 1.95 0 1 0 3.9 0a1.95 1.95 0 1 0 -3.9 0M521.8 333.29a1.95 1.95 0 1 0 3.9 0a1.95 1.95 0 1 0 -3.9 0M522.8 330.24a1.95 1.95 0 1 0 3.9 0a1.95 1.95 0 1 0 -3.9 0M523.8 327.59a1.95 1.95 0 1 0 3.9 0a1.95 1.95 0 1 0 -3.9 0M524.8 326.48a1.95 1.95 0 1 0 3.9 0a1.95 1.95 0 1 0 -3.9 0M525.8 329.14a1.95 1.95 0 1 0 3.9 0a1.95 1.95 0 1 0 -3.9 0M526.8 332.29a1.95 1.95 0 1 0 3.9 0a1.95 1.95 0 1 0 -3.9 0M527.8 335.82a1.95 1.95 0 1 0 3.9 0a1.95 1.95 0 1 0 -3.9 0M528.8 339.55a1.95 1.95 0 1 0 3.9 0a1.95 1.95 0 1 0 -3.9 0M529.8 343.28a1.95 1.95 0 1 0 3.9 0a1.95 1.95 0 1 0 -3.9 0M530.8 346.81a1.95 1.95 0 1 0 3.9 0a1.95 1.95 0 1 0 -3.9 0M531.8 349.96a1.95 1.95 0 1 0 3.9 0a1.95 1.95 0 1 0 -3.9 0M532.8 352.62a1.95 1.95 0 1 0 3.9 0a1.95 1.95 0 1 0 -3.9 0M533.8 351.49a1.95 1.95 0 1 0 3.9 0a1.95 1.95 0 1 0 -3.9 0M534.8 348.8a1.95 1.95 0 1 0 3.9 0a1.95 1.95 0 1 0 -3.9 0M535.8 345.71a1.95 1.95 0 1 0 3.9 0a1.95 1.95 0 1 0 -3.9 0M536.8 342.35a1.95 1.95 0 1 0 3.9 0a1.95 1.95 0 1 0 -3.9 0M537.8 338.85a1.95 1.95 0 1 0 3.9 0a1.95 1.95 0 1 0 -3.9 0M538.8 335.38a1.95 1.95 0 1 0 3.9 0a1.95 1.95 0 1 0 -3.9 0M539.8 332.11a1.95 1.95 0 1 0 3.9 0a1.95 1.95 0 1 0 -3.9 0M540.8 329.17a1.95 1.95 0 1 0 3.9 0a1.95 1.95 0 1 0 -3.9 0M541.8 326.66a1.95 1.95 0 1 0 3.9 0a1.95 1.95 0 1 0 -3.9 0M542.8 327.42a1.95 1.95 0 1 0 3.9 0a1.95 1.95 0 1 0 -3.9 0M543.8 330.17a1.95 1.95 0 1 0 3.9 0a1.95 1.95 0 1 0 -3.9 0M544.8 333.35a1.95 1.95 0 1 0 3.9 0a1.95 1.95 0 1 0 -3.9 0M545.8 336.84a1.95 1.95 0 1 0 3.9 0a1.95 1.95 0 1 0 -3.9 0M546.8 340.46a1.95 1.95 0 1 0 3.9 0a1.95 1.95 0 1 0 -3.9 0M547.8 344.03a1.95 1.95 0 1 0 3.9 0a1.95 1.95 0 1 0 -3.9 0M548.8 347.38a1.95 1.95 0 1 0 3.9 0a1.95 1.95 0 1 0 -3.9 0M549.8 350.36a1.95 1.95 0 1 0 3.9 0a1.95 1.95 0 1 0 -3.9 0M550.8 352.87a1.95 1.95 0 1 0 3.9 0a1.95 1.95 0 1 0 -3.9 0M551.8 351.24a1.95 1.95 0 1 0 3.9 0a1.95 1.95 0 1 0 -3.9 0M552.8 348.51a1.95 1.95 0 1 0 3.9 0a1.95 1.95 0 1 0 -3.9 0M553.8 345.39a1.95 1.95 0 1 0 3.9 0a1.95 1.95 0 1 0 -3.9 0M554.8 342a1.95 1.95 0 1 0 3.9 0a1.95 1.95 0 1 0 -3.9 0M555.8 338.5a1.95 1.95 0 1 0 3.9 0a1.95 1.95 0 1 0 -3.9 0M556.8 335.04a1.95 1.95 0 1 0 3.9 0a1.95 1.95 0 1 0 -3.9 0M557.8 331.8a1.95 1.95 0 1 0 3.9 0a1.95 1.95 0 1 0 -3.9 0M558.8 328.9a1.95 1.95 0 1 0 3.9 0a1.95 1.95 0 1 0 -3.9 0M559.8 326.44a1.95 1.95 0 1 0 3.9 0a1.95 1.95 0 1 0 -3.9 0M560.8 327.79a1.95 1.95 0 1 0 3.9 0a1.95 1.95 0 1 0 -3.9 0M561.8 330.8a1.95 1.95 0 1 0 3.9 0a1.95 1.95 0 1 0 -3.9 0M562.8 334.26a1.95 1.95 0 1 0 3.9 0a1.95 1.95 0 1 0 -3.9 0M563.8 338.01a1.95 1.95 0 1 0 3.9 0a1.95 1.95 0 1 0 -3.9 0M564.8 341.85a1.95 1.95 0 1 0 3.9 0a1.95 1.95 0 1 0 -3.9 0M565.8 345.56a1.95 1.95 0 1 0 3.9 0a1.95 1.95 0 1 0 -3.9 0M566.8 348.95a1.95 1.95 0 1 0 3.9 0a1.95 1.95 0 1 0 -3.9 0M567.8 351.85a1.95 1.95 0 1 0 3.9 0a1.95 1.95 0 1 0 -3.9 0M568.8 352.19a1.95 1.95 0 1 0 3.9 0a1.95 1.95 0 1 0 -3.9 0M569.8 349.61a1.95 1.95 0 1 0 3.9 0a1.95 1.95 0 1 0 -3.9 0M570.8 346.59a1.95 1.95 0 1 0 3.9 0a1.95 1.95 0 1 0 -3.9 0M571.8 343.25a1.95 1.95 0 1 0 3.9 0a1.95 1.95 0 1 0 -3.9 0M572.8 339.73a1.95 1.95 0 1 0 3.9 0a1.95 1.95 0 1 0 -3.9 0M573.8 336.2a1.95 1.95 0 1 0 3.9 0a1.95 1.95 0 1 0 -3.9 0M574.8 332.83a1.95 1.95 0 1 0 3.9 0a1.95 1.95 0 1 0 -3.9 0M575.8 329.78a1.95 1.95 0 1 0 3.9 0a1.95 1.95 0 1 0 -3.9 0M576.8 327.14a1.95 1.95 0 1 0 3.9 0a1.95 1.95 0 1 0 -3.9 0M577.8 326.91a1.95 1.95 0 1 0 3.9 0a1.95 1.95 0 1 0 -3.9 0M578.8 329.49a1.95 1.95 0 1 0 3.9 0a1.95 1.95 0 1 0 -3.9 0M579.8 332.51a1.95 1.95 0 1 0 3.9 0a1.95 1.95 0 1 0 -3.9 0M580.8 335.85a1.95 1.95 0 1 0 3.9 0a1.95 1.95 0 1 0 -3.9 0M581.8 339.37a1.95 1.95 0 1 0 3.9 0a1.95 1.95 0 1 0 -3.9 0M582.8 342.9a1.95 1.95 0 1 0 3.9 0a1.95 1.95 0 1 0 -3.9 0M583.8 346.27a1.95 1.95 0 1 0 3.9 0a1.95 1.95 0 1 0 -3.9 0M584.8 349.32a1.95 1.95 0 1 0 3.9 0a1.95 1.95 0 1 0 -3.9 0M585.8 351.96a1.95 1.95 0 1 0 3.9 0a1.95 1.95 0 1 0 -3.9 0M586.8 352.16a1.95 1.95 0 1 0 3.9 0a1.95 1.95 0 1 0 -3.9 0M587.8 349.47a1.95 1.95 0 1 0 3.9 0a1.95 1.95 0 1 0 -3.9 0M588.8 346.32a1.95 1.95 0 1 0 3.9 0a1.95 1.95 0 1 0 -3.9 0M589.8 342.83a1.95 1.95 0 1 0 3.9 0a1.95 1.95 0 1 0 -3.9 0M590.8 339.18a1.95 1.95 0 1 0 3.9 0a1.95 1.95 0 1 0 -3.9 0M591.8 335.55a1.95 1.95 0 1 0 3.9 0a1.95 1.95 0 1 0 -3.9 0M592.8 332.12a1.95 1.95 0 1 0 3.9 0a1.95 1.95 0 1 0 -3.9 0M593.8 329.06a1.95 1.95 0 1 0 3.9 0a1.95 1.95 0 1 0 -3.9 0M594.8 326.47a1.95 1.95 0 1 0 3.9 0a1.95 1.95 0 1 0 -3.9 0M595.8 327.72a1.95 1.95 0 1 0 3.9 0a1.95 1.95 0 1 0 -3.9 0M596.8 330.6a1.95 1.95 0 1 0 3.9 0a1.95 1.95 0 1 0 -3.9 0M597.8 333.91a1.95 1.95 0 1 0 3.9 0a1.95 1.95 0 1 0 -3.9 0M598.8 337.51a1.95 1.95 0 1 0 3.9 0a1.95 1.95 0 1 0 -3.9 0M599.8 341.22a1.95 1.95 0 1 0 3.9 0a1.95 1.95 0 1 0 -3.9 0M600.8 344.84a1.95 1.95 0 1 0 3.9 0a1.95 1.95 0 1 0 -3.9 0M601.8 348.19a1.95 1.95 0 1 0 3.9 0a1.95 1.95 0 1 0 -3.9 0M602.8 351.12a1.95 1.95 0 1 0 3.9 0a1.95 1.95 0 1 0 -3.9 0M603.8 352.88a1.95 1.95 0 1 0 3.9 0a1.95 1.95 0 1 0 -3.9 0M604.8 350.5a1.95 1.95 0 1 0 3.9 0a1.95 1.95 0 1 0 -3.9 0M605.8 347.68a1.95 1.95 0 1 0 3.9 0a1.95 1.95 0 1 0 -3.9 0M606.8 344.51a1.95 1.95 0 1 0 3.9 0a1.95 1.95 0 1 0 -3.9 0M607.8 341.11a1.95 1.95 0 1 0 3.9 0a1.95 1.95 0 1 0 -3.9 0M608.8 337.64a1.95 1.95 0 1 0 3.9 0a1.95 1.95 0 1 0 -3.9 0M609.8 334.26a1.95 1.95 0 1 0 3.9 0a1.95 1.95 0 1 0 -3.9 0M610.8 331.12a1.95 1.95 0 1 0 3.9 0a1.95 1.95 0 1 0 -3.9 0M611.8 328.34a1.95 1.95 0 1 0 3.9 0a1.95 1.95 0 1 0 -3.9 0M612.8 326a1.95 1.95 0 1 0 3.9 0a1.95 1.95 0 1 0 -3.9 0M613.8 328.32a1.95 1.95 0 1 0 3.9 0a1.95 1.95 0 1 0 -3.9 0M614.8 331.38a1.95 1.95 0 1 0 3.9 0a1.95 1.95 0 1 0 -3.9 0M615.8 334.86a1.95 1.95 0 1 0 3.9 0a1.95 1.95 0 1 0 -3.9 0M616.8 338.6a1.95 1.95 0 1 0 3.9 0a1.95 1.95 0 1 0 -3.9 0M617.8 342.39a1.95 1.95 0 1 0 3.9 0a1.95 1.95 0 1 0 -3.9 0M618.8 346.02a1.95 1.95 0 1 0 3.9 0a1.95 1.95 0 1 0 -3.9 0M619.8 349.31a1.95 1.95 0 1 0 3.9 0a1.95 1.95 0 1 0 -3.9 0M620.8 352.12a1.95 1.95 0 1 0 3.9 0a1.95 1.95 0 1 0 -3.9 0M621.8 351.97a1.95 1.95 0 1 0 3.9 0a1.95 1.95 0 1 0 -3.9 0M622.8 349.37a1.95 1.95 0 1 0 3.9 0a1.95 1.95 0 1 0 -3.9 0M623.8 346.36a1.95 1.95 0 1 0 3.9 0a1.95 1.95 0 1 0 -3.9 0M624.8 343.04a1.95 1.95 0 1 0 3.9 0a1.95 1.95 0 1 0 -3.9 0M625.8 339.55a1.95 1.95 0 1 0 3.9 0a1.95 1.95 0 1 0 -3.9 0M626.8 336.06a1.95 1.95 0 1 0 3.9 0a1.95 1.95 0 1 0 -3.9 0M627.8 332.74a1.95 1.95 0 1 0 3.9 0a1.95 1.95 0 1 0 -3.9 0M628.8 329.73a1.95 1.95 0 1 0 3.9 0a1.95 1.95 0 1 0 -3.9 0M629.8 327.13a1.95 1.95 0 1 0 3.9 0a1.95 1.95 0 1 0 -3.9 0M630.8 326.94a1.95 1.95 0 1 0 3.9 0a1.95 1.95 0 1 0 -3.9 0M631.8 329.63a1.95 1.95 0 1 0 3.9 0a1.95 1.95 0 1 0 -3.9 0M632.8 332.78a1.95 1.95 0 1 0 3.9 0a1.95 1.95 0 1 0 -3.9 0M633.8 336.27a1.95 1.95 0 1 0 3.9 0a1.95 1.95 0 1 0 -3.9 0M634.8 339.92a1.95 1.95 0 1 0 3.9 0a1.95 1.95 0 1 0 -3.9 0M635.8 343.55a1.95 1.95 0 1 0 3.9 0a1.95 1.95 0 1 0 -3.9 0M636.8 346.98a1.95 1.95 0 1 0 3.9 0a1.95 1.95 0 1 0 -3.9 0M637.8 350.04a1.95 1.95 0 1 0 3.9 0a1.95 1.95 0 1 0 -3.9 0M638.8 352.63a1.95 1.95 0 1 0 3.9 0a1.95 1.95 0 1 0 -3.9 0M639.8 351.47a1.95 1.95 0 1 0 3.9 0a1.95 1.95 0 1 0 -3.9 0M640.8 348.74a1.95 1.95 0 1 0 3.9 0a1.95 1.95 0 1 0 -3.9 0M641.8 345.61a1.95 1.95 0 1 0 3.9 0a1.95 1.95 0 1 0 -3.9 0M642.8 342.2a1.95 1.95 0 1 0 3.9 0a1.95 1.95 0 1 0 -3.9 0M643.8 338.66a1.95 1.95 0 1 0 3.9 0a1.95 1.95 0 1 0 -3.9 0M644.8 335.17a1.95 1.95 0 1 0 3.9 0a1.95 1.95 0 1 0 -3.9 0M645.8 331.88a1.95 1.95 0 1 0 3.9 0a1.95 1.95 0 1 0 -3.9 0M646.8 328.94a1.95 1.95 0 1 0 3.9 0a1.95 1.95 0 1 0 -3.9 0M647.8 326.45a1.95 1.95 0 1 0 3.9 0a1.95 1.95 0 1 0 -3.9 0M648.8 327.74a1.95 1.95 0 1 0 3.9 0a1.95 1.95 0 1 0 -3.9 0M649.8 330.66a1.95 1.95 0 1 0 3.9 0a1.95 1.95 0 1 0 -3.9 0M650.8 334.02a1.95 1.95 0 1 0 3.9 0a1.95 1.95 0 1 0 -3.9 0M651.8 337.67a1.95 1.95 0 1 0 3.9 0a1.95 1.95 0 1 0 -3.9 0M652.8 341.43a1.95 1.95 0 1 0 3.9 0a1.95 1.95 0 1 0 -3.9 0M653.8 345.08a1.95 1.95 0 1 0 3.9 0a1.95 1.95 0 1 0 -3.9 0M654.8 348.44a1.95 1.95 0 1 0 3.9 0a1.95 1.95 0 1 0 -3.9 0M655.8 351.36a1.95 1.95 0 1 0 3.9 0a1.95 1.95 0 1 0 -3.9 0M656.8 352.66a1.95 1.95 0 1 0 3.9 0a1.95 1.95 0 1 0 -3.9 0M657.8 350.2a1.95 1.95 0 1 0 3.9 0a1.95 1.95 0 1 0 -3.9 0M658.8 347.3a1.95 1.95 0 1 0 3.9 0a1.95 1.95 0 1 0 -3.9 0M659.8 344.06a1.95 1.95 0 1 0 3.9 0a1.95 1.95 0 1 0 -3.9 0M660.8 340.6a1.95 1.95 0 1 0 3.9 0a1.95 1.95 0 1 0 -3.9 0M661.8 337.1a1.95 1.95 0 1 0 3.9 0a1.95 1.95 0 1 0 -3.9 0M662.8 333.71a1.95 1.95 0 1 0 3.9 0a1.95 1.95 0 1 0 -3.9 0M663.8 330.59a1.95 1.95 0 1 0 3.9 0a1.95 1.95 0 1 0 -3.9 0M664.8 327.86a1.95 1.95 0 1 0 3.9 0a1.95 1.95 0 1 0 -3.9 0M665.8 326.25a1.95 1.95 0 1 0 3.9 0a1.95 1.95 0 1 0 -3.9 0M666.8 328.89a1.95 1.95 0 1 0 3.9 0a1.95 1.95 0 1 0 -3.9 0M667.8 332.05a1.95 1.95 0 1 0 3.9 0a1.95 1.95 0 1 0 -3.9 0M668.8 335.59a1.95 1.95 0 1 0 3.9 0a1.95 1.95 0 1 0 -3.9 0" stroke="#000" stroke-width="1.2" fill="none"/></g><rect x="57.6" y="6" width="611.8" height="186.8" fill="none" stroke="#111" stroke-width="1.45"/><rect x="57.6" y="246.5" width="611.8" height="186.8" fill="none" stroke="#111" stroke-width="1.45"/><path d="M134.07 192.8v-6.5M210.55 192.8v-6.5M287.02 192.8v-6.5M363.5 192.8v-6.5M439.98 192.8v-6.5M516.45 192.8v-6.5M592.93 192.8v-6.5M57.6 52.7h7M57.6 99.4h7M57.6 146.1h7" stroke="#000" stroke-width="1.3" fill="none"/><path d="M134.07 433.3v-6.5M210.55 433.3v-6.5M287.02 433.3v-6.5M363.5 433.3v-6.5M439.98 433.3v-6.5M516.45 433.3v-6.5M592.93 433.3v-6.5M57.6 293.2h7M57.6 339.9h7M57.6 386.6h7" stroke="#000" stroke-width="1.3" fill="none"/><rect x="78" y="16.3" width="108.2" height="39.2" rx="1" fill="#fff" stroke="#999" stroke-width="1"/><circle cx="97.5" cy="27.1" r="2.3" fill="none" stroke="#000" stroke-width="0.9"/><path d="M79.9 45.1H114" stroke="#000" stroke-width="1.3"/><text x="116.6" y="32.3" font-size="15.3">TD-ADRC</text><text x="116.6" y="50.2" font-size="15.3">ADRC</text><rect x="75.7" y="257.2" width="107.8" height="38.7" rx="1" fill="#fff" stroke="#999" stroke-width="1"/><circle cx="94.7" cy="267.5" r="2.1" fill="none" stroke="#000" stroke-width="1.2"/><path d="M77.6 285.5H111.4" stroke="#000" stroke-width="1.3"/><text x="114" y="272.7" font-size="15.3">TD-ADRC</text><text x="114" y="290.7" font-size="15.3">ADRC</text><text x="52" y="10.9" font-size="15.3" text-anchor="end">80</text><text x="52" y="57.6" font-size="15.3" text-anchor="end">40</text><text x="52" y="104.3" font-size="15.3" text-anchor="end">0</text><text x="52" y="151" font-size="15.3" text-anchor="end">–40</text><text x="52" y="197.7" font-size="15.3" text-anchor="end">–80</text><text x="52" y="251.4" font-size="15.3" text-anchor="end">0.08</text><text x="52" y="298.1" font-size="15.3" text-anchor="end">0.04</text><text x="52" y="344.8" font-size="15.3" text-anchor="end">0</text><text x="52" y="391.5" font-size="15.3" text-anchor="end">–0.04</text><text x="52" y="438.2" font-size="15.3" text-anchor="end">–0.08</text><text x="57.1" y="210" font-size="15.3" text-anchor="middle">0</text><text x="133.57" y="210" font-size="15.3" text-anchor="middle">500</text><text x="210.05" y="210" font-size="15.3" text-anchor="middle">1000</text><text x="286.52" y="210" font-size="15.3" text-anchor="middle">1500</text><text x="363" y="210" font-size="15.3" text-anchor="middle">2000</text><text x="439.48" y="210" font-size="15.3" text-anchor="middle">2500</text><text x="515.95" y="210" font-size="15.3" text-anchor="middle">3000</text><text x="592.43" y="210" font-size="15.3" text-anchor="middle">3500</text><text x="668.9" y="210" font-size="15.3" text-anchor="middle">4000</text><text x="57.1" y="449.5" font-size="15.3" text-anchor="middle">0</text><text x="133.57" y="449.5" font-size="15.3" text-anchor="middle">500</text><text x="210.05" y="449.5" font-size="15.3" text-anchor="middle">1000</text><text x="286.52" y="449.5" font-size="15.3" text-anchor="middle">1500</text><text x="363" y="449.5" font-size="15.3" text-anchor="middle">2000</text><text x="439.48" y="449.5" font-size="15.3" text-anchor="middle">2500</text><text x="515.95" y="449.5" font-size="15.3" text-anchor="middle">3000</text><text x="592.43" y="449.5" font-size="15.3" text-anchor="middle">3500</text><text x="668.9" y="449.5" font-size="15.3" text-anchor="middle">4000</text><text x="363.05" y="230.4" font-size="15.4" text-anchor="middle">Dimensionless time step</text><text x="363.05" y="471" font-size="15.4" text-anchor="middle">Dimensionless time step</text><text transform="translate(12.2 99.4) rotate(-90)" font-size="15.3" text-anchor="middle">Acceleration signal (m/s<tspan font-size="10" dy="-4.6">2</tspan><tspan dy="4.6">)</tspan></text><text transform="translate(12.2 339.2) rotate(-90)" font-size="15.4" text-anchor="middle">Control command <tspan font-style="italic">β</tspan><tspan font-style="italic" font-size="10" dy="3">c</tspan><tspan dy="-3"> (rad)</tspan></text></svg></body></html>
